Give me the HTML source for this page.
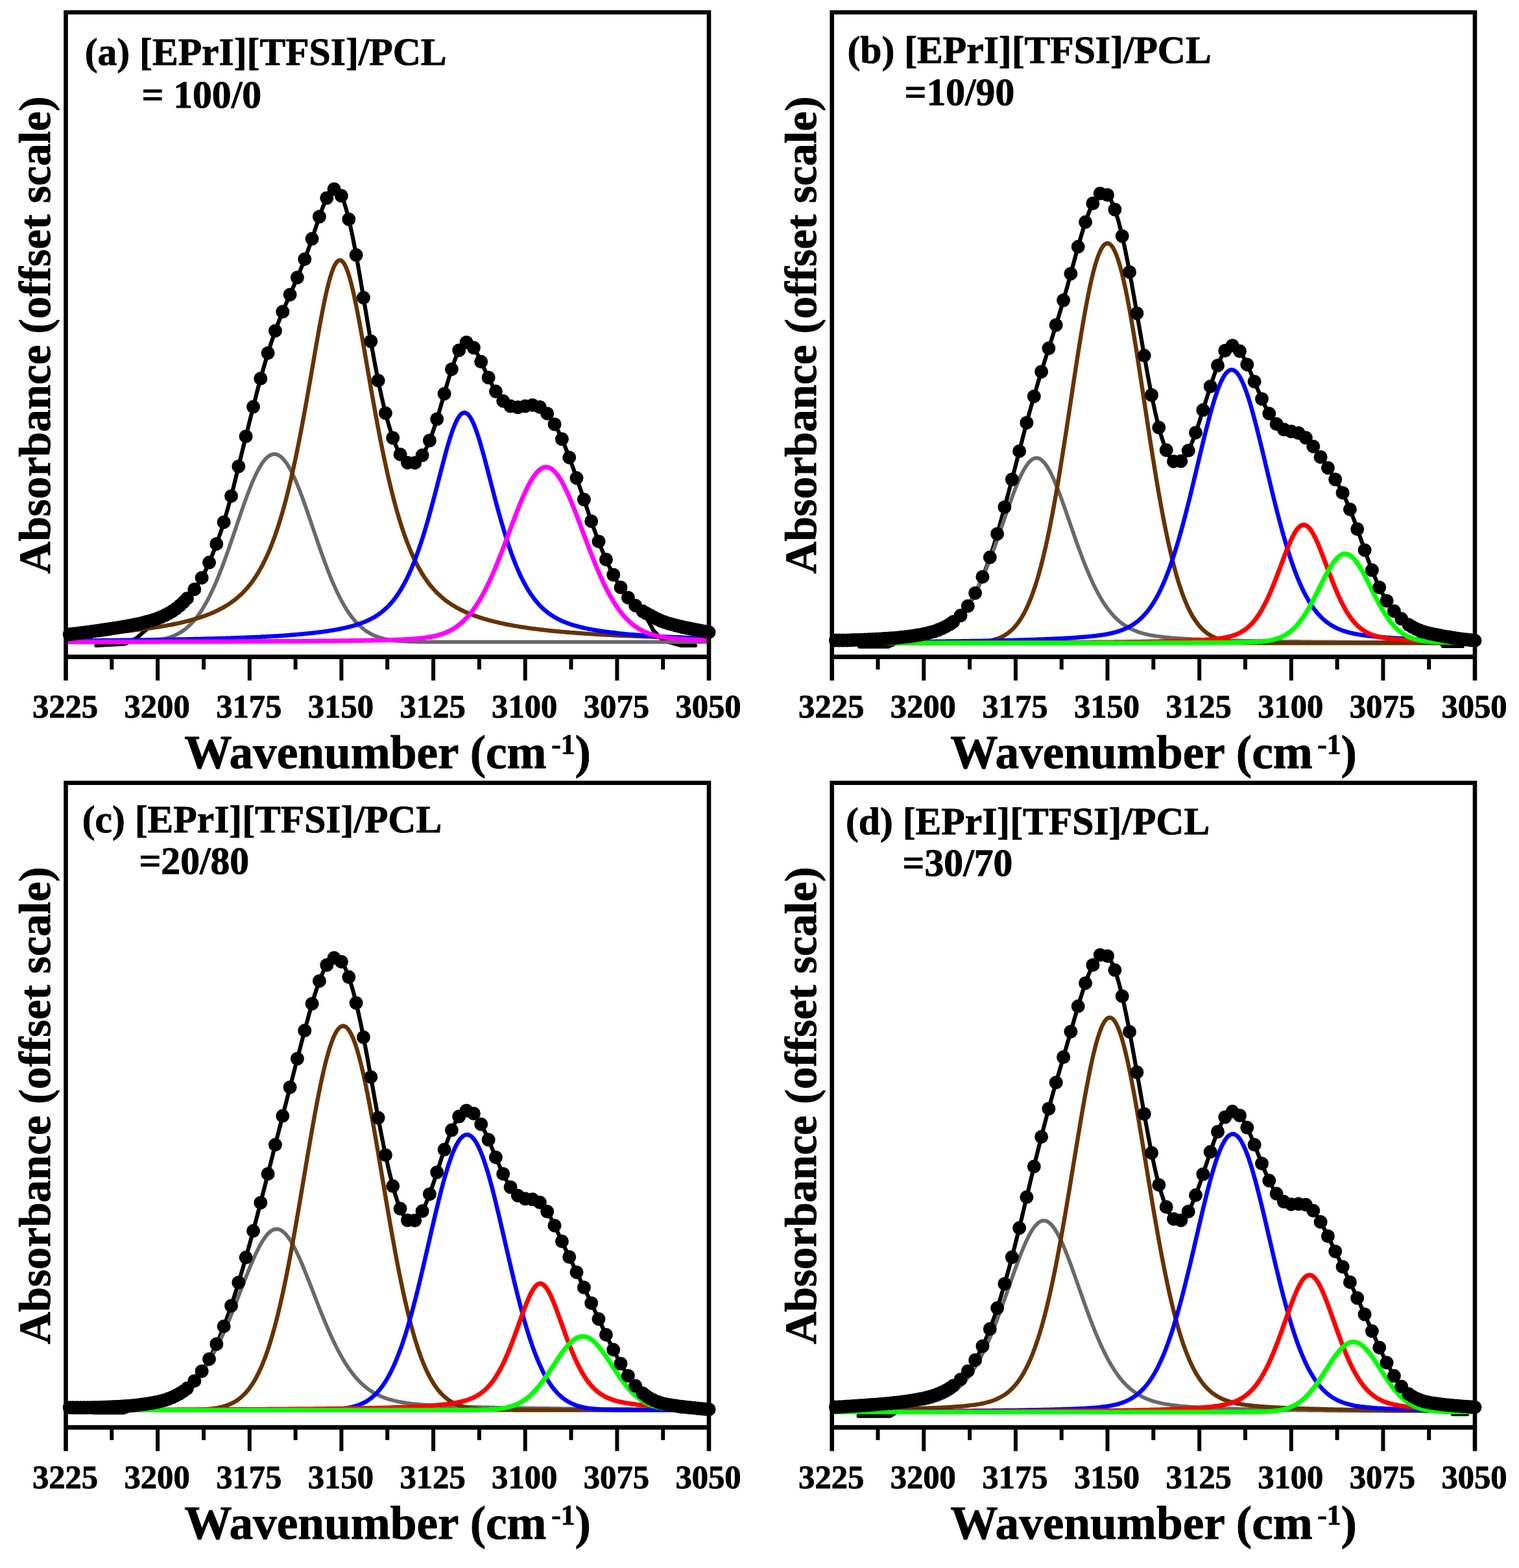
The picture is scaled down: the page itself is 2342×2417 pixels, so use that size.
<!DOCTYPE html>
<html lang="en"><head><meta charset="utf-8"><title>FTIR curve fitting of [EPrI][TFSI]/PCL blends</title>
<style>
html,body{margin:0;padding:0;background:#fff}
body{width:2342px;height:2417px;overflow:hidden}
svg{display:block}
text{fill:#000;text-rendering:geometricPrecision}
</style></head><body>
<svg width="2342" height="2417" viewBox="0 0 2342 2417">
<rect width="2342" height="2417" fill="#fff"/>
<g id="panel-a">
<path d="M148.5 995.0 L192.7 992.5 L210.0 984.0 L227.5 969.0 L268.0 940.6 L270.0 939.2 L272.0 937.7 L274.0 936.1 L276.0 934.5 L278.0 932.8 L280.0 931.0 L282.0 929.1 L284.0 927.1 L286.0 925.0 L288.0 922.9 L290.0 920.7 L292.0 918.4 L294.0 916.0 L296.0 913.5 L298.0 910.9 L300.0 908.1 L302.0 905.3 L304.0 902.3 L306.0 899.3 L308.0 896.1 L310.0 892.7 L312.0 889.0 L314.0 885.2 L316.0 881.2 L318.0 877.0 L320.0 872.7 L322.0 868.2 L324.0 863.5 L326.0 858.7 L328.0 853.7 L330.0 848.6 L332.0 843.3 L334.0 837.8 L336.0 832.3 L338.0 826.7 L340.0 820.9 L342.0 814.9 L344.0 808.6 L346.0 802.0 L348.0 795.2 L350.0 788.2 L352.0 781.1 L354.0 773.8 L356.0 766.4 L358.0 758.8 L360.0 750.9 L362.0 742.7 L364.0 734.5 L366.0 726.3 L368.0 718.1 L370.0 709.9 L372.0 701.8 L374.0 693.6 L376.0 685.4 L378.0 677.3 L380.0 669.1 L382.0 661.0 L384.0 652.9 L386.0 644.9 L388.0 636.9 L390.0 628.9 L392.0 621.0 L394.0 613.1 L396.0 605.3 L398.0 597.6 L400.0 590.1 L402.0 582.7 L404.0 575.4 L406.0 568.3 L408.0 561.3 L410.0 554.5 L412.0 547.8 L414.0 541.3 L416.0 535.0 L418.0 528.8 L420.0 522.8 L422.0 516.9 L424.0 511.2 L426.0 505.7 L428.0 500.3 L430.0 495.1 L432.0 490.0 L434.0 485.0 L436.0 480.1 L438.0 475.3 L440.0 470.6 L442.0 465.9 L444.0 461.3 L446.0 456.7 L448.0 452.1 L450.0 447.5 L452.0 442.9 L454.0 438.3 L456.0 433.6 L458.0 428.8 L460.0 424.0 L462.0 419.2 L464.0 414.2 L466.0 409.2 L468.0 404.1 L470.0 398.8 L472.0 393.5 L474.0 388.1 L476.0 382.7 L478.0 377.1 L480.0 371.3 L482.0 365.4 L484.0 359.4 L486.0 353.3 L488.0 347.2 L490.0 341.2 L492.0 335.3 L494.0 329.6 L496.0 324.0 L498.0 318.7 L500.0 313.6 L502.0 309.0 L504.0 304.7 L506.0 300.9 L508.0 297.7 L510.0 295.0 L512.0 293.0 L514.0 291.8 L516.0 291.2 L518.0 291.5 L520.0 292.6 L522.0 294.6 L524.0 297.3 L526.0 300.9 L528.0 305.3 L530.0 310.6 L532.0 316.6 L534.0 323.4 L536.0 330.8 L538.0 338.9 L540.0 347.6 L542.0 356.8 L544.0 366.4 L546.0 376.6 L548.0 387.1 L550.0 398.1 L552.0 409.3 L554.0 420.8 L556.0 432.4 L558.0 444.3 L560.0 456.2 L562.0 468.3 L564.0 480.3 L566.0 492.3 L568.0 504.2 L570.0 515.9 L572.0 527.4 L574.0 538.7 L576.0 549.8 L578.0 560.6 L580.0 571.1 L582.0 581.3 L584.0 591.2 L586.0 600.7 L588.0 609.9 L590.0 618.7 L592.0 627.1 L594.0 635.2 L596.0 642.9 L598.0 650.2 L600.0 657.2 L602.0 663.7 L604.0 669.9 L606.0 675.7 L608.0 681.0 L610.0 686.0 L612.0 690.6 L614.0 694.8 L616.0 698.6 L618.0 701.9 L620.0 704.9 L622.0 707.5 L624.0 709.7 L626.0 711.5 L628.0 712.9 L630.0 714.0 L632.0 714.6 L634.0 714.8 L636.0 714.7 L638.0 714.2 L640.0 713.3 L642.0 712.0 L644.0 710.4 L646.0 708.4 L648.0 706.1 L650.0 703.4 L652.0 700.3 L654.0 696.9 L656.0 693.2 L658.0 689.1 L660.0 684.7 L662.0 680.0 L664.0 674.9 L666.0 669.5 L668.0 663.7 L670.0 657.7 L672.0 651.5 L674.0 645.1 L676.0 638.5 L678.0 631.7 L680.0 624.7 L682.0 617.7 L684.0 610.6 L686.0 603.6 L688.0 596.7 L690.0 589.9 L692.0 583.2 L694.0 576.7 L696.0 570.4 L698.0 564.3 L700.0 558.5 L702.0 553.0 L704.0 548.0 L706.0 543.4 L708.0 539.4 L710.0 535.9 L712.0 532.9 L714.0 530.5 L716.0 528.8 L718.0 527.9 L720.0 527.7 L722.0 528.2 L724.0 529.2 L726.0 530.8 L728.0 532.9 L730.0 535.4 L732.0 538.4 L734.0 541.8 L736.0 545.6 L738.0 549.7 L740.0 553.8 L742.0 558.1 L744.0 562.4 L746.0 566.8 L748.0 571.2 L750.0 575.5 L752.0 579.8 L754.0 584.0 L756.0 588.0 L758.0 591.9 L760.0 595.7 L762.0 599.2 L764.0 602.6 L766.0 605.8 L768.0 608.8 L770.0 611.6 L772.0 614.1 L774.0 616.4 L776.0 618.5 L778.0 620.4 L780.0 622.0 L782.0 623.4 L784.0 624.6 L786.0 625.6 L788.0 626.4 L790.0 627.0 L792.0 627.4 L794.0 627.7 L796.0 627.9 L798.0 627.8 L800.0 627.7 L802.0 627.5 L804.0 627.1 L806.0 626.8 L808.0 626.4 L810.0 625.9 L812.0 625.5 L814.0 625.2 L816.0 624.8 L818.0 624.6 L820.0 624.4 L822.0 624.4 L824.0 624.5 L826.0 624.9 L828.0 625.6 L830.0 626.4 L832.0 627.3 L834.0 628.5 L836.0 629.9 L838.0 631.6 L840.0 633.4 L842.0 635.5 L844.0 637.7 L846.0 640.2 L848.0 642.9 L850.0 645.8 L852.0 648.9 L854.0 652.1 L856.0 655.6 L858.0 659.2 L860.0 663.1 L862.0 667.2 L864.0 671.5 L866.0 676.0 L868.0 680.6 L870.0 685.4 L872.0 690.4 L874.0 695.5 L876.0 700.7 L878.0 706.0 L880.0 711.5 L882.0 716.9 L884.0 722.5 L886.0 728.1 L888.0 733.8 L890.0 739.6 L892.0 745.4 L894.0 751.3 L896.0 757.1 L898.0 763.0 L900.0 768.9 L902.0 774.9 L904.0 780.8 L906.0 786.8 L908.0 792.7 L910.0 798.5 L912.0 804.3 L914.0 810.0 L916.0 815.7 L918.0 821.2 L920.0 826.7 L922.0 832.0 L924.0 837.3 L926.0 842.4 L928.0 847.4 L930.0 852.2 L932.0 857.0 L934.0 861.6 L936.0 866.1 L938.0 870.5 L940.0 874.7 L942.0 878.8 L944.0 882.8 L946.0 886.6 L948.0 890.3 L950.0 893.9 L952.0 897.3 L954.0 900.7 L956.0 903.9 L958.0 906.9 L960.0 909.9 L962.0 912.8 L964.0 915.6 L966.0 918.2 L968.0 920.7 L970.0 923.2 L972.0 925.5 L974.0 927.7 L976.0 929.8 L978.0 931.8 L980.0 933.7 L982.0 935.5 L984.0 937.2 L986.0 938.7 L988.0 940.2 L990.0 941.6 L992.0 942.9 L1007.5 972.0 L1022.0 987.0 L1050.0 995.0 L1072.0 995.0" fill="none" stroke="#000" stroke-width="6.2" stroke-linejoin="round" stroke-linecap="round"/>
<path d="M101.5 989.7 L104.0 989.7 L106.5 989.7 L109.0 989.7 L111.5 989.7 L114.0 989.7 L116.5 989.7 L119.0 989.7 L121.5 989.7 L124.0 989.7 L126.5 989.7 L129.0 989.7 L131.5 989.7 L134.0 989.7 L136.5 989.7 L139.0 989.7 L141.5 989.7 L144.0 989.7 L146.5 989.7 L149.0 989.7 L151.5 989.7 L154.0 989.7 L156.5 989.7 L159.0 989.7 L161.5 989.7 L164.0 989.7 L166.5 989.7 L169.0 989.7 L171.5 989.7 L174.0 989.7 L176.5 989.6 L179.0 989.6 L181.5 989.6 L184.0 989.6 L186.5 989.6 L189.0 989.6 L191.5 989.6 L194.0 989.5 L196.5 989.5 L199.0 989.5 L201.5 989.4 L204.0 989.4 L206.5 989.3 L209.0 989.3 L211.5 989.2 L214.0 989.1 L216.5 989.0 L219.0 988.9 L221.5 988.8 L224.0 988.6 L226.5 988.5 L229.0 988.3 L231.5 988.1 L234.0 987.8 L236.5 987.6 L239.0 987.3 L241.5 987.0 L244.0 986.6 L246.5 986.2 L249.0 985.7 L251.5 985.2 L254.0 984.6 L256.5 984.0 L259.0 983.2 L261.5 982.5 L264.0 981.6 L266.5 980.6 L269.0 979.6 L271.5 978.4 L274.0 977.2 L276.5 975.8 L279.0 974.3 L281.5 972.6 L284.0 970.9 L286.5 968.9 L289.0 966.9 L291.5 964.6 L294.0 962.2 L296.5 959.6 L299.0 956.8 L301.5 953.8 L304.0 950.6 L306.5 947.2 L309.0 943.6 L311.5 939.8 L314.0 935.7 L316.5 931.5 L319.0 927.0 L321.5 922.2 L324.0 917.3 L326.5 912.1 L329.0 906.7 L331.5 901.1 L334.0 895.2 L336.5 889.2 L339.0 882.9 L341.5 876.5 L344.0 869.9 L346.5 863.1 L349.0 856.2 L351.5 849.1 L354.0 842.0 L356.5 834.7 L359.0 827.4 L361.5 820.0 L364.0 812.7 L366.5 805.3 L369.0 797.9 L371.5 790.6 L374.0 783.4 L376.5 776.3 L379.0 769.4 L381.5 762.6 L384.0 756.1 L386.5 749.8 L389.0 743.7 L391.5 737.9 L394.0 732.5 L396.5 727.4 L399.0 722.7 L401.5 718.3 L404.0 714.4 L406.5 710.9 L409.0 707.9 L411.5 705.4 L414.0 703.3 L416.5 701.7 L419.0 700.7 L421.5 700.1 L424.0 700.0 L426.5 700.5 L429.0 701.5 L431.5 702.9 L434.0 704.9 L436.5 707.4 L439.0 710.3 L441.5 713.7 L444.0 717.5 L446.5 721.8 L449.0 726.4 L451.5 731.4 L454.0 736.8 L456.5 742.5 L459.0 748.5 L461.5 754.8 L464.0 761.3 L466.5 768.0 L469.0 774.9 L471.5 782.0 L474.0 789.2 L476.5 796.5 L479.0 803.8 L481.5 811.2 L484.0 818.6 L486.5 825.9 L489.0 833.3 L491.5 840.5 L494.0 847.7 L496.5 854.8 L499.0 861.7 L501.5 868.5 L504.0 875.2 L506.5 881.7 L509.0 887.9 L511.5 894.0 L514.0 899.9 L516.5 905.6 L519.0 911.0 L521.5 916.3 L524.0 921.3 L526.5 926.0 L529.0 930.6 L531.5 934.9 L534.0 939.0 L536.5 942.9 L539.0 946.5 L541.5 950.0 L544.0 953.2 L546.5 956.2 L549.0 959.0 L551.5 961.7 L554.0 964.1 L556.5 966.4 L559.0 968.5 L561.5 970.5 L564.0 972.3 L566.5 974.0 L569.0 975.5 L571.5 976.9 L574.0 978.2 L576.5 979.4 L579.0 980.4 L581.5 981.4 L584.0 982.3 L586.5 983.1 L589.0 983.8 L591.5 984.5 L594.0 985.1 L596.5 985.6 L599.0 986.1 L601.5 986.5 L604.0 986.9 L606.5 987.2 L609.0 987.5 L611.5 987.8 L614.0 988.0 L616.5 988.2 L619.0 988.4 L621.5 988.6 L624.0 988.7 L626.5 988.9 L629.0 989.0 L631.5 989.1 L634.0 989.2 L636.5 989.2 L639.0 989.3 L641.5 989.4 L644.0 989.4 L646.5 989.5 L649.0 989.5 L651.5 989.5 L654.0 989.5 L656.5 989.6 L659.0 989.6 L661.5 989.6 L664.0 989.6 L666.5 989.6 L669.0 989.6 L671.5 989.7 L674.0 989.7 L676.5 989.7 L679.0 989.7 L681.5 989.7 L684.0 989.7 L686.5 989.7 L689.0 989.7 L691.5 989.7 L694.0 989.7 L696.5 989.7 L699.0 989.7 L701.5 989.7 L704.0 989.7 L706.5 989.7 L709.0 989.7 L711.5 989.7 L714.0 989.7 L716.5 989.7 L719.0 989.7 L721.5 989.7 L724.0 989.7 L726.5 989.7 L729.0 989.7 L731.5 989.7 L734.0 989.7 L736.5 989.7 L739.0 989.7 L741.5 989.7 L744.0 989.7 L746.5 989.7 L749.0 989.7 L751.5 989.7 L754.0 989.7 L756.5 989.7 L759.0 989.7 L761.5 989.7 L764.0 989.7 L766.5 989.7 L769.0 989.7 L771.5 989.7 L774.0 989.7 L776.5 989.7 L779.0 989.7 L781.5 989.7 L784.0 989.7 L786.5 989.7 L789.0 989.7 L791.5 989.7 L794.0 989.7 L796.5 989.7 L799.0 989.7 L801.5 989.7 L804.0 989.7 L806.5 989.7 L809.0 989.7 L811.5 989.7 L814.0 989.7 L816.5 989.7 L819.0 989.7 L821.5 989.7 L824.0 989.7 L826.5 989.7 L829.0 989.7 L831.5 989.7 L834.0 989.7 L836.5 989.7 L839.0 989.7 L841.5 989.7 L844.0 989.7 L846.5 989.7 L849.0 989.7 L851.5 989.7 L854.0 989.7 L856.5 989.7 L859.0 989.7 L861.5 989.7 L864.0 989.7 L866.5 989.7 L869.0 989.7 L871.5 989.7 L874.0 989.7 L876.5 989.7 L879.0 989.7 L881.5 989.7 L884.0 989.7 L886.5 989.7 L889.0 989.7 L891.5 989.7 L894.0 989.7 L896.5 989.7 L899.0 989.7 L901.5 989.7 L904.0 989.7 L906.5 989.7 L909.0 989.7 L911.5 989.7 L914.0 989.7 L916.5 989.7 L919.0 989.7 L921.5 989.7 L924.0 989.7 L926.5 989.7 L929.0 989.7 L931.5 989.7 L934.0 989.7 L936.5 989.7 L939.0 989.7 L941.5 989.7 L944.0 989.7 L946.5 989.7 L949.0 989.7 L951.5 989.7 L954.0 989.7 L956.5 989.7 L959.0 989.7 L961.5 989.7 L964.0 989.7 L966.5 989.7 L969.0 989.7 L971.5 989.7 L974.0 989.7 L976.5 989.7 L979.0 989.7 L981.5 989.7 L984.0 989.7 L986.5 989.7 L989.0 989.7 L991.5 989.7 L994.0 989.7 L996.5 989.7 L999.0 989.7 L1001.5 989.7 L1004.0 989.7 L1006.5 989.7 L1009.0 989.7 L1011.5 989.7 L1014.0 989.7 L1016.5 989.7 L1019.0 989.7 L1021.5 989.7 L1024.0 989.7 L1026.5 989.7 L1029.0 989.7 L1031.5 989.7 L1034.0 989.7 L1036.5 989.7 L1039.0 989.7 L1041.5 989.7 L1044.0 989.7 L1046.5 989.7 L1049.0 989.7 L1051.5 989.7 L1054.0 989.7 L1056.5 989.7 L1059.0 989.7 L1061.5 989.7 L1064.0 989.7 L1066.5 989.7 L1069.0 989.7 L1071.5 989.7 L1074.0 989.7 L1076.5 989.7 L1079.0 989.7 L1081.5 989.7 L1084.0 989.7 L1086.5 989.7 L1089.0 989.7 L1091.5 989.7" fill="none" stroke="#696969" stroke-width="5.8" stroke-linejoin="round"/>
<path d="M101.5 979.2 L104.0 979.1 L106.5 978.9 L109.0 978.8 L111.5 978.7 L114.0 978.5 L116.5 978.4 L119.0 978.3 L121.5 978.1 L124.0 978.0 L126.5 977.9 L129.0 977.7 L131.5 977.6 L134.0 977.4 L136.5 977.3 L139.0 977.1 L141.5 976.9 L144.0 976.8 L146.5 976.6 L149.0 976.4 L151.5 976.3 L154.0 976.1 L156.5 975.9 L159.0 975.7 L161.5 975.5 L164.0 975.3 L166.5 975.1 L169.0 974.9 L171.5 974.7 L174.0 974.5 L176.5 974.3 L179.0 974.1 L181.5 973.9 L184.0 973.7 L186.5 973.4 L189.0 973.2 L191.5 973.0 L194.0 972.7 L196.5 972.5 L199.0 972.2 L201.5 972.0 L204.0 971.7 L206.5 971.4 L209.0 971.1 L211.5 970.8 L214.0 970.6 L216.5 970.3 L219.0 969.9 L221.5 969.6 L224.0 969.3 L226.5 969.0 L229.0 968.7 L231.5 968.3 L234.0 968.0 L236.5 967.6 L239.0 967.2 L241.5 966.8 L244.0 966.5 L246.5 966.1 L249.0 965.7 L251.5 965.2 L254.0 964.8 L256.5 964.4 L259.0 963.9 L261.5 963.4 L264.0 963.0 L266.5 962.5 L269.0 962.0 L271.5 961.5 L274.0 960.9 L276.5 960.4 L279.0 959.8 L281.5 959.2 L284.0 958.6 L286.5 958.0 L289.0 957.4 L291.5 956.7 L294.0 956.1 L296.5 955.4 L299.0 954.7 L301.5 953.9 L304.0 953.2 L306.5 952.4 L309.0 951.6 L311.5 950.7 L314.0 949.9 L316.5 949.0 L319.0 948.0 L321.5 947.1 L324.0 946.1 L326.5 945.0 L329.0 944.0 L331.5 942.9 L334.0 941.7 L336.5 940.5 L339.0 939.2 L341.5 937.9 L344.0 936.5 L346.5 935.1 L349.0 933.6 L351.5 932.0 L354.0 930.4 L356.5 928.7 L359.0 926.9 L361.5 925.0 L364.0 923.0 L366.5 920.9 L369.0 918.7 L371.5 916.4 L374.0 914.0 L376.5 911.4 L379.0 908.7 L381.5 905.9 L384.0 902.9 L386.5 899.8 L389.0 896.4 L391.5 892.9 L394.0 889.2 L396.5 885.3 L399.0 881.2 L401.5 876.9 L404.0 872.3 L406.5 867.4 L409.0 862.4 L411.5 857.0 L414.0 851.4 L416.5 845.4 L419.0 839.2 L421.5 832.6 L424.0 825.8 L426.5 818.5 L429.0 811.0 L431.5 803.0 L434.0 794.7 L436.5 786.1 L439.0 777.0 L441.5 767.6 L444.0 757.7 L446.5 747.5 L449.0 736.9 L451.5 725.8 L454.0 714.4 L456.5 702.6 L459.0 690.4 L461.5 677.9 L464.0 665.0 L466.5 651.7 L469.0 638.2 L471.5 624.4 L474.0 610.3 L476.5 596.1 L479.0 581.7 L481.5 567.2 L484.0 552.7 L486.5 538.3 L489.0 524.0 L491.5 509.9 L494.0 496.2 L496.5 483.0 L499.0 470.3 L501.5 458.4 L504.0 447.2 L506.5 437.0 L509.0 427.9 L511.5 419.9 L514.0 413.2 L516.5 407.9 L519.0 404.1 L521.5 401.8 L524.0 401.0 L526.5 401.8 L529.0 404.1 L531.5 407.9 L534.0 413.2 L536.5 419.9 L539.0 427.9 L541.5 437.0 L544.0 447.2 L546.5 458.4 L549.0 470.3 L551.5 483.0 L554.0 496.2 L556.5 509.9 L559.0 524.0 L561.5 538.3 L564.0 552.7 L566.5 567.2 L569.0 581.7 L571.5 596.1 L574.0 610.3 L576.5 624.4 L579.0 638.2 L581.5 651.7 L584.0 665.0 L586.5 677.9 L589.0 690.4 L591.5 702.6 L594.0 714.4 L596.5 725.8 L599.0 736.9 L601.5 747.5 L604.0 757.7 L606.5 767.6 L609.0 777.0 L611.5 786.1 L614.0 794.7 L616.5 803.0 L619.0 811.0 L621.5 818.5 L624.0 825.8 L626.5 832.6 L629.0 839.2 L631.5 845.4 L634.0 851.4 L636.5 857.0 L639.0 862.4 L641.5 867.4 L644.0 872.3 L646.5 876.9 L649.0 881.2 L651.5 885.3 L654.0 889.2 L656.5 892.9 L659.0 896.4 L661.5 899.8 L664.0 902.9 L666.5 905.9 L669.0 908.7 L671.5 911.4 L674.0 914.0 L676.5 916.4 L679.0 918.7 L681.5 920.9 L684.0 923.0 L686.5 925.0 L689.0 926.9 L691.5 928.7 L694.0 930.4 L696.5 932.0 L699.0 933.6 L701.5 935.1 L704.0 936.5 L706.5 937.9 L709.0 939.2 L711.5 940.5 L714.0 941.7 L716.5 942.9 L719.0 944.0 L721.5 945.0 L724.0 946.1 L726.5 947.1 L729.0 948.0 L731.5 949.0 L734.0 949.9 L736.5 950.7 L739.0 951.6 L741.5 952.4 L744.0 953.2 L746.5 953.9 L749.0 954.7 L751.5 955.4 L754.0 956.1 L756.5 956.7 L759.0 957.4 L761.5 958.0 L764.0 958.6 L766.5 959.2 L769.0 959.8 L771.5 960.4 L774.0 960.9 L776.5 961.5 L779.0 962.0 L781.5 962.5 L784.0 963.0 L786.5 963.4 L789.0 963.9 L791.5 964.4 L794.0 964.8 L796.5 965.2 L799.0 965.7 L801.5 966.1 L804.0 966.5 L806.5 966.8 L809.0 967.2 L811.5 967.6 L814.0 968.0 L816.5 968.3 L819.0 968.7 L821.5 969.0 L824.0 969.3 L826.5 969.6 L829.0 969.9 L831.5 970.3 L834.0 970.6 L836.5 970.8 L839.0 971.1 L841.5 971.4 L844.0 971.7 L846.5 972.0 L849.0 972.2 L851.5 972.5 L854.0 972.7 L856.5 973.0 L859.0 973.2 L861.5 973.4 L864.0 973.7 L866.5 973.9 L869.0 974.1 L871.5 974.3 L874.0 974.5 L876.5 974.7 L879.0 974.9 L881.5 975.1 L884.0 975.3 L886.5 975.5 L889.0 975.7 L891.5 975.9 L894.0 976.1 L896.5 976.3 L899.0 976.4 L901.5 976.6 L904.0 976.8 L906.5 976.9 L909.0 977.1 L911.5 977.3 L914.0 977.4 L916.5 977.6 L919.0 977.7 L921.5 977.9 L924.0 978.0 L926.5 978.1 L929.0 978.3 L931.5 978.4 L934.0 978.5 L936.5 978.7 L939.0 978.8 L941.5 978.9 L944.0 979.1 L946.5 979.2 L949.0 979.3 L951.5 979.4 L954.0 979.5 L956.5 979.7 L959.0 979.8 L961.5 979.9 L964.0 980.0 L966.5 980.1 L969.0 980.2 L971.5 980.3 L974.0 980.4 L976.5 980.5 L979.0 980.6 L981.5 980.7 L984.0 980.8 L986.5 980.9 L989.0 981.0 L991.5 981.1 L994.0 981.2 L996.5 981.3 L999.0 981.3 L1001.5 981.4 L1004.0 981.5 L1006.5 981.6 L1009.0 981.7 L1011.5 981.8 L1014.0 981.8 L1016.5 981.9 L1019.0 982.0 L1021.5 982.1 L1024.0 982.1 L1026.5 982.2 L1029.0 982.3 L1031.5 982.4 L1034.0 982.4 L1036.5 982.5 L1039.0 982.6 L1041.5 982.6 L1044.0 982.7 L1046.5 982.8 L1049.0 982.8 L1051.5 982.9 L1054.0 983.0 L1056.5 983.0 L1059.0 983.1 L1061.5 983.1 L1064.0 983.2 L1066.5 983.3 L1069.0 983.3 L1071.5 983.4 L1074.0 983.4 L1076.5 983.5 L1079.0 983.5 L1081.5 983.6 L1084.0 983.7 L1086.5 983.7 L1089.0 983.8 L1091.5 983.8" fill="none" stroke="#663300" stroke-width="6.4" stroke-linejoin="round"/>
<path d="M101.5 987.6 L104.0 987.5 L106.5 987.5 L109.0 987.5 L111.5 987.5 L114.0 987.5 L116.5 987.5 L119.0 987.4 L121.5 987.4 L124.0 987.4 L126.5 987.4 L129.0 987.4 L131.5 987.3 L134.0 987.3 L136.5 987.3 L139.0 987.3 L141.5 987.3 L144.0 987.2 L146.5 987.2 L149.0 987.2 L151.5 987.2 L154.0 987.2 L156.5 987.1 L159.0 987.1 L161.5 987.1 L164.0 987.1 L166.5 987.0 L169.0 987.0 L171.5 987.0 L174.0 987.0 L176.5 986.9 L179.0 986.9 L181.5 986.9 L184.0 986.9 L186.5 986.8 L189.0 986.8 L191.5 986.8 L194.0 986.8 L196.5 986.7 L199.0 986.7 L201.5 986.7 L204.0 986.6 L206.5 986.6 L209.0 986.6 L211.5 986.5 L214.0 986.5 L216.5 986.5 L219.0 986.5 L221.5 986.4 L224.0 986.4 L226.5 986.4 L229.0 986.3 L231.5 986.3 L234.0 986.2 L236.5 986.2 L239.0 986.2 L241.5 986.1 L244.0 986.1 L246.5 986.1 L249.0 986.0 L251.5 986.0 L254.0 985.9 L256.5 985.9 L259.0 985.9 L261.5 985.8 L264.0 985.8 L266.5 985.7 L269.0 985.7 L271.5 985.7 L274.0 985.6 L276.5 985.6 L279.0 985.5 L281.5 985.5 L284.0 985.4 L286.5 985.4 L289.0 985.3 L291.5 985.3 L294.0 985.2 L296.5 985.2 L299.0 985.1 L301.5 985.1 L304.0 985.0 L306.5 984.9 L309.0 984.9 L311.5 984.8 L314.0 984.8 L316.5 984.7 L319.0 984.6 L321.5 984.6 L324.0 984.5 L326.5 984.5 L329.0 984.4 L331.5 984.3 L334.0 984.3 L336.5 984.2 L339.0 984.1 L341.5 984.0 L344.0 984.0 L346.5 983.9 L349.0 983.8 L351.5 983.7 L354.0 983.7 L356.5 983.6 L359.0 983.5 L361.5 983.4 L364.0 983.3 L366.5 983.2 L369.0 983.1 L371.5 983.0 L374.0 982.9 L376.5 982.8 L379.0 982.7 L381.5 982.6 L384.0 982.5 L386.5 982.4 L389.0 982.3 L391.5 982.2 L394.0 982.1 L396.5 982.0 L399.0 981.9 L401.5 981.8 L404.0 981.6 L406.5 981.5 L409.0 981.4 L411.5 981.2 L414.0 981.1 L416.5 981.0 L419.0 980.8 L421.5 980.7 L424.0 980.5 L426.5 980.4 L429.0 980.2 L431.5 980.1 L434.0 979.9 L436.5 979.7 L439.0 979.6 L441.5 979.4 L444.0 979.2 L446.5 979.0 L449.0 978.8 L451.5 978.6 L454.0 978.4 L456.5 978.2 L459.0 978.0 L461.5 977.8 L464.0 977.6 L466.5 977.3 L469.0 977.1 L471.5 976.8 L474.0 976.6 L476.5 976.3 L479.0 976.1 L481.5 975.8 L484.0 975.5 L486.5 975.2 L489.0 974.9 L491.5 974.6 L494.0 974.3 L496.5 974.0 L499.0 973.6 L501.5 973.3 L504.0 972.9 L506.5 972.5 L509.0 972.1 L511.5 971.7 L514.0 971.3 L516.5 970.9 L519.0 970.4 L521.5 970.0 L524.0 969.5 L526.5 969.0 L529.0 968.4 L531.5 967.9 L534.0 967.3 L536.5 966.7 L539.0 966.1 L541.5 965.4 L544.0 964.8 L546.5 964.0 L549.0 963.3 L551.5 962.5 L554.0 961.6 L556.5 960.8 L559.0 959.8 L561.5 958.9 L564.0 957.8 L566.5 956.7 L569.0 955.5 L571.5 954.3 L574.0 953.0 L576.5 951.6 L579.0 950.1 L581.5 948.5 L584.0 946.8 L586.5 945.0 L589.0 943.1 L591.5 941.0 L594.0 938.8 L596.5 936.5 L599.0 934.0 L601.5 931.3 L604.0 928.5 L606.5 925.5 L609.0 922.2 L611.5 918.8 L614.0 915.2 L616.5 911.3 L619.0 907.2 L621.5 902.9 L624.0 898.3 L626.5 893.4 L629.0 888.3 L631.5 882.9 L634.0 877.2 L636.5 871.2 L639.0 865.0 L641.5 858.4 L644.0 851.5 L646.5 844.4 L649.0 836.9 L651.5 829.2 L654.0 821.2 L656.5 812.9 L659.0 804.3 L661.5 795.5 L664.0 786.4 L666.5 777.2 L669.0 767.8 L671.5 758.3 L674.0 748.6 L676.5 738.9 L679.0 729.2 L681.5 719.6 L684.0 710.1 L686.5 700.8 L689.0 691.7 L691.5 683.1 L694.0 674.8 L696.5 667.2 L699.0 660.2 L701.5 653.9 L704.0 648.4 L706.5 643.9 L709.0 640.3 L711.5 637.8 L714.0 636.4 L716.5 636.0 L719.0 636.8 L721.5 638.7 L724.0 641.6 L726.5 645.6 L729.0 650.5 L731.5 656.3 L734.0 662.9 L736.5 670.2 L739.0 678.1 L741.5 686.5 L744.0 695.3 L746.5 704.5 L749.0 713.9 L751.5 723.4 L754.0 733.1 L756.5 742.8 L759.0 752.5 L761.5 762.1 L764.0 771.6 L766.5 780.9 L769.0 790.1 L771.5 799.0 L774.0 807.7 L776.5 816.2 L779.0 824.4 L781.5 832.3 L784.0 839.9 L786.5 847.3 L789.0 854.3 L791.5 861.1 L794.0 867.5 L796.5 873.7 L799.0 879.5 L801.5 885.1 L804.0 890.4 L806.5 895.4 L809.0 900.2 L811.5 904.7 L814.0 908.9 L816.5 912.9 L819.0 916.7 L821.5 920.2 L824.0 923.6 L826.5 926.7 L829.0 929.6 L831.5 932.4 L834.0 935.0 L836.5 937.4 L839.0 939.7 L841.5 941.8 L844.0 943.8 L846.5 945.7 L849.0 947.5 L851.5 949.1 L854.0 950.7 L856.5 952.1 L859.0 953.5 L861.5 954.8 L864.0 956.0 L866.5 957.2 L869.0 958.2 L871.5 959.3 L874.0 960.2 L876.5 961.1 L879.0 962.0 L881.5 962.8 L884.0 963.6 L886.5 964.3 L889.0 965.0 L891.5 965.7 L894.0 966.3 L896.5 967.0 L899.0 967.5 L901.5 968.1 L904.0 968.6 L906.5 969.2 L909.0 969.7 L911.5 970.1 L914.0 970.6 L916.5 971.0 L919.0 971.5 L921.5 971.9 L924.0 972.3 L926.5 972.7 L929.0 973.0 L931.5 973.4 L934.0 973.7 L936.5 974.1 L939.0 974.4 L941.5 974.7 L944.0 975.0 L946.5 975.3 L949.0 975.6 L951.5 975.9 L954.0 976.2 L956.5 976.4 L959.0 976.7 L961.5 976.9 L964.0 977.2 L966.5 977.4 L969.0 977.7 L971.5 977.9 L974.0 978.1 L976.5 978.3 L979.0 978.5 L981.5 978.7 L984.0 978.9 L986.5 979.1 L989.0 979.3 L991.5 979.5 L994.0 979.6 L996.5 979.8 L999.0 980.0 L1001.5 980.1 L1004.0 980.3 L1006.5 980.4 L1009.0 980.6 L1011.5 980.7 L1014.0 980.9 L1016.5 981.0 L1019.0 981.2 L1021.5 981.3 L1024.0 981.4 L1026.5 981.6 L1029.0 981.7 L1031.5 981.8 L1034.0 981.9 L1036.5 982.0 L1039.0 982.2 L1041.5 982.3 L1044.0 982.4 L1046.5 982.5 L1049.0 982.6 L1051.5 982.7 L1054.0 982.8 L1056.5 982.9 L1059.0 983.0 L1061.5 983.1 L1064.0 983.2 L1066.5 983.3 L1069.0 983.3 L1071.5 983.4 L1074.0 983.5 L1076.5 983.6 L1079.0 983.7 L1081.5 983.8 L1084.0 983.8 L1086.5 983.9 L1089.0 984.0 L1091.5 984.1" fill="none" stroke="#0000ff" stroke-width="6.5" stroke-linejoin="round"/>
<path d="M101.5 989.3 L104.0 989.3 L106.5 989.3 L109.0 989.3 L111.5 989.3 L114.0 989.3 L116.5 989.3 L119.0 989.3 L121.5 989.3 L124.0 989.3 L126.5 989.3 L129.0 989.3 L131.5 989.3 L134.0 989.3 L136.5 989.3 L139.0 989.3 L141.5 989.3 L144.0 989.3 L146.5 989.3 L149.0 989.3 L151.5 989.3 L154.0 989.3 L156.5 989.3 L159.0 989.3 L161.5 989.3 L164.0 989.3 L166.5 989.3 L169.0 989.3 L171.5 989.3 L174.0 989.3 L176.5 989.3 L179.0 989.3 L181.5 989.3 L184.0 989.2 L186.5 989.2 L189.0 989.2 L191.5 989.2 L194.0 989.2 L196.5 989.2 L199.0 989.2 L201.5 989.2 L204.0 989.2 L206.5 989.2 L209.0 989.2 L211.5 989.2 L214.0 989.2 L216.5 989.2 L219.0 989.2 L221.5 989.2 L224.0 989.2 L226.5 989.2 L229.0 989.2 L231.5 989.2 L234.0 989.2 L236.5 989.2 L239.0 989.2 L241.5 989.2 L244.0 989.2 L246.5 989.1 L249.0 989.1 L251.5 989.1 L254.0 989.1 L256.5 989.1 L259.0 989.1 L261.5 989.1 L264.0 989.1 L266.5 989.1 L269.0 989.1 L271.5 989.1 L274.0 989.1 L276.5 989.1 L279.0 989.1 L281.5 989.1 L284.0 989.1 L286.5 989.1 L289.0 989.1 L291.5 989.1 L294.0 989.1 L296.5 989.0 L299.0 989.0 L301.5 989.0 L304.0 989.0 L306.5 989.0 L309.0 989.0 L311.5 989.0 L314.0 989.0 L316.5 989.0 L319.0 989.0 L321.5 989.0 L324.0 989.0 L326.5 989.0 L329.0 989.0 L331.5 989.0 L334.0 988.9 L336.5 988.9 L339.0 988.9 L341.5 988.9 L344.0 988.9 L346.5 988.9 L349.0 988.9 L351.5 988.9 L354.0 988.9 L356.5 988.9 L359.0 988.9 L361.5 988.9 L364.0 988.9 L366.5 988.8 L369.0 988.8 L371.5 988.8 L374.0 988.8 L376.5 988.8 L379.0 988.8 L381.5 988.8 L384.0 988.8 L386.5 988.8 L389.0 988.8 L391.5 988.7 L394.0 988.7 L396.5 988.7 L399.0 988.7 L401.5 988.7 L404.0 988.7 L406.5 988.7 L409.0 988.7 L411.5 988.7 L414.0 988.6 L416.5 988.6 L419.0 988.6 L421.5 988.6 L424.0 988.6 L426.5 988.6 L429.0 988.6 L431.5 988.6 L434.0 988.5 L436.5 988.5 L439.0 988.5 L441.5 988.5 L444.0 988.5 L446.5 988.5 L449.0 988.5 L451.5 988.4 L454.0 988.4 L456.5 988.4 L459.0 988.4 L461.5 988.4 L464.0 988.4 L466.5 988.3 L469.0 988.3 L471.5 988.3 L474.0 988.3 L476.5 988.3 L479.0 988.2 L481.5 988.2 L484.0 988.2 L486.5 988.2 L489.0 988.2 L491.5 988.1 L494.0 988.1 L496.5 988.1 L499.0 988.1 L501.5 988.1 L504.0 988.0 L506.5 988.0 L509.0 988.0 L511.5 988.0 L514.0 987.9 L516.5 987.9 L519.0 987.9 L521.5 987.9 L524.0 987.8 L526.5 987.8 L529.0 987.8 L531.5 987.7 L534.0 987.7 L536.5 987.7 L539.0 987.6 L541.5 987.6 L544.0 987.6 L546.5 987.5 L549.0 987.5 L551.5 987.5 L554.0 987.4 L556.5 987.4 L559.0 987.4 L561.5 987.3 L564.0 987.3 L566.5 987.2 L569.0 987.2 L571.5 987.2 L574.0 987.1 L576.5 987.1 L579.0 987.0 L581.5 987.0 L584.0 986.9 L586.5 986.9 L589.0 986.8 L591.5 986.7 L594.0 986.7 L596.5 986.6 L599.0 986.5 L601.5 986.5 L604.0 986.4 L606.5 986.3 L609.0 986.2 L611.5 986.2 L614.0 986.1 L616.5 986.0 L619.0 985.9 L621.5 985.8 L624.0 985.6 L626.5 985.5 L629.0 985.4 L631.5 985.2 L634.0 985.1 L636.5 984.9 L639.0 984.7 L641.5 984.5 L644.0 984.3 L646.5 984.1 L649.0 983.8 L651.5 983.5 L654.0 983.2 L656.5 982.9 L659.0 982.5 L661.5 982.1 L664.0 981.7 L666.5 981.2 L669.0 980.7 L671.5 980.1 L674.0 979.5 L676.5 978.8 L679.0 978.1 L681.5 977.2 L684.0 976.4 L686.5 975.4 L689.0 974.3 L691.5 973.2 L694.0 972.0 L696.5 970.6 L699.0 969.2 L701.5 967.6 L704.0 965.9 L706.5 964.1 L709.0 962.1 L711.5 960.1 L714.0 957.8 L716.5 955.4 L719.0 952.8 L721.5 950.1 L724.0 947.2 L726.5 944.1 L729.0 940.8 L731.5 937.4 L734.0 933.7 L736.5 929.9 L739.0 925.8 L741.5 921.6 L744.0 917.1 L746.5 912.5 L749.0 907.6 L751.5 902.6 L754.0 897.4 L756.5 892.0 L759.0 886.4 L761.5 880.6 L764.0 874.7 L766.5 868.6 L769.0 862.4 L771.5 856.1 L774.0 849.7 L776.5 843.2 L779.0 836.6 L781.5 829.9 L784.0 823.3 L786.5 816.6 L789.0 809.9 L791.5 803.3 L794.0 796.7 L796.5 790.2 L799.0 783.8 L801.5 777.6 L804.0 771.6 L806.5 765.7 L809.0 760.1 L811.5 754.7 L814.0 749.6 L816.5 744.9 L819.0 740.5 L821.5 736.4 L824.0 732.8 L826.5 729.6 L829.0 726.8 L831.5 724.4 L834.0 722.6 L836.5 721.2 L839.0 720.4 L841.5 720.0 L844.0 720.2 L846.5 720.8 L849.0 722.0 L851.5 723.6 L854.0 725.8 L856.5 728.4 L859.0 731.4 L861.5 734.9 L864.0 738.8 L866.5 743.1 L869.0 747.7 L871.5 752.7 L874.0 757.9 L876.5 763.4 L879.0 769.2 L881.5 775.2 L884.0 781.3 L886.5 787.7 L889.0 794.1 L891.5 800.6 L894.0 807.3 L896.5 813.9 L899.0 820.6 L901.5 827.3 L904.0 833.9 L906.5 840.6 L909.0 847.1 L911.5 853.6 L914.0 859.9 L916.5 866.2 L919.0 872.3 L921.5 878.3 L924.0 884.1 L926.5 889.7 L929.0 895.2 L931.5 900.5 L934.0 905.6 L936.5 910.6 L939.0 915.3 L941.5 919.8 L944.0 924.1 L946.5 928.3 L949.0 932.2 L951.5 935.9 L954.0 939.5 L956.5 942.8 L959.0 946.0 L961.5 949.0 L964.0 951.8 L966.5 954.4 L969.0 956.9 L971.5 959.2 L974.0 961.3 L976.5 963.3 L979.0 965.2 L981.5 966.9 L984.0 968.6 L986.5 970.1 L989.0 971.4 L991.5 972.7 L994.0 973.9 L996.5 975.0 L999.0 976.0 L1001.5 976.9 L1004.0 977.7 L1006.5 978.5 L1009.0 979.2 L1011.5 979.9 L1014.0 980.5 L1016.5 981.0 L1019.0 981.5 L1021.5 982.0 L1024.0 982.4 L1026.5 982.8 L1029.0 983.1 L1031.5 983.4 L1034.0 983.7 L1036.5 984.0 L1039.0 984.2 L1041.5 984.4 L1044.0 984.6 L1046.5 984.8 L1049.0 985.0 L1051.5 985.2 L1054.0 985.3 L1056.5 985.5 L1059.0 985.6 L1061.5 985.7 L1064.0 985.8 L1066.5 985.9 L1069.0 986.0 L1071.5 986.1 L1074.0 986.2 L1076.5 986.3 L1079.0 986.4 L1081.5 986.4 L1084.0 986.5 L1086.5 986.6 L1089.0 986.7 L1091.5 986.7" fill="none" stroke="#ff00ff" stroke-width="7.0" stroke-linejoin="round"/>
<g fill="#000"><circle cx="1093.0" cy="974.6" r="10.5"/><circle cx="1087.3" cy="973.5" r="10.5"/><circle cx="1081.7" cy="972.4" r="10.5"/><circle cx="1076.0" cy="971.3" r="10.5"/><circle cx="1070.3" cy="970.2" r="10.5"/><circle cx="1064.7" cy="969.1" r="10.5"/><circle cx="1059.0" cy="968.0" r="10.5"/><circle cx="1053.3" cy="966.8" r="10.5"/><circle cx="1047.7" cy="965.5" r="10.5"/><circle cx="1042.0" cy="964.1" r="10.5"/><circle cx="1036.3" cy="962.6" r="10.5"/><circle cx="1030.7" cy="960.9" r="10.5"/><circle cx="1025.0" cy="959.1" r="10.5"/><circle cx="1019.3" cy="957.0" r="10.5"/><circle cx="1013.7" cy="954.6" r="10.5"/><circle cx="1008.0" cy="951.7" r="10.5"/><circle cx="1002.3" cy="948.5" r="10.5"/><circle cx="996.7" cy="945.6" r="10.5"/><circle cx="991.0" cy="942.3" r="10.5"/><circle cx="979.7" cy="933.4" r="10.5"/><circle cx="968.4" cy="921.2" r="10.5"/><circle cx="957.0" cy="905.4" r="10.5"/><circle cx="945.7" cy="886.0" r="10.5"/><circle cx="934.4" cy="862.4" r="10.5"/><circle cx="923.0" cy="834.7" r="10.5"/><circle cx="911.7" cy="803.4" r="10.5"/><circle cx="900.4" cy="770.0" r="10.5"/><circle cx="889.0" cy="736.8" r="10.5"/><circle cx="877.7" cy="705.2" r="10.5"/><circle cx="866.4" cy="676.8" r="10.5"/><circle cx="855.0" cy="653.9" r="10.5"/><circle cx="843.7" cy="637.4" r="10.5"/><circle cx="832.4" cy="627.5" r="10.5"/><circle cx="821.0" cy="624.4" r="10.5"/><circle cx="809.7" cy="626.0" r="10.5"/><circle cx="798.4" cy="627.8" r="10.5"/><circle cx="787.1" cy="626.0" r="10.5"/><circle cx="775.7" cy="618.2" r="10.5"/><circle cx="764.4" cy="603.3" r="10.5"/><circle cx="753.1" cy="582.0" r="10.5"/><circle cx="741.7" cy="557.5" r="10.5"/><circle cx="730.4" cy="536.0" r="10.5"/><circle cx="719.1" cy="527.7" r="10.5"/><circle cx="707.7" cy="539.9" r="10.5"/><circle cx="696.4" cy="569.2" r="10.5"/><circle cx="685.1" cy="606.9" r="10.5"/><circle cx="673.7" cy="646.0" r="10.5"/><circle cx="662.4" cy="679.0" r="10.5"/><circle cx="651.1" cy="701.8" r="10.5"/><circle cx="639.7" cy="713.4" r="10.5"/><circle cx="628.4" cy="713.2" r="10.5"/><circle cx="617.1" cy="700.4" r="10.5"/><circle cx="605.7" cy="675.0" r="10.5"/><circle cx="594.4" cy="636.8" r="10.5"/><circle cx="583.1" cy="586.7" r="10.5"/><circle cx="571.8" cy="526.0" r="10.5"/><circle cx="560.4" cy="458.8" r="10.5"/><circle cx="549.1" cy="393.1" r="10.5"/><circle cx="537.8" cy="337.9" r="10.5"/><circle cx="526.4" cy="301.8" r="10.5"/><circle cx="515.1" cy="291.4" r="10.5"/><circle cx="503.8" cy="305.2" r="10.5"/><circle cx="492.4" cy="334.0" r="10.5"/><circle cx="481.1" cy="368.1" r="10.5"/><circle cx="469.8" cy="399.4" r="10.5"/><circle cx="458.4" cy="427.8" r="10.5"/><circle cx="447.1" cy="454.2" r="10.5"/><circle cx="435.8" cy="480.6" r="10.5"/><circle cx="424.4" cy="509.9" r="10.5"/><circle cx="413.1" cy="544.2" r="10.5"/><circle cx="401.8" cy="583.5" r="10.5"/><circle cx="390.5" cy="627.1" r="10.5"/><circle cx="379.1" cy="672.7" r="10.5"/><circle cx="367.8" cy="718.9" r="10.5"/><circle cx="356.5" cy="764.7" r="10.5"/><circle cx="345.1" cy="804.9" r="10.5"/><circle cx="333.8" cy="838.4" r="10.5"/><circle cx="322.5" cy="867.1" r="10.5"/><circle cx="311.1" cy="890.7" r="10.5"/><circle cx="299.8" cy="908.4" r="10.5"/><circle cx="288.5" cy="922.4" r="10.5"/><circle cx="282.8" cy="928.3" r="10.5"/><circle cx="277.1" cy="933.5" r="10.5"/><circle cx="271.5" cy="938.1" r="10.5"/><circle cx="265.8" cy="942.0" r="10.5"/><circle cx="260.1" cy="945.4" r="10.5"/><circle cx="254.5" cy="948.3" r="10.5"/><circle cx="248.8" cy="950.9" r="10.5"/><circle cx="243.1" cy="953.2" r="10.5"/><circle cx="237.5" cy="955.2" r="10.5"/><circle cx="231.8" cy="957.0" r="10.5"/><circle cx="226.1" cy="958.6" r="10.5"/><circle cx="220.5" cy="960.1" r="10.5"/><circle cx="214.8" cy="961.4" r="10.5"/><circle cx="209.1" cy="962.6" r="10.5"/><circle cx="203.5" cy="963.7" r="10.5"/><circle cx="197.8" cy="964.8" r="10.5"/><circle cx="192.2" cy="965.8" r="10.5"/><circle cx="186.5" cy="966.7" r="10.5"/><circle cx="180.8" cy="967.7" r="10.5"/><circle cx="175.2" cy="968.6" r="10.5"/><circle cx="169.5" cy="969.4" r="10.5"/><circle cx="163.8" cy="970.3" r="10.5"/><circle cx="158.2" cy="971.1" r="10.5"/><circle cx="152.5" cy="971.9" r="10.5"/><circle cx="146.8" cy="972.7" r="10.5"/><circle cx="141.2" cy="973.4" r="10.5"/><circle cx="135.5" cy="974.2" r="10.5"/><circle cx="129.8" cy="974.9" r="10.5"/><circle cx="124.2" cy="975.7" r="10.5"/><circle cx="118.5" cy="976.4" r="10.5"/><circle cx="112.8" cy="977.1" r="10.5"/><circle cx="107.2" cy="977.8" r="10.5"/></g>
<path d="M101.5 1049.0 V19.0 H1093.0 V1049.0" fill="none" stroke="#000" stroke-width="6.6" stroke-linejoin="miter" stroke-linecap="butt"/>
<path d="M101.5 1012.5 H1093.0" fill="none" stroke="#000" stroke-width="7.0"/>
<path d="M172.3 1012.5 V1032.0 M243.1 1012.5 V1049.0 M314.0 1012.5 V1032.0 M384.8 1012.5 V1049.0 M455.6 1012.5 V1032.0 M526.4 1012.5 V1049.0 M597.2 1012.5 V1032.0 M668.1 1012.5 V1049.0 M738.9 1012.5 V1032.0 M809.7 1012.5 V1049.0 M880.5 1012.5 V1032.0 M951.4 1012.5 V1049.0 M1022.2 1012.5 V1032.0" fill="none" stroke="#000" stroke-width="6.0" stroke-linecap="butt"/>
<text x="100.5" y="1105.8" text-anchor="middle" style="font-family:'Liberation Serif',serif;font-weight:bold;font-size:50.6px;stroke:#000;stroke-width:0.90px;stroke-linejoin:round">3225</text>
<text x="242.1" y="1105.8" text-anchor="middle" style="font-family:'Liberation Serif',serif;font-weight:bold;font-size:50.6px;stroke:#000;stroke-width:0.90px;stroke-linejoin:round">3200</text>
<text x="383.8" y="1105.8" text-anchor="middle" style="font-family:'Liberation Serif',serif;font-weight:bold;font-size:50.6px;stroke:#000;stroke-width:0.90px;stroke-linejoin:round">3175</text>
<text x="525.4" y="1105.8" text-anchor="middle" style="font-family:'Liberation Serif',serif;font-weight:bold;font-size:50.6px;stroke:#000;stroke-width:0.90px;stroke-linejoin:round">3150</text>
<text x="667.1" y="1105.8" text-anchor="middle" style="font-family:'Liberation Serif',serif;font-weight:bold;font-size:50.6px;stroke:#000;stroke-width:0.90px;stroke-linejoin:round">3125</text>
<text x="808.7" y="1105.8" text-anchor="middle" style="font-family:'Liberation Serif',serif;font-weight:bold;font-size:50.6px;stroke:#000;stroke-width:0.90px;stroke-linejoin:round">3100</text>
<text x="950.4" y="1105.8" text-anchor="middle" style="font-family:'Liberation Serif',serif;font-weight:bold;font-size:50.6px;stroke:#000;stroke-width:0.90px;stroke-linejoin:round">3075</text>
<text x="1092.0" y="1105.8" text-anchor="middle" style="font-family:'Liberation Serif',serif;font-weight:bold;font-size:50.6px;stroke:#000;stroke-width:0.90px;stroke-linejoin:round">3050</text>
<text x="597.5" y="1184.3" text-anchor="middle" style="font-family:'Liberation Serif',serif;font-weight:bold;font-size:73.3px;stroke:#000;stroke-width:0.90px;stroke-linejoin:round">Wavenumber (cm<tspan dx="7.5" dy="-22.0" style="font-size:43.5px">-1</tspan><tspan dy="22.0" dx="0.0">)</tspan></text>
<text transform="translate(76.7 516.5) rotate(-90)" text-anchor="middle" style="font-family:'Liberation Serif',serif;font-weight:bold;font-size:69.0px;stroke:#000;stroke-width:0.90px;stroke-linejoin:round">Absorbance (offset scale)</text>
<text x="130.7" y="99.8" style="font-family:'Liberation Serif',serif;font-weight:bold;font-size:59.6px;stroke:#000;stroke-width:0.90px;stroke-linejoin:round">(a) [EPrI][TFSI]/PCL</text>
<text x="218.4" y="165.9" style="font-family:'Liberation Serif',serif;font-weight:bold;font-size:59.6px;stroke:#000;stroke-width:0.90px;stroke-linejoin:round">= 100/0</text>
</g>
<g id="panel-b">
<path d="M1325.3 996.7 L1369.5 996.7 L1385.0 990.0 L1400.0 981.2 L1402.0 980.9 L1404.0 980.6 L1406.0 980.4 L1408.0 980.1 L1410.0 979.8 L1412.0 979.5 L1414.0 979.2 L1416.0 978.8 L1418.0 978.5 L1420.0 978.1 L1422.0 977.8 L1424.0 977.4 L1426.0 977.0 L1428.0 976.5 L1430.0 976.1 L1432.0 975.6 L1434.0 975.1 L1436.0 974.5 L1438.0 973.9 L1440.0 973.3 L1442.0 972.6 L1444.0 971.9 L1446.0 971.2 L1448.0 970.4 L1450.0 969.6 L1452.0 968.7 L1454.0 967.8 L1456.0 966.9 L1458.0 965.9 L1460.0 964.8 L1462.0 963.7 L1464.0 962.4 L1466.0 961.1 L1468.0 959.8 L1470.0 958.3 L1472.0 956.9 L1474.0 955.3 L1476.0 953.6 L1478.0 951.8 L1480.0 949.8 L1482.0 947.7 L1484.0 945.4 L1486.0 942.9 L1488.0 940.3 L1490.0 937.6 L1492.0 934.7 L1494.0 931.5 L1496.0 928.2 L1498.0 924.8 L1500.0 921.2 L1502.0 917.4 L1504.0 913.5 L1506.0 909.4 L1508.0 905.2 L1510.0 900.8 L1512.0 896.2 L1514.0 891.5 L1516.0 886.6 L1518.0 881.6 L1520.0 876.5 L1522.0 871.1 L1524.0 865.6 L1526.0 859.9 L1528.0 854.0 L1530.0 847.9 L1532.0 841.6 L1534.0 835.0 L1536.0 828.3 L1538.0 821.5 L1540.0 814.5 L1542.0 807.3 L1544.0 800.0 L1546.0 792.6 L1548.0 785.2 L1550.0 777.8 L1552.0 770.3 L1554.0 762.8 L1556.0 755.3 L1558.0 747.7 L1560.0 740.0 L1562.0 732.3 L1564.0 724.7 L1566.0 717.0 L1568.0 709.3 L1570.0 701.5 L1572.0 693.8 L1574.0 686.0 L1576.0 678.3 L1578.0 670.5 L1580.0 662.8 L1582.0 655.2 L1584.0 647.7 L1586.0 640.3 L1588.0 633.0 L1590.0 625.8 L1592.0 618.7 L1594.0 611.7 L1596.0 604.8 L1598.0 598.0 L1600.0 591.2 L1602.0 584.6 L1604.0 578.0 L1606.0 571.5 L1608.0 565.1 L1610.0 558.7 L1612.0 552.3 L1614.0 545.9 L1616.0 539.6 L1618.0 533.4 L1620.0 527.1 L1622.0 520.9 L1624.0 514.6 L1626.0 508.2 L1628.0 501.8 L1630.0 495.2 L1632.0 488.6 L1634.0 482.0 L1636.0 475.2 L1638.0 468.3 L1640.0 461.3 L1642.0 454.2 L1644.0 447.1 L1646.0 439.9 L1648.0 432.6 L1650.0 425.2 L1652.0 417.8 L1654.0 410.4 L1656.0 403.0 L1658.0 395.6 L1660.0 388.3 L1662.0 381.1 L1664.0 373.9 L1666.0 366.9 L1668.0 360.1 L1670.0 353.5 L1672.0 347.1 L1674.0 340.9 L1676.0 335.1 L1678.0 329.6 L1680.0 324.5 L1682.0 319.7 L1684.0 315.3 L1686.0 311.3 L1688.0 307.7 L1690.0 304.6 L1692.0 302.0 L1694.0 299.9 L1696.0 298.3 L1698.0 297.4 L1700.0 296.9 L1702.0 297.0 L1704.0 297.7 L1706.0 299.0 L1708.0 301.0 L1710.0 303.7 L1712.0 307.0 L1714.0 310.9 L1716.0 315.4 L1718.0 320.6 L1720.0 326.3 L1722.0 332.6 L1724.0 339.4 L1726.0 346.8 L1728.0 354.7 L1730.0 363.1 L1732.0 371.9 L1734.0 381.2 L1736.0 390.9 L1738.0 400.9 L1740.0 411.2 L1742.0 421.9 L1744.0 432.8 L1746.0 443.8 L1748.0 455.1 L1750.0 466.5 L1752.0 478.0 L1754.0 489.5 L1756.0 501.1 L1758.0 512.6 L1760.0 524.1 L1762.0 535.6 L1764.0 547.0 L1766.0 558.3 L1768.0 569.4 L1770.0 580.3 L1772.0 591.0 L1774.0 601.4 L1776.0 611.4 L1778.0 621.1 L1780.0 630.4 L1782.0 639.4 L1784.0 647.8 L1786.0 655.9 L1788.0 663.4 L1790.0 670.4 L1792.0 677.0 L1794.0 683.0 L1796.0 688.4 L1798.0 693.4 L1800.0 697.8 L1802.0 701.6 L1804.0 704.9 L1806.0 707.7 L1808.0 709.9 L1810.0 711.5 L1812.0 712.6 L1814.0 713.1 L1816.0 713.1 L1818.0 712.5 L1820.0 711.4 L1822.0 709.8 L1824.0 707.7 L1826.0 705.2 L1828.0 702.2 L1830.0 698.7 L1832.0 695.0 L1834.0 690.8 L1836.0 686.3 L1838.0 681.5 L1840.0 676.4 L1842.0 671.0 L1844.0 665.4 L1846.0 659.6 L1848.0 653.6 L1850.0 647.4 L1852.0 641.1 L1854.0 634.7 L1856.0 628.3 L1858.0 621.8 L1860.0 615.3 L1862.0 608.9 L1864.0 602.5 L1866.0 596.2 L1868.0 590.0 L1870.0 584.0 L1872.0 578.2 L1874.0 572.5 L1876.0 567.2 L1878.0 562.1 L1880.0 557.2 L1882.0 552.7 L1884.0 548.5 L1886.0 544.8 L1888.0 541.7 L1890.0 539.0 L1892.0 536.7 L1894.0 535.0 L1896.0 533.7 L1898.0 533.0 L1900.0 532.7 L1902.0 533.0 L1904.0 533.8 L1906.0 535.3 L1908.0 537.1 L1910.0 539.4 L1912.0 542.1 L1914.0 545.1 L1916.0 548.4 L1918.0 552.1 L1920.0 556.1 L1922.0 560.2 L1924.0 564.5 L1926.0 569.0 L1928.0 573.6 L1930.0 578.2 L1932.0 583.0 L1934.0 587.9 L1936.0 592.7 L1938.0 597.5 L1940.0 602.3 L1942.0 607.0 L1944.0 611.6 L1946.0 616.1 L1948.0 620.5 L1950.0 624.7 L1952.0 628.7 L1954.0 632.5 L1956.0 636.2 L1958.0 639.7 L1960.0 642.9 L1962.0 645.9 L1964.0 648.7 L1966.0 651.1 L1968.0 653.4 L1970.0 655.4 L1972.0 657.2 L1974.0 658.8 L1976.0 660.1 L1978.0 661.3 L1980.0 662.2 L1982.0 663.0 L1984.0 663.7 L1986.0 664.2 L1988.0 664.6 L1990.0 665.0 L1992.0 665.3 L1994.0 665.6 L1996.0 665.9 L1998.0 666.3 L2000.0 666.8 L2002.0 667.4 L2004.0 668.2 L2006.0 669.3 L2008.0 670.5 L2010.0 671.9 L2012.0 673.6 L2014.0 675.4 L2016.0 677.4 L2018.0 679.7 L2020.0 682.1 L2022.0 684.7 L2024.0 687.2 L2026.0 689.8 L2028.0 692.6 L2030.0 695.4 L2032.0 698.3 L2034.0 701.4 L2036.0 704.4 L2038.0 707.4 L2040.0 710.3 L2042.0 713.2 L2044.0 716.2 L2046.0 719.1 L2048.0 722.1 L2050.0 725.1 L2052.0 728.2 L2054.0 731.3 L2056.0 734.4 L2058.0 737.7 L2060.0 741.2 L2062.0 744.7 L2064.0 748.2 L2066.0 751.9 L2068.0 755.7 L2070.0 759.6 L2072.0 763.6 L2074.0 767.9 L2076.0 772.4 L2078.0 777.0 L2080.0 781.8 L2082.0 786.7 L2084.0 791.8 L2086.0 797.0 L2088.0 802.4 L2090.0 807.8 L2092.0 813.4 L2094.0 819.0 L2096.0 824.7 L2098.0 830.5 L2100.0 836.2 L2102.0 842.0 L2104.0 847.7 L2106.0 853.3 L2108.0 859.0 L2110.0 864.5 L2112.0 869.9 L2114.0 875.2 L2116.0 880.3 L2118.0 885.3 L2120.0 890.1 L2122.0 894.9 L2124.0 899.4 L2126.0 903.9 L2128.0 908.1 L2130.0 912.1 L2132.0 915.9 L2134.0 919.4 L2136.0 922.9 L2138.0 926.2 L2140.0 929.3 L2142.0 932.2 L2144.0 935.0 L2146.0 937.6 L2148.0 940.2 L2150.0 942.7 L2152.0 945.1 L2154.0 947.3 L2156.0 949.4 L2158.0 951.4 L2160.0 953.2 L2162.0 954.9 L2164.0 956.7 L2166.0 958.4 L2168.0 960.1 L2170.0 961.7 L2172.0 963.1 L2174.0 964.4 L2176.0 965.6 L2178.0 966.8 L2180.0 967.8 L2182.0 968.8 L2184.0 969.7 L2186.0 970.6 L2188.0 971.4 L2190.0 972.2 L2192.0 972.9 L2194.0 973.5 L2196.0 974.2 L2198.0 974.7 L2200.0 975.3 L2202.0 975.8 L2204.0 976.3 L2206.0 976.8 L2208.0 977.2 L2210.0 977.7 L2212.0 978.1 L2214.0 978.5 L2225.0 996.0 L2255.0 996.0" fill="none" stroke="#000" stroke-width="6.2" stroke-linejoin="round" stroke-linecap="round"/>
<path d="M1282.7 987.7 L1285.2 987.6 L1287.7 987.5 L1290.2 987.5 L1292.7 987.4 L1295.2 987.4 L1297.7 987.3 L1300.2 987.2 L1302.7 987.2 L1305.2 987.1 L1307.7 987.0 L1310.2 987.0 L1312.7 986.9 L1315.2 986.8 L1317.7 986.7 L1320.2 986.7 L1322.7 986.6 L1325.2 986.5 L1327.7 986.4 L1330.2 986.3 L1332.7 986.2 L1335.2 986.1 L1337.7 986.1 L1340.2 986.0 L1342.7 985.9 L1345.2 985.8 L1347.7 985.6 L1350.2 985.5 L1352.7 985.4 L1355.2 985.3 L1357.7 985.2 L1360.2 985.1 L1362.7 984.9 L1365.2 984.8 L1367.7 984.7 L1370.2 984.5 L1372.7 984.4 L1375.2 984.2 L1377.7 984.1 L1380.2 983.9 L1382.7 983.7 L1385.2 983.5 L1387.7 983.3 L1390.2 983.1 L1392.7 982.9 L1395.2 982.7 L1397.7 982.4 L1400.2 982.2 L1402.7 981.9 L1405.2 981.6 L1407.7 981.3 L1410.2 981.0 L1412.7 980.6 L1415.2 980.2 L1417.7 979.8 L1420.2 979.4 L1422.7 978.9 L1425.2 978.4 L1427.7 977.9 L1430.2 977.3 L1432.7 976.6 L1435.2 975.9 L1437.7 975.2 L1440.2 974.4 L1442.7 973.5 L1445.2 972.5 L1447.7 971.5 L1450.2 970.4 L1452.7 969.2 L1455.2 967.9 L1457.7 966.5 L1460.2 965.0 L1462.7 963.3 L1465.2 961.6 L1467.7 959.7 L1470.2 957.6 L1472.7 955.4 L1475.2 953.1 L1477.7 950.6 L1480.2 947.9 L1482.7 945.1 L1485.2 942.0 L1487.7 938.8 L1490.2 935.4 L1492.7 931.8 L1495.2 927.9 L1497.7 923.9 L1500.2 919.6 L1502.7 915.2 L1505.2 910.5 L1507.7 905.6 L1510.2 900.4 L1512.7 895.1 L1515.2 889.6 L1517.7 883.8 L1520.2 877.8 L1522.7 871.7 L1525.2 865.3 L1527.7 858.8 L1530.2 852.2 L1532.7 845.4 L1535.2 838.4 L1537.7 831.4 L1540.2 824.2 L1542.7 817.0 L1545.2 809.8 L1547.7 802.5 L1550.2 795.3 L1552.7 788.1 L1555.2 780.9 L1557.7 773.9 L1560.2 767.0 L1562.7 760.2 L1565.2 753.7 L1567.7 747.5 L1570.2 741.5 L1572.7 735.9 L1575.2 730.6 L1577.7 725.8 L1580.2 721.4 L1582.7 717.5 L1585.2 714.1 L1587.7 711.3 L1590.2 709.1 L1592.7 707.4 L1595.2 706.4 L1597.7 706.0 L1600.2 706.2 L1602.7 707.1 L1605.2 708.6 L1607.7 710.7 L1610.2 713.4 L1612.7 716.6 L1615.2 720.4 L1617.7 724.7 L1620.2 729.4 L1622.7 734.6 L1625.2 740.1 L1627.7 746.0 L1630.2 752.2 L1632.7 758.7 L1635.2 765.3 L1637.7 772.2 L1640.2 779.2 L1642.7 786.3 L1645.2 793.5 L1647.7 800.8 L1650.2 808.1 L1652.7 815.3 L1655.2 822.5 L1657.7 829.7 L1660.2 836.7 L1662.7 843.7 L1665.2 850.6 L1667.7 857.3 L1670.2 863.8 L1672.7 870.2 L1675.2 876.4 L1677.7 882.4 L1680.2 888.2 L1682.7 893.8 L1685.2 899.2 L1687.7 904.4 L1690.2 909.3 L1692.7 914.1 L1695.2 918.6 L1697.7 922.9 L1700.2 927.0 L1702.7 930.9 L1705.2 934.5 L1707.7 938.0 L1710.2 941.3 L1712.7 944.4 L1715.2 947.3 L1717.7 950.0 L1720.2 952.5 L1722.7 954.9 L1725.2 957.1 L1727.7 959.2 L1730.2 961.1 L1732.7 962.9 L1735.2 964.6 L1737.7 966.1 L1740.2 967.5 L1742.7 968.9 L1745.2 970.1 L1747.7 971.2 L1750.2 972.3 L1752.7 973.3 L1755.2 974.2 L1757.7 975.0 L1760.2 975.8 L1762.7 976.5 L1765.2 977.1 L1767.7 977.7 L1770.2 978.3 L1772.7 978.8 L1775.2 979.3 L1777.7 979.7 L1780.2 980.1 L1782.7 980.5 L1785.2 980.9 L1787.7 981.2 L1790.2 981.5 L1792.7 981.8 L1795.2 982.1 L1797.7 982.4 L1800.2 982.6 L1802.7 982.8 L1805.2 983.1 L1807.7 983.3 L1810.2 983.5 L1812.7 983.7 L1815.2 983.8 L1817.7 984.0 L1820.2 984.2 L1822.7 984.3 L1825.2 984.5 L1827.7 984.6 L1830.2 984.8 L1832.7 984.9 L1835.2 985.0 L1837.7 985.2 L1840.2 985.3 L1842.7 985.4 L1845.2 985.5 L1847.7 985.6 L1850.2 985.7 L1852.7 985.8 L1855.2 985.9 L1857.7 986.0 L1860.2 986.1 L1862.7 986.2 L1865.2 986.3 L1867.7 986.4 L1870.2 986.5 L1872.7 986.6 L1875.2 986.6 L1877.7 986.7 L1880.2 986.8 L1882.7 986.9 L1885.2 986.9 L1887.7 987.0 L1890.2 987.1 L1892.7 987.2 L1895.2 987.2 L1897.7 987.3 L1900.2 987.3 L1902.7 987.4 L1905.2 987.5 L1907.7 987.5 L1910.2 987.6 L1912.7 987.6 L1915.2 987.7 L1917.7 987.8 L1920.2 987.8 L1922.7 987.9 L1925.2 987.9 L1927.7 988.0 L1930.2 988.0 L1932.7 988.0 L1935.2 988.1 L1937.7 988.1 L1940.2 988.2 L1942.7 988.2 L1945.2 988.3 L1947.7 988.3 L1950.2 988.4 L1952.7 988.4 L1955.2 988.4 L1957.7 988.5 L1960.2 988.5 L1962.7 988.5 L1965.2 988.6 L1967.7 988.6 L1970.2 988.7 L1972.7 988.7 L1975.2 988.7 L1977.7 988.8 L1980.2 988.8 L1982.7 988.8 L1985.2 988.8 L1987.7 988.9 L1990.2 988.9 L1992.7 988.9 L1995.2 989.0 L1997.7 989.0 L2000.2 989.0 L2002.7 989.0 L2005.2 989.1 L2007.7 989.1 L2010.2 989.1 L2012.7 989.2 L2015.2 989.2 L2017.7 989.2 L2020.2 989.2 L2022.7 989.3 L2025.2 989.3 L2027.7 989.3 L2030.2 989.3 L2032.7 989.3 L2035.2 989.4 L2037.7 989.4 L2040.2 989.4 L2042.7 989.4 L2045.2 989.4 L2047.7 989.5 L2050.2 989.5 L2052.7 989.5 L2055.2 989.5 L2057.7 989.5 L2060.2 989.6 L2062.7 989.6 L2065.2 989.6 L2067.7 989.6 L2070.2 989.6 L2072.7 989.7 L2075.2 989.7 L2077.7 989.7 L2080.2 989.7 L2082.7 989.7 L2085.2 989.7 L2087.7 989.8 L2090.2 989.8 L2092.7 989.8 L2095.2 989.8 L2097.7 989.8 L2100.2 989.8 L2102.7 989.8 L2105.2 989.9 L2107.7 989.9 L2110.2 989.9 L2112.7 989.9 L2115.2 989.9 L2117.7 989.9 L2120.2 989.9 L2122.7 989.9 L2125.2 990.0 L2127.7 990.0 L2130.2 990.0 L2132.7 990.0 L2135.2 990.0 L2137.7 990.0 L2140.2 990.0 L2142.7 990.0 L2145.2 990.1 L2147.7 990.1 L2150.2 990.1 L2152.7 990.1 L2155.2 990.1 L2157.7 990.1 L2160.2 990.1 L2162.7 990.1 L2165.2 990.1 L2167.7 990.1 L2170.2 990.2 L2172.7 990.2 L2175.2 990.2 L2177.7 990.2 L2180.2 990.2 L2182.7 990.2 L2185.2 990.2 L2187.7 990.2 L2190.2 990.2 L2192.7 990.2 L2195.2 990.3 L2197.7 990.3 L2200.2 990.3 L2202.7 990.3 L2205.2 990.3 L2207.7 990.3 L2210.2 990.3 L2212.7 990.3 L2215.2 990.3 L2217.7 990.3 L2220.2 990.3 L2222.7 990.3 L2225.2 990.3 L2227.7 990.4 L2230.2 990.4 L2232.7 990.4 L2235.2 990.4 L2237.7 990.4 L2240.2 990.4 L2242.7 990.4 L2245.2 990.4 L2247.7 990.4 L2250.2 990.4 L2252.7 990.4 L2255.2 990.4 L2257.7 990.4 L2260.2 990.4 L2262.7 990.5 L2265.2 990.5 L2267.7 990.5 L2270.2 990.5 L2272.7 990.5" fill="none" stroke="#696969" stroke-width="5.8" stroke-linejoin="round"/>
<path d="M1282.7 991.3 L1285.2 991.3 L1287.7 991.3 L1290.2 991.3 L1292.7 991.3 L1295.2 991.3 L1297.7 991.3 L1300.2 991.3 L1302.7 991.3 L1305.2 991.3 L1307.7 991.3 L1310.2 991.3 L1312.7 991.3 L1315.2 991.3 L1317.7 991.3 L1320.2 991.3 L1322.7 991.3 L1325.2 991.3 L1327.7 991.3 L1330.2 991.3 L1332.7 991.3 L1335.2 991.3 L1337.7 991.3 L1340.2 991.3 L1342.7 991.3 L1345.2 991.3 L1347.7 991.3 L1350.2 991.3 L1352.7 991.3 L1355.2 991.3 L1357.7 991.3 L1360.2 991.3 L1362.7 991.3 L1365.2 991.3 L1367.7 991.3 L1370.2 991.3 L1372.7 991.3 L1375.2 991.3 L1377.7 991.3 L1380.2 991.3 L1382.7 991.3 L1385.2 991.3 L1387.7 991.3 L1390.2 991.3 L1392.7 991.3 L1395.2 991.3 L1397.7 991.3 L1400.2 991.3 L1402.7 991.3 L1405.2 991.3 L1407.7 991.3 L1410.2 991.3 L1412.7 991.3 L1415.2 991.3 L1417.7 991.3 L1420.2 991.3 L1422.7 991.3 L1425.2 991.3 L1427.7 991.3 L1430.2 991.3 L1432.7 991.3 L1435.2 991.3 L1437.7 991.3 L1440.2 991.3 L1442.7 991.3 L1445.2 991.3 L1447.7 991.3 L1450.2 991.3 L1452.7 991.3 L1455.2 991.3 L1457.7 991.3 L1460.2 991.3 L1462.7 991.2 L1465.2 991.2 L1467.7 991.2 L1470.2 991.2 L1472.7 991.2 L1475.2 991.2 L1477.7 991.1 L1480.2 991.1 L1482.7 991.1 L1485.2 991.0 L1487.7 991.0 L1490.2 990.9 L1492.7 990.9 L1495.2 990.8 L1497.7 990.7 L1500.2 990.6 L1502.7 990.4 L1505.2 990.3 L1507.7 990.1 L1510.2 989.9 L1512.7 989.7 L1515.2 989.4 L1517.7 989.1 L1520.2 988.8 L1522.7 988.4 L1525.2 987.9 L1527.7 987.4 L1530.2 986.8 L1532.7 986.2 L1535.2 985.4 L1537.7 984.6 L1540.2 983.6 L1542.7 982.6 L1545.2 981.4 L1547.7 980.0 L1550.2 978.6 L1552.7 976.9 L1555.2 975.1 L1557.7 973.0 L1560.2 970.7 L1562.7 968.3 L1565.2 965.5 L1567.7 962.5 L1570.2 959.2 L1572.7 955.6 L1575.2 951.6 L1577.7 947.4 L1580.2 942.7 L1582.7 937.6 L1585.2 932.2 L1587.7 926.3 L1590.2 920.0 L1592.7 913.2 L1595.2 905.9 L1597.7 898.2 L1600.2 889.9 L1602.7 881.1 L1605.2 871.8 L1607.7 861.9 L1610.2 851.6 L1612.7 840.6 L1615.2 829.2 L1617.7 817.2 L1620.2 804.7 L1622.7 791.6 L1625.2 778.1 L1627.7 764.2 L1630.2 749.7 L1632.7 734.9 L1635.2 719.7 L1637.7 704.1 L1640.2 688.3 L1642.7 672.2 L1645.2 655.9 L1647.7 639.4 L1650.2 622.9 L1652.7 606.4 L1655.2 589.9 L1657.7 573.5 L1660.2 557.3 L1662.7 541.3 L1665.2 525.7 L1667.7 510.5 L1670.2 495.8 L1672.7 481.6 L1675.2 468.0 L1677.7 455.1 L1680.2 442.9 L1682.7 431.6 L1685.2 421.2 L1687.7 411.7 L1690.2 403.2 L1692.7 395.8 L1695.2 389.4 L1697.7 384.2 L1700.2 380.1 L1702.7 377.2 L1705.2 375.5 L1707.7 375.0 L1710.2 375.7 L1712.7 377.6 L1715.2 380.7 L1717.7 385.0 L1720.2 390.4 L1722.7 396.9 L1725.2 404.5 L1727.7 413.2 L1730.2 422.8 L1732.7 433.4 L1735.2 444.8 L1737.7 457.1 L1740.2 470.1 L1742.7 483.8 L1745.2 498.1 L1747.7 512.9 L1750.2 528.2 L1752.7 543.9 L1755.2 559.9 L1757.7 576.1 L1760.2 592.5 L1762.7 609.0 L1765.2 625.6 L1767.7 642.1 L1770.2 658.5 L1772.7 674.8 L1775.2 690.8 L1777.7 706.6 L1780.2 722.1 L1782.7 737.3 L1785.2 752.1 L1787.7 766.4 L1790.2 780.3 L1792.7 793.8 L1795.2 806.7 L1797.7 819.1 L1800.2 831.0 L1802.7 842.4 L1805.2 853.3 L1807.7 863.6 L1810.2 873.3 L1812.7 882.5 L1815.2 891.3 L1817.7 899.4 L1820.2 907.1 L1822.7 914.3 L1825.2 921.0 L1827.7 927.3 L1830.2 933.1 L1832.7 938.5 L1835.2 943.5 L1837.7 948.1 L1840.2 952.3 L1842.7 956.2 L1845.2 959.7 L1847.7 963.0 L1850.2 966.0 L1852.7 968.7 L1855.2 971.1 L1857.7 973.3 L1860.2 975.4 L1862.7 977.2 L1865.2 978.8 L1867.7 980.3 L1870.2 981.6 L1872.7 982.7 L1875.2 983.8 L1877.7 984.7 L1880.2 985.6 L1882.7 986.3 L1885.2 986.9 L1887.7 987.5 L1890.2 988.0 L1892.7 988.4 L1895.2 988.8 L1897.7 989.2 L1900.2 989.5 L1902.7 989.7 L1905.2 990.0 L1907.7 990.1 L1910.2 990.3 L1912.7 990.5 L1915.2 990.6 L1917.7 990.7 L1920.2 990.8 L1922.7 990.9 L1925.2 990.9 L1927.7 991.0 L1930.2 991.0 L1932.7 991.1 L1935.2 991.1 L1937.7 991.1 L1940.2 991.2 L1942.7 991.2 L1945.2 991.2 L1947.7 991.2 L1950.2 991.2 L1952.7 991.3 L1955.2 991.3 L1957.7 991.3 L1960.2 991.3 L1962.7 991.3 L1965.2 991.3 L1967.7 991.3 L1970.2 991.3 L1972.7 991.3 L1975.2 991.3 L1977.7 991.3 L1980.2 991.3 L1982.7 991.3 L1985.2 991.3 L1987.7 991.3 L1990.2 991.3 L1992.7 991.3 L1995.2 991.3 L1997.7 991.3 L2000.2 991.3 L2002.7 991.3 L2005.2 991.3 L2007.7 991.3 L2010.2 991.3 L2012.7 991.3 L2015.2 991.3 L2017.7 991.3 L2020.2 991.3 L2022.7 991.3 L2025.2 991.3 L2027.7 991.3 L2030.2 991.3 L2032.7 991.3 L2035.2 991.3 L2037.7 991.3 L2040.2 991.3 L2042.7 991.3 L2045.2 991.3 L2047.7 991.3 L2050.2 991.3 L2052.7 991.3 L2055.2 991.3 L2057.7 991.3 L2060.2 991.3 L2062.7 991.3 L2065.2 991.3 L2067.7 991.3 L2070.2 991.3 L2072.7 991.3 L2075.2 991.3 L2077.7 991.3 L2080.2 991.3 L2082.7 991.3 L2085.2 991.3 L2087.7 991.3 L2090.2 991.3 L2092.7 991.3 L2095.2 991.3 L2097.7 991.3 L2100.2 991.3 L2102.7 991.3 L2105.2 991.3 L2107.7 991.3 L2110.2 991.3 L2112.7 991.3 L2115.2 991.3 L2117.7 991.3 L2120.2 991.3 L2122.7 991.3 L2125.2 991.3 L2127.7 991.3 L2130.2 991.3 L2132.7 991.3 L2135.2 991.3 L2137.7 991.3 L2140.2 991.3 L2142.7 991.3 L2145.2 991.3 L2147.7 991.3 L2150.2 991.3 L2152.7 991.3 L2155.2 991.3 L2157.7 991.3 L2160.2 991.3 L2162.7 991.3 L2165.2 991.3 L2167.7 991.3 L2170.2 991.3 L2172.7 991.3 L2175.2 991.3 L2177.7 991.3 L2180.2 991.3 L2182.7 991.3 L2185.2 991.3 L2187.7 991.3 L2190.2 991.3 L2192.7 991.3 L2195.2 991.3 L2197.7 991.3 L2200.2 991.3 L2202.7 991.3 L2205.2 991.3 L2207.7 991.3 L2210.2 991.3 L2212.7 991.3 L2215.2 991.3 L2217.7 991.3 L2220.2 991.3 L2222.7 991.3 L2225.2 991.3 L2227.7 991.3 L2230.2 991.3 L2232.7 991.3 L2235.2 991.3 L2237.7 991.3 L2240.2 991.3 L2242.7 991.3 L2245.2 991.3 L2247.7 991.3 L2250.2 991.3 L2252.7 991.3 L2255.2 991.3 L2257.7 991.3 L2260.2 991.3 L2262.7 991.3 L2265.2 991.3 L2267.7 991.3 L2270.2 991.3 L2272.7 991.3" fill="none" stroke="#663300" stroke-width="6.4" stroke-linejoin="round"/>
<path d="M1282.7 989.9 L1285.2 989.9 L1287.7 989.9 L1290.2 989.9 L1292.7 989.9 L1295.2 989.9 L1297.7 989.9 L1300.2 989.9 L1302.7 989.8 L1305.2 989.8 L1307.7 989.8 L1310.2 989.8 L1312.7 989.8 L1315.2 989.8 L1317.7 989.8 L1320.2 989.8 L1322.7 989.7 L1325.2 989.7 L1327.7 989.7 L1330.2 989.7 L1332.7 989.7 L1335.2 989.7 L1337.7 989.7 L1340.2 989.6 L1342.7 989.6 L1345.2 989.6 L1347.7 989.6 L1350.2 989.6 L1352.7 989.6 L1355.2 989.5 L1357.7 989.5 L1360.2 989.5 L1362.7 989.5 L1365.2 989.5 L1367.7 989.5 L1370.2 989.4 L1372.7 989.4 L1375.2 989.4 L1377.7 989.4 L1380.2 989.4 L1382.7 989.4 L1385.2 989.3 L1387.7 989.3 L1390.2 989.3 L1392.7 989.3 L1395.2 989.3 L1397.7 989.2 L1400.2 989.2 L1402.7 989.2 L1405.2 989.2 L1407.7 989.2 L1410.2 989.1 L1412.7 989.1 L1415.2 989.1 L1417.7 989.1 L1420.2 989.1 L1422.7 989.0 L1425.2 989.0 L1427.7 989.0 L1430.2 989.0 L1432.7 988.9 L1435.2 988.9 L1437.7 988.9 L1440.2 988.9 L1442.7 988.8 L1445.2 988.8 L1447.7 988.8 L1450.2 988.7 L1452.7 988.7 L1455.2 988.7 L1457.7 988.7 L1460.2 988.6 L1462.7 988.6 L1465.2 988.6 L1467.7 988.5 L1470.2 988.5 L1472.7 988.5 L1475.2 988.4 L1477.7 988.4 L1480.2 988.4 L1482.7 988.3 L1485.2 988.3 L1487.7 988.3 L1490.2 988.2 L1492.7 988.2 L1495.2 988.2 L1497.7 988.1 L1500.2 988.1 L1502.7 988.0 L1505.2 988.0 L1507.7 988.0 L1510.2 987.9 L1512.7 987.9 L1515.2 987.8 L1517.7 987.8 L1520.2 987.7 L1522.7 987.7 L1525.2 987.7 L1527.7 987.6 L1530.2 987.6 L1532.7 987.5 L1535.2 987.5 L1537.7 987.4 L1540.2 987.4 L1542.7 987.3 L1545.2 987.2 L1547.7 987.2 L1550.2 987.1 L1552.7 987.1 L1555.2 987.0 L1557.7 987.0 L1560.2 986.9 L1562.7 986.8 L1565.2 986.8 L1567.7 986.7 L1570.2 986.6 L1572.7 986.6 L1575.2 986.5 L1577.7 986.4 L1580.2 986.3 L1582.7 986.3 L1585.2 986.2 L1587.7 986.1 L1590.2 986.0 L1592.7 986.0 L1595.2 985.9 L1597.7 985.8 L1600.2 985.7 L1602.7 985.6 L1605.2 985.5 L1607.7 985.4 L1610.2 985.3 L1612.7 985.2 L1615.2 985.1 L1617.7 985.0 L1620.2 984.9 L1622.7 984.8 L1625.2 984.7 L1627.7 984.6 L1630.2 984.5 L1632.7 984.3 L1635.2 984.2 L1637.7 984.1 L1640.2 983.9 L1642.7 983.8 L1645.2 983.7 L1647.7 983.5 L1650.2 983.4 L1652.7 983.2 L1655.2 983.0 L1657.7 982.9 L1660.2 982.7 L1662.7 982.5 L1665.2 982.3 L1667.7 982.1 L1670.2 981.9 L1672.7 981.7 L1675.2 981.5 L1677.7 981.3 L1680.2 981.0 L1682.7 980.8 L1685.2 980.5 L1687.7 980.2 L1690.2 979.9 L1692.7 979.6 L1695.2 979.3 L1697.7 978.9 L1700.2 978.6 L1702.7 978.2 L1705.2 977.7 L1707.7 977.3 L1710.2 976.8 L1712.7 976.2 L1715.2 975.7 L1717.7 975.0 L1720.2 974.4 L1722.7 973.7 L1725.2 972.9 L1727.7 972.0 L1730.2 971.1 L1732.7 970.1 L1735.2 969.1 L1737.7 967.9 L1740.2 966.7 L1742.7 965.3 L1745.2 963.8 L1747.7 962.2 L1750.2 960.5 L1752.7 958.7 L1755.2 956.7 L1757.7 954.5 L1760.2 952.2 L1762.7 949.6 L1765.2 946.9 L1767.7 944.0 L1770.2 940.9 L1772.7 937.6 L1775.2 934.0 L1777.7 930.2 L1780.2 926.2 L1782.7 921.8 L1785.2 917.2 L1787.7 912.4 L1790.2 907.2 L1792.7 901.7 L1795.2 896.0 L1797.7 889.9 L1800.2 883.5 L1802.7 876.9 L1805.2 869.9 L1807.7 862.6 L1810.2 854.9 L1812.7 847.0 L1815.2 838.8 L1817.7 830.3 L1820.2 821.5 L1822.7 812.4 L1825.2 803.1 L1827.7 793.6 L1830.2 783.8 L1832.7 773.9 L1835.2 763.7 L1837.7 753.4 L1840.2 743.1 L1842.7 732.6 L1845.2 722.1 L1847.7 711.5 L1850.2 701.0 L1852.7 690.6 L1855.2 680.2 L1857.7 670.0 L1860.2 660.1 L1862.7 650.4 L1865.2 640.9 L1867.7 631.9 L1870.2 623.3 L1872.7 615.1 L1875.2 607.4 L1877.7 600.4 L1880.2 593.9 L1882.7 588.2 L1885.2 583.2 L1887.7 578.9 L1890.2 575.4 L1892.7 572.8 L1895.2 571.0 L1897.7 570.1 L1900.2 570.1 L1902.7 571.0 L1905.2 572.7 L1907.7 575.3 L1910.2 578.7 L1912.7 583.0 L1915.2 588.0 L1917.7 593.7 L1920.2 600.1 L1922.7 607.2 L1925.2 614.8 L1927.7 622.9 L1930.2 631.5 L1932.7 640.6 L1935.2 650.0 L1937.7 659.7 L1940.2 669.6 L1942.7 679.8 L1945.2 690.1 L1947.7 700.6 L1950.2 711.1 L1952.7 721.6 L1955.2 732.2 L1957.7 742.6 L1960.2 753.0 L1962.7 763.3 L1965.2 773.5 L1967.7 783.4 L1970.2 793.2 L1972.7 802.8 L1975.2 812.1 L1977.7 821.1 L1980.2 829.9 L1982.7 838.5 L1985.2 846.7 L1987.7 854.6 L1990.2 862.3 L1992.7 869.6 L1995.2 876.6 L1997.7 883.3 L2000.2 889.7 L2002.7 895.7 L2005.2 901.5 L2007.7 907.0 L2010.2 912.2 L2012.7 917.0 L2015.2 921.6 L2017.7 926.0 L2020.2 930.1 L2022.7 933.9 L2025.2 937.5 L2027.7 940.8 L2030.2 943.9 L2032.7 946.8 L2035.2 949.5 L2037.7 952.1 L2040.2 954.4 L2042.7 956.6 L2045.2 958.6 L2047.7 960.4 L2050.2 962.2 L2052.7 963.8 L2055.2 965.2 L2057.7 966.6 L2060.2 967.9 L2062.7 969.0 L2065.2 970.1 L2067.7 971.1 L2070.2 972.0 L2072.7 972.8 L2075.2 973.6 L2077.7 974.3 L2080.2 975.0 L2082.7 975.6 L2085.2 976.2 L2087.7 976.7 L2090.2 977.2 L2092.7 977.7 L2095.2 978.1 L2097.7 978.5 L2100.2 978.9 L2102.7 979.3 L2105.2 979.6 L2107.7 979.9 L2110.2 980.2 L2112.7 980.5 L2115.2 980.8 L2117.7 981.0 L2120.2 981.3 L2122.7 981.5 L2125.2 981.7 L2127.7 981.9 L2130.2 982.1 L2132.7 982.3 L2135.2 982.5 L2137.7 982.7 L2140.2 982.9 L2142.7 983.0 L2145.2 983.2 L2147.7 983.4 L2150.2 983.5 L2152.7 983.7 L2155.2 983.8 L2157.7 983.9 L2160.2 984.1 L2162.7 984.2 L2165.2 984.3 L2167.7 984.4 L2170.2 984.6 L2172.7 984.7 L2175.2 984.8 L2177.7 984.9 L2180.2 985.0 L2182.7 985.1 L2185.2 985.2 L2187.7 985.3 L2190.2 985.4 L2192.7 985.5 L2195.2 985.6 L2197.7 985.7 L2200.2 985.8 L2202.7 985.9 L2205.2 986.0 L2207.7 986.0 L2210.2 986.1 L2212.7 986.2 L2215.2 986.3 L2217.7 986.3 L2220.2 986.4 L2222.7 986.5 L2225.2 986.6 L2227.7 986.6 L2230.2 986.7 L2232.7 986.8 L2235.2 986.8 L2237.7 986.9 L2240.2 987.0 L2242.7 987.0 L2245.2 987.1 L2247.7 987.1 L2250.2 987.2 L2252.7 987.2 L2255.2 987.3 L2257.7 987.4 L2260.2 987.4 L2262.7 987.5 L2265.2 987.5 L2267.7 987.6 L2270.2 987.6 L2272.7 987.7" fill="none" stroke="#0000ff" stroke-width="6.5" stroke-linejoin="round"/>
<path d="M1282.7 991.1 L1285.2 991.1 L1287.7 991.1 L1290.2 991.1 L1292.7 991.1 L1295.2 991.1 L1297.7 991.1 L1300.2 991.0 L1302.7 991.0 L1305.2 991.0 L1307.7 991.0 L1310.2 991.0 L1312.7 991.0 L1315.2 991.0 L1317.7 991.0 L1320.2 991.0 L1322.7 991.0 L1325.2 991.0 L1327.7 991.0 L1330.2 991.0 L1332.7 991.0 L1335.2 991.0 L1337.7 991.0 L1340.2 991.0 L1342.7 991.0 L1345.2 991.0 L1347.7 991.0 L1350.2 991.0 L1352.7 991.0 L1355.2 991.0 L1357.7 991.0 L1360.2 991.0 L1362.7 991.0 L1365.2 991.0 L1367.7 991.0 L1370.2 991.0 L1372.7 991.0 L1375.2 991.0 L1377.7 991.0 L1380.2 991.0 L1382.7 991.0 L1385.2 991.0 L1387.7 991.0 L1390.2 991.0 L1392.7 991.0 L1395.2 991.0 L1397.7 991.0 L1400.2 991.0 L1402.7 991.0 L1405.2 991.0 L1407.7 991.0 L1410.2 990.9 L1412.7 990.9 L1415.2 990.9 L1417.7 990.9 L1420.2 990.9 L1422.7 990.9 L1425.2 990.9 L1427.7 990.9 L1430.2 990.9 L1432.7 990.9 L1435.2 990.9 L1437.7 990.9 L1440.2 990.9 L1442.7 990.9 L1445.2 990.9 L1447.7 990.9 L1450.2 990.9 L1452.7 990.9 L1455.2 990.9 L1457.7 990.9 L1460.2 990.9 L1462.7 990.9 L1465.2 990.9 L1467.7 990.9 L1470.2 990.9 L1472.7 990.9 L1475.2 990.9 L1477.7 990.9 L1480.2 990.8 L1482.7 990.8 L1485.2 990.8 L1487.7 990.8 L1490.2 990.8 L1492.7 990.8 L1495.2 990.8 L1497.7 990.8 L1500.2 990.8 L1502.7 990.8 L1505.2 990.8 L1507.7 990.8 L1510.2 990.8 L1512.7 990.8 L1515.2 990.8 L1517.7 990.8 L1520.2 990.8 L1522.7 990.8 L1525.2 990.8 L1527.7 990.8 L1530.2 990.8 L1532.7 990.7 L1535.2 990.7 L1537.7 990.7 L1540.2 990.7 L1542.7 990.7 L1545.2 990.7 L1547.7 990.7 L1550.2 990.7 L1552.7 990.7 L1555.2 990.7 L1557.7 990.7 L1560.2 990.7 L1562.7 990.7 L1565.2 990.7 L1567.7 990.7 L1570.2 990.6 L1572.7 990.6 L1575.2 990.6 L1577.7 990.6 L1580.2 990.6 L1582.7 990.6 L1585.2 990.6 L1587.7 990.6 L1590.2 990.6 L1592.7 990.6 L1595.2 990.6 L1597.7 990.6 L1600.2 990.6 L1602.7 990.5 L1605.2 990.5 L1607.7 990.5 L1610.2 990.5 L1612.7 990.5 L1615.2 990.5 L1617.7 990.5 L1620.2 990.5 L1622.7 990.5 L1625.2 990.5 L1627.7 990.4 L1630.2 990.4 L1632.7 990.4 L1635.2 990.4 L1637.7 990.4 L1640.2 990.4 L1642.7 990.4 L1645.2 990.4 L1647.7 990.3 L1650.2 990.3 L1652.7 990.3 L1655.2 990.3 L1657.7 990.3 L1660.2 990.3 L1662.7 990.3 L1665.2 990.2 L1667.7 990.2 L1670.2 990.2 L1672.7 990.2 L1675.2 990.2 L1677.7 990.2 L1680.2 990.2 L1682.7 990.1 L1685.2 990.1 L1687.7 990.1 L1690.2 990.1 L1692.7 990.1 L1695.2 990.0 L1697.7 990.0 L1700.2 990.0 L1702.7 990.0 L1705.2 990.0 L1707.7 989.9 L1710.2 989.9 L1712.7 989.9 L1715.2 989.9 L1717.7 989.8 L1720.2 989.8 L1722.7 989.8 L1725.2 989.8 L1727.7 989.7 L1730.2 989.7 L1732.7 989.7 L1735.2 989.7 L1737.7 989.6 L1740.2 989.6 L1742.7 989.6 L1745.2 989.5 L1747.7 989.5 L1750.2 989.5 L1752.7 989.4 L1755.2 989.4 L1757.7 989.4 L1760.2 989.3 L1762.7 989.3 L1765.2 989.2 L1767.7 989.2 L1770.2 989.2 L1772.7 989.1 L1775.2 989.1 L1777.7 989.0 L1780.2 989.0 L1782.7 988.9 L1785.2 988.9 L1787.7 988.8 L1790.2 988.8 L1792.7 988.7 L1795.2 988.7 L1797.7 988.6 L1800.2 988.5 L1802.7 988.5 L1805.2 988.4 L1807.7 988.3 L1810.2 988.3 L1812.7 988.2 L1815.2 988.1 L1817.7 988.0 L1820.2 988.0 L1822.7 987.9 L1825.2 987.8 L1827.7 987.7 L1830.2 987.6 L1832.7 987.5 L1835.2 987.4 L1837.7 987.3 L1840.2 987.2 L1842.7 987.1 L1845.2 986.9 L1847.7 986.8 L1850.2 986.7 L1852.7 986.5 L1855.2 986.4 L1857.7 986.2 L1860.2 986.0 L1862.7 985.9 L1865.2 985.7 L1867.7 985.4 L1870.2 985.2 L1872.7 985.0 L1875.2 984.7 L1877.7 984.4 L1880.2 984.1 L1882.7 983.7 L1885.2 983.4 L1887.7 982.9 L1890.2 982.5 L1892.7 981.9 L1895.2 981.3 L1897.7 980.7 L1900.2 980.0 L1902.7 979.1 L1905.2 978.2 L1907.7 977.2 L1910.2 976.1 L1912.7 974.8 L1915.2 973.4 L1917.7 971.8 L1920.2 970.1 L1922.7 968.2 L1925.2 966.0 L1927.7 963.7 L1930.2 961.1 L1932.7 958.3 L1935.2 955.3 L1937.7 951.9 L1940.2 948.3 L1942.7 944.4 L1945.2 940.3 L1947.7 935.8 L1950.2 931.1 L1952.7 926.1 L1955.2 920.8 L1957.7 915.2 L1960.2 909.4 L1962.7 903.4 L1965.2 897.1 L1967.7 890.7 L1970.2 884.2 L1972.7 877.6 L1975.2 870.9 L1977.7 864.2 L1980.2 857.6 L1982.7 851.1 L1985.2 844.8 L1987.7 838.8 L1990.2 833.1 L1992.7 827.9 L1995.2 823.1 L1997.7 818.9 L2000.2 815.4 L2002.7 812.6 L2005.2 810.6 L2007.7 809.4 L2010.2 809.0 L2012.7 809.5 L2015.2 810.8 L2017.7 813.0 L2020.2 815.9 L2022.7 819.5 L2025.2 823.8 L2027.7 828.7 L2030.2 834.0 L2032.7 839.8 L2035.2 845.8 L2037.7 852.2 L2040.2 858.7 L2042.7 865.3 L2045.2 872.0 L2047.7 878.6 L2050.2 885.3 L2052.7 891.8 L2055.2 898.1 L2057.7 904.3 L2060.2 910.3 L2062.7 916.1 L2065.2 921.6 L2067.7 926.9 L2070.2 931.9 L2072.7 936.6 L2075.2 941.0 L2077.7 945.1 L2080.2 948.9 L2082.7 952.5 L2085.2 955.8 L2087.7 958.8 L2090.2 961.6 L2092.7 964.1 L2095.2 966.4 L2097.7 968.5 L2100.2 970.4 L2102.7 972.1 L2105.2 973.6 L2107.7 975.0 L2110.2 976.3 L2112.7 977.4 L2115.2 978.4 L2117.7 979.3 L2120.2 980.1 L2122.7 980.8 L2125.2 981.4 L2127.7 982.0 L2130.2 982.5 L2132.7 983.0 L2135.2 983.4 L2137.7 983.8 L2140.2 984.2 L2142.7 984.5 L2145.2 984.8 L2147.7 985.0 L2150.2 985.3 L2152.7 985.5 L2155.2 985.7 L2157.7 985.9 L2160.2 986.1 L2162.7 986.2 L2165.2 986.4 L2167.7 986.5 L2170.2 986.7 L2172.7 986.8 L2175.2 987.0 L2177.7 987.1 L2180.2 987.2 L2182.7 987.3 L2185.2 987.4 L2187.7 987.5 L2190.2 987.6 L2192.7 987.7 L2195.2 987.8 L2197.7 987.9 L2200.2 988.0 L2202.7 988.1 L2205.2 988.1 L2207.7 988.2 L2210.2 988.3 L2212.7 988.4 L2215.2 988.4 L2217.7 988.5 L2220.2 988.6 L2222.7 988.6 L2225.2 988.7 L2227.7 988.7 L2230.2 988.8 L2232.7 988.8 L2235.2 988.9 L2237.7 988.9 L2240.2 989.0 L2242.7 989.0 L2245.2 989.1 L2247.7 989.1 L2250.2 989.2 L2252.7 989.2 L2255.2 989.3 L2257.7 989.3 L2260.2 989.3 L2262.7 989.4 L2265.2 989.4 L2267.7 989.4 L2270.2 989.5 L2272.7 989.5" fill="none" stroke="#ff0000" stroke-width="7.0" stroke-linejoin="round"/>
<path d="M1282.7 991.2 L1285.2 991.2 L1287.7 991.2 L1290.2 991.2 L1292.7 991.2 L1295.2 991.2 L1297.7 991.2 L1300.2 991.2 L1302.7 991.2 L1305.2 991.2 L1307.7 991.2 L1310.2 991.2 L1312.7 991.2 L1315.2 991.2 L1317.7 991.2 L1320.2 991.2 L1322.7 991.2 L1325.2 991.2 L1327.7 991.2 L1330.2 991.2 L1332.7 991.2 L1335.2 991.2 L1337.7 991.2 L1340.2 991.2 L1342.7 991.2 L1345.2 991.2 L1347.7 991.2 L1350.2 991.2 L1352.7 991.2 L1355.2 991.2 L1357.7 991.2 L1360.2 991.2 L1362.7 991.2 L1365.2 991.2 L1367.7 991.2 L1370.2 991.2 L1372.7 991.2 L1375.2 991.2 L1377.7 991.2 L1380.2 991.2 L1382.7 991.2 L1385.2 991.2 L1387.7 991.2 L1390.2 991.2 L1392.7 991.2 L1395.2 991.2 L1397.7 991.2 L1400.2 991.2 L1402.7 991.2 L1405.2 991.2 L1407.7 991.2 L1410.2 991.2 L1412.7 991.2 L1415.2 991.2 L1417.7 991.2 L1420.2 991.2 L1422.7 991.2 L1425.2 991.2 L1427.7 991.2 L1430.2 991.2 L1432.7 991.2 L1435.2 991.2 L1437.7 991.2 L1440.2 991.2 L1442.7 991.2 L1445.2 991.2 L1447.7 991.2 L1450.2 991.2 L1452.7 991.2 L1455.2 991.2 L1457.7 991.2 L1460.2 991.2 L1462.7 991.2 L1465.2 991.2 L1467.7 991.2 L1470.2 991.2 L1472.7 991.2 L1475.2 991.2 L1477.7 991.2 L1480.2 991.2 L1482.7 991.2 L1485.2 991.2 L1487.7 991.2 L1490.2 991.2 L1492.7 991.2 L1495.2 991.2 L1497.7 991.2 L1500.2 991.2 L1502.7 991.2 L1505.2 991.2 L1507.7 991.2 L1510.2 991.2 L1512.7 991.2 L1515.2 991.2 L1517.7 991.2 L1520.2 991.2 L1522.7 991.2 L1525.2 991.2 L1527.7 991.2 L1530.2 991.2 L1532.7 991.2 L1535.2 991.2 L1537.7 991.2 L1540.2 991.2 L1542.7 991.2 L1545.2 991.2 L1547.7 991.2 L1550.2 991.2 L1552.7 991.2 L1555.2 991.2 L1557.7 991.2 L1560.2 991.2 L1562.7 991.2 L1565.2 991.2 L1567.7 991.2 L1570.2 991.2 L1572.7 991.2 L1575.2 991.2 L1577.7 991.2 L1580.2 991.2 L1582.7 991.2 L1585.2 991.2 L1587.7 991.2 L1590.2 991.2 L1592.7 991.2 L1595.2 991.2 L1597.7 991.2 L1600.2 991.2 L1602.7 991.2 L1605.2 991.2 L1607.7 991.2 L1610.2 991.2 L1612.7 991.2 L1615.2 991.2 L1617.7 991.1 L1620.2 991.1 L1622.7 991.1 L1625.2 991.1 L1627.7 991.1 L1630.2 991.1 L1632.7 991.1 L1635.2 991.1 L1637.7 991.1 L1640.2 991.1 L1642.7 991.1 L1645.2 991.1 L1647.7 991.1 L1650.2 991.1 L1652.7 991.1 L1655.2 991.1 L1657.7 991.1 L1660.2 991.1 L1662.7 991.1 L1665.2 991.1 L1667.7 991.1 L1670.2 991.1 L1672.7 991.1 L1675.2 991.1 L1677.7 991.1 L1680.2 991.1 L1682.7 991.1 L1685.2 991.1 L1687.7 991.1 L1690.2 991.1 L1692.7 991.1 L1695.2 991.1 L1697.7 991.1 L1700.2 991.1 L1702.7 991.1 L1705.2 991.1 L1707.7 991.1 L1710.2 991.1 L1712.7 991.1 L1715.2 991.1 L1717.7 991.1 L1720.2 991.1 L1722.7 991.0 L1725.2 991.0 L1727.7 991.0 L1730.2 991.0 L1732.7 991.0 L1735.2 991.0 L1737.7 991.0 L1740.2 991.0 L1742.7 991.0 L1745.2 991.0 L1747.7 991.0 L1750.2 991.0 L1752.7 991.0 L1755.2 991.0 L1757.7 991.0 L1760.2 991.0 L1762.7 991.0 L1765.2 991.0 L1767.7 991.0 L1770.2 991.0 L1772.7 991.0 L1775.2 991.0 L1777.7 990.9 L1780.2 990.9 L1782.7 990.9 L1785.2 990.9 L1787.7 990.9 L1790.2 990.9 L1792.7 990.9 L1795.2 990.9 L1797.7 990.9 L1800.2 990.9 L1802.7 990.9 L1805.2 990.9 L1807.7 990.9 L1810.2 990.9 L1812.7 990.9 L1815.2 990.8 L1817.7 990.8 L1820.2 990.8 L1822.7 990.8 L1825.2 990.8 L1827.7 990.8 L1830.2 990.8 L1832.7 990.8 L1835.2 990.8 L1837.7 990.8 L1840.2 990.7 L1842.7 990.7 L1845.2 990.7 L1847.7 990.7 L1850.2 990.7 L1852.7 990.7 L1855.2 990.7 L1857.7 990.7 L1860.2 990.6 L1862.7 990.6 L1865.2 990.6 L1867.7 990.6 L1870.2 990.6 L1872.7 990.6 L1875.2 990.5 L1877.7 990.5 L1880.2 990.5 L1882.7 990.5 L1885.2 990.5 L1887.7 990.4 L1890.2 990.4 L1892.7 990.4 L1895.2 990.4 L1897.7 990.3 L1900.2 990.3 L1902.7 990.3 L1905.2 990.2 L1907.7 990.2 L1910.2 990.2 L1912.7 990.1 L1915.2 990.1 L1917.7 990.0 L1920.2 990.0 L1922.7 989.9 L1925.2 989.8 L1927.7 989.8 L1930.2 989.7 L1932.7 989.6 L1935.2 989.5 L1937.7 989.3 L1940.2 989.2 L1942.7 989.0 L1945.2 988.8 L1947.7 988.5 L1950.2 988.3 L1952.7 988.0 L1955.2 987.6 L1957.7 987.2 L1960.2 986.7 L1962.7 986.2 L1965.2 985.5 L1967.7 984.8 L1970.2 984.0 L1972.7 983.1 L1975.2 982.1 L1977.7 981.0 L1980.2 979.7 L1982.7 978.2 L1985.2 976.6 L1987.7 974.9 L1990.2 972.9 L1992.7 970.8 L1995.2 968.5 L1997.7 965.9 L2000.2 963.2 L2002.7 960.2 L2005.2 957.0 L2007.7 953.6 L2010.2 949.9 L2012.7 946.1 L2015.2 942.0 L2017.7 937.8 L2020.2 933.4 L2022.7 928.8 L2025.2 924.0 L2027.7 919.2 L2030.2 914.3 L2032.7 909.3 L2035.2 904.2 L2037.7 899.2 L2040.2 894.3 L2042.7 889.4 L2045.2 884.7 L2047.7 880.1 L2050.2 875.8 L2052.7 871.8 L2055.2 868.0 L2057.7 864.6 L2060.2 861.6 L2062.7 859.1 L2065.2 857.0 L2067.7 855.4 L2070.2 854.3 L2072.7 853.8 L2075.2 853.8 L2077.7 854.3 L2080.2 855.3 L2082.7 856.9 L2085.2 859.0 L2087.7 861.5 L2090.2 864.5 L2092.7 867.9 L2095.2 871.6 L2097.7 875.7 L2100.2 880.0 L2102.7 884.5 L2105.2 889.2 L2107.7 894.1 L2110.2 899.0 L2112.7 904.0 L2115.2 909.1 L2117.7 914.1 L2120.2 919.0 L2122.7 923.8 L2125.2 928.6 L2127.7 933.2 L2130.2 937.6 L2132.7 941.9 L2135.2 945.9 L2137.7 949.8 L2140.2 953.4 L2142.7 956.8 L2145.2 960.1 L2147.7 963.0 L2150.2 965.8 L2152.7 968.4 L2155.2 970.7 L2157.7 972.8 L2160.2 974.8 L2162.7 976.6 L2165.2 978.2 L2167.7 979.6 L2170.2 980.9 L2172.7 982.1 L2175.2 983.1 L2177.7 984.0 L2180.2 984.8 L2182.7 985.5 L2185.2 986.1 L2187.7 986.7 L2190.2 987.2 L2192.7 987.6 L2195.2 987.9 L2197.7 988.3 L2200.2 988.5 L2202.7 988.8 L2205.2 989.0 L2207.7 989.2 L2210.2 989.3 L2212.7 989.4 L2215.2 989.6 L2217.7 989.7 L2220.2 989.8 L2222.7 989.8 L2225.2 989.9 L2227.7 990.0 L2230.2 990.0 L2232.7 990.1 L2235.2 990.1 L2237.7 990.2 L2240.2 990.2 L2242.7 990.2 L2245.2 990.3 L2247.7 990.3 L2250.2 990.3 L2252.7 990.4 L2255.2 990.4 L2257.7 990.4 L2260.2 990.4 L2262.7 990.5 L2265.2 990.5 L2267.7 990.5 L2270.2 990.5 L2272.7 990.5" fill="none" stroke="#00ff00" stroke-width="7.2" stroke-linejoin="round"/>
<g fill="#000"><circle cx="2274.0" cy="987.4" r="10.5"/><circle cx="2268.3" cy="986.8" r="10.5"/><circle cx="2262.7" cy="986.1" r="10.5"/><circle cx="2257.0" cy="985.4" r="10.5"/><circle cx="2251.3" cy="984.7" r="10.5"/><circle cx="2245.7" cy="983.9" r="10.5"/><circle cx="2240.0" cy="983.0" r="10.5"/><circle cx="2234.3" cy="982.1" r="10.5"/><circle cx="2228.7" cy="981.2" r="10.5"/><circle cx="2223.0" cy="980.2" r="10.5"/><circle cx="2217.4" cy="979.1" r="10.5"/><circle cx="2211.7" cy="978.0" r="10.5"/><circle cx="2206.0" cy="976.8" r="10.5"/><circle cx="2200.4" cy="975.4" r="10.5"/><circle cx="2194.7" cy="973.8" r="10.5"/><circle cx="2189.0" cy="971.8" r="10.5"/><circle cx="2183.4" cy="969.5" r="10.5"/><circle cx="2177.7" cy="966.6" r="10.5"/><circle cx="2172.0" cy="963.1" r="10.5"/><circle cx="2160.7" cy="953.8" r="10.5"/><circle cx="2149.4" cy="941.9" r="10.5"/><circle cx="2138.1" cy="926.2" r="10.5"/><circle cx="2126.7" cy="905.4" r="10.5"/><circle cx="2115.4" cy="878.8" r="10.5"/><circle cx="2104.1" cy="847.9" r="10.5"/><circle cx="2092.7" cy="815.5" r="10.5"/><circle cx="2081.4" cy="785.2" r="10.5"/><circle cx="2070.1" cy="759.7" r="10.5"/><circle cx="2058.7" cy="739.0" r="10.5"/><circle cx="2047.4" cy="721.2" r="10.5"/><circle cx="2036.1" cy="704.5" r="10.5"/><circle cx="2024.8" cy="688.2" r="10.5"/><circle cx="2013.4" cy="674.8" r="10.5"/><circle cx="2002.1" cy="667.5" r="10.5"/><circle cx="1990.8" cy="665.1" r="10.5"/><circle cx="1979.4" cy="662.0" r="10.5"/><circle cx="1968.1" cy="653.5" r="10.5"/><circle cx="1956.8" cy="637.6" r="10.5"/><circle cx="1945.5" cy="614.9" r="10.5"/><circle cx="1934.1" cy="588.2" r="10.5"/><circle cx="1922.8" cy="561.9" r="10.5"/><circle cx="1911.5" cy="541.3" r="10.5"/><circle cx="1900.1" cy="532.7" r="10.5"/><circle cx="1888.8" cy="540.5" r="10.5"/><circle cx="1877.5" cy="563.4" r="10.5"/><circle cx="1866.2" cy="595.7" r="10.5"/><circle cx="1854.8" cy="632.1" r="10.5"/><circle cx="1843.5" cy="666.9" r="10.5"/><circle cx="1832.2" cy="694.6" r="10.5"/><circle cx="1820.8" cy="710.8" r="10.5"/><circle cx="1809.5" cy="711.2" r="10.5"/><circle cx="1798.2" cy="693.8" r="10.5"/><circle cx="1786.8" cy="659.1" r="10.5"/><circle cx="1775.5" cy="609.0" r="10.5"/><circle cx="1764.2" cy="548.1" r="10.5"/><circle cx="1752.9" cy="482.9" r="10.5"/><circle cx="1741.5" cy="419.4" r="10.5"/><circle cx="1730.2" cy="363.9" r="10.5"/><circle cx="1718.9" cy="323.0" r="10.5"/><circle cx="1707.5" cy="300.5" r="10.5"/><circle cx="1696.2" cy="298.2" r="10.5"/><circle cx="1684.9" cy="313.5" r="10.5"/><circle cx="1673.6" cy="342.3" r="10.5"/><circle cx="1662.2" cy="380.3" r="10.5"/><circle cx="1650.9" cy="421.9" r="10.5"/><circle cx="1639.6" cy="462.8" r="10.5"/><circle cx="1628.2" cy="501.0" r="10.5"/><circle cx="1616.9" cy="536.8" r="10.5"/><circle cx="1605.6" cy="572.9" r="10.5"/><circle cx="1594.3" cy="610.9" r="10.5"/><circle cx="1582.9" cy="651.7" r="10.5"/><circle cx="1571.6" cy="695.4" r="10.5"/><circle cx="1560.3" cy="739.0" r="10.5"/><circle cx="1548.9" cy="781.7" r="10.5"/><circle cx="1537.6" cy="822.9" r="10.5"/><circle cx="1526.3" cy="859.1" r="10.5"/><circle cx="1514.9" cy="889.2" r="10.5"/><circle cx="1503.6" cy="914.2" r="10.5"/><circle cx="1492.3" cy="934.2" r="10.5"/><circle cx="1481.0" cy="948.8" r="10.5"/><circle cx="1469.6" cy="958.6" r="10.5"/><circle cx="1464.0" cy="962.5" r="10.5"/><circle cx="1458.3" cy="965.7" r="10.5"/><circle cx="1452.6" cy="968.5" r="10.5"/><circle cx="1447.0" cy="970.8" r="10.5"/><circle cx="1441.3" cy="972.9" r="10.5"/><circle cx="1435.6" cy="974.6" r="10.5"/><circle cx="1430.0" cy="976.1" r="10.5"/><circle cx="1424.3" cy="977.3" r="10.5"/><circle cx="1418.6" cy="978.4" r="10.5"/><circle cx="1413.0" cy="979.3" r="10.5"/><circle cx="1407.3" cy="980.2" r="10.5"/><circle cx="1401.7" cy="981.0" r="10.5"/><circle cx="1396.0" cy="981.7" r="10.5"/><circle cx="1390.3" cy="982.3" r="10.5"/><circle cx="1384.7" cy="982.9" r="10.5"/><circle cx="1379.0" cy="983.4" r="10.5"/><circle cx="1373.3" cy="983.8" r="10.5"/><circle cx="1367.7" cy="984.2" r="10.5"/><circle cx="1362.0" cy="984.6" r="10.5"/><circle cx="1356.3" cy="984.9" r="10.5"/><circle cx="1350.7" cy="985.2" r="10.5"/><circle cx="1345.0" cy="985.5" r="10.5"/><circle cx="1339.3" cy="985.8" r="10.5"/><circle cx="1333.7" cy="986.0" r="10.5"/><circle cx="1328.0" cy="986.3" r="10.5"/><circle cx="1322.4" cy="986.5" r="10.5"/><circle cx="1316.7" cy="986.6" r="10.5"/><circle cx="1311.0" cy="986.8" r="10.5"/><circle cx="1305.4" cy="986.9" r="10.5"/><circle cx="1299.7" cy="987.0" r="10.5"/><circle cx="1294.0" cy="987.1" r="10.5"/><circle cx="1288.4" cy="987.1" r="10.5"/></g>
<path d="M1282.7 1049.0 V19.0 H2274.0 V1049.0" fill="none" stroke="#000" stroke-width="6.6" stroke-linejoin="miter" stroke-linecap="butt"/>
<path d="M1282.7 1012.5 H2274.0" fill="none" stroke="#000" stroke-width="7.0"/>
<path d="M1353.5 1012.5 V1032.0 M1424.3 1012.5 V1049.0 M1495.1 1012.5 V1032.0 M1565.9 1012.5 V1049.0 M1636.7 1012.5 V1032.0 M1707.5 1012.5 V1049.0 M1778.3 1012.5 V1032.0 M1849.2 1012.5 V1049.0 M1920.0 1012.5 V1032.0 M1990.8 1012.5 V1049.0 M2061.6 1012.5 V1032.0 M2132.4 1012.5 V1049.0 M2203.2 1012.5 V1032.0" fill="none" stroke="#000" stroke-width="6.0" stroke-linecap="butt"/>
<text x="1281.7" y="1105.8" text-anchor="middle" style="font-family:'Liberation Serif',serif;font-weight:bold;font-size:50.6px;stroke:#000;stroke-width:0.90px;stroke-linejoin:round">3225</text>
<text x="1423.3" y="1105.8" text-anchor="middle" style="font-family:'Liberation Serif',serif;font-weight:bold;font-size:50.6px;stroke:#000;stroke-width:0.90px;stroke-linejoin:round">3200</text>
<text x="1564.9" y="1105.8" text-anchor="middle" style="font-family:'Liberation Serif',serif;font-weight:bold;font-size:50.6px;stroke:#000;stroke-width:0.90px;stroke-linejoin:round">3175</text>
<text x="1706.5" y="1105.8" text-anchor="middle" style="font-family:'Liberation Serif',serif;font-weight:bold;font-size:50.6px;stroke:#000;stroke-width:0.90px;stroke-linejoin:round">3150</text>
<text x="1848.2" y="1105.8" text-anchor="middle" style="font-family:'Liberation Serif',serif;font-weight:bold;font-size:50.6px;stroke:#000;stroke-width:0.90px;stroke-linejoin:round">3125</text>
<text x="1989.8" y="1105.8" text-anchor="middle" style="font-family:'Liberation Serif',serif;font-weight:bold;font-size:50.6px;stroke:#000;stroke-width:0.90px;stroke-linejoin:round">3100</text>
<text x="2131.4" y="1105.8" text-anchor="middle" style="font-family:'Liberation Serif',serif;font-weight:bold;font-size:50.6px;stroke:#000;stroke-width:0.90px;stroke-linejoin:round">3075</text>
<text x="2273.0" y="1105.8" text-anchor="middle" style="font-family:'Liberation Serif',serif;font-weight:bold;font-size:50.6px;stroke:#000;stroke-width:0.90px;stroke-linejoin:round">3050</text>
<text x="1778.6" y="1184.3" text-anchor="middle" style="font-family:'Liberation Serif',serif;font-weight:bold;font-size:73.3px;stroke:#000;stroke-width:0.90px;stroke-linejoin:round">Wavenumber (cm<tspan dx="7.5" dy="-22.0" style="font-size:43.5px">-1</tspan><tspan dy="22.0" dx="0.0">)</tspan></text>
<text transform="translate(1257.9 516.5) rotate(-90)" text-anchor="middle" style="font-family:'Liberation Serif',serif;font-weight:bold;font-size:69.0px;stroke:#000;stroke-width:0.90px;stroke-linejoin:round">Absorbance (offset scale)</text>
<text x="1306.5" y="97.3" style="font-family:'Liberation Serif',serif;font-weight:bold;font-size:59.6px;stroke:#000;stroke-width:0.90px;stroke-linejoin:round">(b) [EPrI][TFSI]/PCL</text>
<text x="1394.5" y="162.1" style="font-family:'Liberation Serif',serif;font-weight:bold;font-size:59.6px;stroke:#000;stroke-width:0.90px;stroke-linejoin:round">=10/90</text>
</g>
<g id="panel-c">
<path d="M145.0 2177.5 L190.0 2177.5 L205.0 2172.0 L220.0 2164.9 L222.0 2164.6 L224.0 2164.3 L226.0 2164.0 L228.0 2163.7 L230.0 2163.4 L232.0 2163.1 L234.0 2162.7 L236.0 2162.4 L238.0 2162.0 L240.0 2161.6 L242.0 2161.2 L244.0 2160.7 L246.0 2160.3 L248.0 2159.8 L250.0 2159.2 L252.0 2158.7 L254.0 2158.1 L256.0 2157.5 L258.0 2156.8 L260.0 2156.1 L262.0 2155.4 L264.0 2154.6 L266.0 2153.7 L268.0 2152.8 L270.0 2151.9 L272.0 2150.9 L274.0 2149.8 L276.0 2148.7 L278.0 2147.5 L280.0 2146.2 L282.0 2144.9 L284.0 2143.5 L286.0 2142.0 L288.0 2140.5 L290.0 2138.8 L292.0 2136.9 L294.0 2135.0 L296.0 2132.9 L298.0 2130.7 L300.0 2128.4 L302.0 2126.1 L304.0 2123.6 L306.0 2121.0 L308.0 2118.2 L310.0 2115.4 L312.0 2112.5 L314.0 2109.4 L316.0 2106.2 L318.0 2102.8 L320.0 2099.4 L322.0 2095.8 L324.0 2092.0 L326.0 2088.2 L328.0 2084.1 L330.0 2080.0 L332.0 2075.7 L334.0 2071.3 L336.0 2066.8 L338.0 2062.1 L340.0 2057.3 L342.0 2052.4 L344.0 2047.3 L346.0 2042.1 L348.0 2036.8 L350.0 2031.3 L352.0 2025.7 L354.0 2020.0 L356.0 2014.1 L358.0 2008.1 L360.0 2002.0 L362.0 1995.7 L364.0 1989.3 L366.0 1982.8 L368.0 1976.2 L370.0 1969.6 L372.0 1962.9 L374.0 1956.1 L376.0 1949.2 L378.0 1942.3 L380.0 1935.2 L382.0 1928.1 L384.0 1920.9 L386.0 1913.7 L388.0 1906.4 L390.0 1899.0 L392.0 1891.5 L394.0 1883.9 L396.0 1876.2 L398.0 1868.5 L400.0 1860.8 L402.0 1853.0 L404.0 1845.2 L406.0 1837.4 L408.0 1829.5 L410.0 1821.7 L412.0 1813.8 L414.0 1805.9 L416.0 1798.0 L418.0 1790.1 L420.0 1782.2 L422.0 1774.3 L424.0 1766.4 L426.0 1758.5 L428.0 1750.6 L430.0 1742.7 L432.0 1734.9 L434.0 1727.1 L436.0 1719.3 L438.0 1711.5 L440.0 1703.7 L442.0 1695.9 L444.0 1688.1 L446.0 1680.3 L448.0 1672.6 L450.0 1664.8 L452.0 1657.0 L454.0 1649.2 L456.0 1641.4 L458.0 1633.6 L460.0 1625.9 L462.0 1618.2 L464.0 1610.5 L466.0 1602.9 L468.0 1595.3 L470.0 1587.8 L472.0 1580.2 L474.0 1572.7 L476.0 1565.4 L478.0 1558.1 L480.0 1551.0 L482.0 1544.2 L484.0 1537.5 L486.0 1531.0 L488.0 1524.8 L490.0 1518.9 L492.0 1513.4 L494.0 1508.1 L496.0 1503.2 L498.0 1498.6 L500.0 1494.4 L502.0 1490.6 L504.0 1487.2 L506.0 1484.2 L508.0 1481.6 L510.0 1479.5 L512.0 1477.9 L514.0 1476.9 L516.0 1476.4 L518.0 1476.5 L520.0 1477.1 L522.0 1478.2 L524.0 1479.8 L526.0 1481.9 L528.0 1484.6 L530.0 1487.9 L532.0 1491.8 L534.0 1496.3 L536.0 1501.3 L538.0 1506.8 L540.0 1512.8 L542.0 1519.3 L544.0 1526.2 L546.0 1533.7 L548.0 1541.5 L550.0 1549.8 L552.0 1558.5 L554.0 1567.5 L556.0 1576.9 L558.0 1586.6 L560.0 1596.7 L562.0 1607.0 L564.0 1617.6 L566.0 1628.4 L568.0 1639.4 L570.0 1650.5 L572.0 1661.6 L574.0 1672.8 L576.0 1684.0 L578.0 1695.2 L580.0 1706.3 L582.0 1717.2 L584.0 1727.9 L586.0 1738.4 L588.0 1748.8 L590.0 1758.9 L592.0 1768.8 L594.0 1778.4 L596.0 1787.7 L598.0 1796.8 L600.0 1805.4 L602.0 1813.7 L604.0 1821.7 L606.0 1829.2 L608.0 1836.4 L610.0 1843.1 L612.0 1849.4 L614.0 1855.2 L616.0 1860.5 L618.0 1865.2 L620.0 1869.3 L622.0 1872.9 L624.0 1876.0 L626.0 1878.6 L628.0 1880.6 L630.0 1882.1 L632.0 1883.0 L634.0 1883.3 L636.0 1883.0 L638.0 1882.3 L640.0 1881.1 L642.0 1879.5 L644.0 1877.4 L646.0 1874.9 L648.0 1872.0 L650.0 1868.7 L652.0 1865.0 L654.0 1861.0 L656.0 1856.6 L658.0 1851.9 L660.0 1847.0 L662.0 1841.7 L664.0 1836.3 L666.0 1830.5 L668.0 1824.6 L670.0 1818.5 L672.0 1812.4 L674.0 1806.2 L676.0 1799.9 L678.0 1793.7 L680.0 1787.5 L682.0 1781.3 L684.0 1775.3 L686.0 1769.4 L688.0 1763.7 L690.0 1758.2 L692.0 1752.9 L694.0 1747.8 L696.0 1743.0 L698.0 1738.5 L700.0 1734.2 L702.0 1730.3 L704.0 1726.8 L706.0 1723.5 L708.0 1720.7 L710.0 1718.2 L712.0 1716.0 L714.0 1714.3 L716.0 1713.0 L718.0 1712.1 L720.0 1711.8 L722.0 1711.8 L724.0 1712.3 L726.0 1713.2 L728.0 1714.5 L730.0 1716.2 L732.0 1718.2 L734.0 1720.6 L736.0 1723.4 L738.0 1726.5 L740.0 1729.8 L742.0 1733.4 L744.0 1737.2 L746.0 1741.2 L748.0 1745.4 L750.0 1749.8 L752.0 1754.4 L754.0 1759.1 L756.0 1763.8 L758.0 1768.6 L760.0 1773.4 L762.0 1778.2 L764.0 1783.0 L766.0 1787.7 L768.0 1792.4 L770.0 1796.9 L772.0 1801.4 L774.0 1805.7 L776.0 1810.0 L778.0 1814.1 L780.0 1818.0 L782.0 1821.6 L784.0 1825.1 L786.0 1828.3 L788.0 1831.3 L790.0 1834.0 L792.0 1836.6 L794.0 1838.8 L796.0 1840.8 L798.0 1842.6 L800.0 1844.0 L802.0 1845.2 L804.0 1846.2 L806.0 1846.9 L808.0 1847.5 L810.0 1847.9 L812.0 1848.1 L814.0 1848.2 L816.0 1848.3 L818.0 1848.4 L820.0 1848.6 L822.0 1848.9 L824.0 1849.4 L826.0 1850.0 L828.0 1850.8 L830.0 1851.9 L832.0 1853.3 L834.0 1855.0 L836.0 1857.0 L838.0 1859.3 L840.0 1862.0 L842.0 1864.9 L844.0 1868.1 L846.0 1871.5 L848.0 1875.1 L850.0 1878.9 L852.0 1882.9 L854.0 1887.0 L856.0 1891.2 L858.0 1895.4 L860.0 1899.7 L862.0 1904.0 L864.0 1908.3 L866.0 1912.6 L868.0 1917.0 L870.0 1921.3 L872.0 1925.6 L874.0 1929.8 L876.0 1934.0 L878.0 1938.2 L880.0 1942.3 L882.0 1946.5 L884.0 1950.7 L886.0 1954.9 L888.0 1959.0 L890.0 1963.1 L892.0 1967.3 L894.0 1971.4 L896.0 1975.6 L898.0 1979.7 L900.0 1983.9 L902.0 1988.1 L904.0 1992.3 L906.0 1996.5 L908.0 2000.8 L910.0 2005.1 L912.0 2009.4 L914.0 2013.7 L916.0 2018.0 L918.0 2022.3 L920.0 2026.7 L922.0 2031.0 L924.0 2035.3 L926.0 2039.6 L928.0 2043.9 L930.0 2048.1 L932.0 2052.4 L934.0 2056.6 L936.0 2060.8 L938.0 2065.0 L940.0 2069.1 L942.0 2073.2 L944.0 2077.2 L946.0 2081.2 L948.0 2085.1 L950.0 2089.0 L952.0 2092.8 L954.0 2096.5 L956.0 2100.2 L958.0 2103.7 L960.0 2107.2 L962.0 2110.6 L964.0 2113.9 L966.0 2117.1 L968.0 2120.2 L970.0 2123.2 L972.0 2126.1 L974.0 2128.9 L976.0 2131.6 L978.0 2134.1 L980.0 2136.6 L982.0 2138.9 L984.0 2141.1 L986.0 2143.2 L988.0 2145.1 L990.0 2146.9 L992.0 2148.6 L994.0 2150.2 L996.0 2151.6 L998.0 2153.0 L1000.0 2154.3 L1002.0 2155.5 L1004.0 2156.6 L1006.0 2157.7 L1008.0 2158.6 L1010.0 2159.5 L1012.0 2160.3 L1014.0 2161.1 L1016.0 2161.7 L1018.0 2162.4 L1020.0 2162.9 L1022.0 2163.4 L1024.0 2163.9 L1026.0 2164.4 L1028.0 2164.8 L1030.0 2165.2 L1032.0 2165.5 L1034.0 2165.9 L1036.0 2166.2 L1038.0 2166.5 L1040.0 2166.8 L1050.0 2176.0 L1070.0 2176.0" fill="none" stroke="#000" stroke-width="6.2" stroke-linejoin="round" stroke-linecap="round"/>
<path d="M101.5 2169.5 L104.0 2169.4 L106.5 2169.4 L109.0 2169.3 L111.5 2169.2 L114.0 2169.2 L116.5 2169.1 L119.0 2169.0 L121.5 2169.0 L124.0 2168.9 L126.5 2168.8 L129.0 2168.7 L131.5 2168.7 L134.0 2168.6 L136.5 2168.5 L139.0 2168.4 L141.5 2168.3 L144.0 2168.3 L146.5 2168.2 L149.0 2168.1 L151.5 2168.0 L154.0 2167.9 L156.5 2167.8 L159.0 2167.7 L161.5 2167.6 L164.0 2167.5 L166.5 2167.4 L169.0 2167.2 L171.5 2167.1 L174.0 2167.0 L176.5 2166.9 L179.0 2166.7 L181.5 2166.6 L184.0 2166.5 L186.5 2166.3 L189.0 2166.1 L191.5 2166.0 L194.0 2165.8 L196.5 2165.6 L199.0 2165.5 L201.5 2165.3 L204.0 2165.1 L206.5 2164.8 L209.0 2164.6 L211.5 2164.4 L214.0 2164.1 L216.5 2163.8 L219.0 2163.6 L221.5 2163.3 L224.0 2162.9 L226.5 2162.6 L229.0 2162.2 L231.5 2161.8 L234.0 2161.4 L236.5 2160.9 L239.0 2160.5 L241.5 2159.9 L244.0 2159.4 L246.5 2158.8 L249.0 2158.1 L251.5 2157.5 L254.0 2156.7 L256.5 2155.9 L259.0 2155.1 L261.5 2154.1 L264.0 2153.1 L266.5 2152.1 L269.0 2150.9 L271.5 2149.7 L274.0 2148.4 L276.5 2147.0 L279.0 2145.5 L281.5 2143.9 L284.0 2142.2 L286.5 2140.3 L289.0 2138.4 L291.5 2136.3 L294.0 2134.1 L296.5 2131.8 L299.0 2129.3 L301.5 2126.6 L304.0 2123.8 L306.5 2120.9 L309.0 2117.8 L311.5 2114.5 L314.0 2111.0 L316.5 2107.4 L319.0 2103.6 L321.5 2099.7 L324.0 2095.5 L326.5 2091.2 L329.0 2086.7 L331.5 2082.0 L334.0 2077.2 L336.5 2072.2 L339.0 2067.0 L341.5 2061.7 L344.0 2056.2 L346.5 2050.5 L349.0 2044.7 L351.5 2038.8 L354.0 2032.8 L356.5 2026.6 L359.0 2020.4 L361.5 2014.1 L364.0 2007.7 L366.5 2001.3 L369.0 1994.8 L371.5 1988.3 L374.0 1981.9 L376.5 1975.4 L379.0 1969.1 L381.5 1962.8 L384.0 1956.6 L386.5 1950.5 L389.0 1944.6 L391.5 1938.9 L394.0 1933.4 L396.5 1928.2 L399.0 1923.2 L401.5 1918.5 L404.0 1914.2 L406.5 1910.2 L409.0 1906.7 L411.5 1903.5 L414.0 1900.8 L416.5 1898.6 L419.0 1896.8 L421.5 1895.5 L424.0 1894.8 L426.5 1894.5 L429.0 1894.8 L431.5 1895.5 L434.0 1896.8 L436.5 1898.6 L439.0 1900.8 L441.5 1903.5 L444.0 1906.7 L446.5 1910.2 L449.0 1914.2 L451.5 1918.5 L454.0 1923.2 L456.5 1928.2 L459.0 1933.4 L461.5 1938.9 L464.0 1944.6 L466.5 1950.5 L469.0 1956.6 L471.5 1962.8 L474.0 1969.1 L476.5 1975.4 L479.0 1981.9 L481.5 1988.3 L484.0 1994.8 L486.5 2001.3 L489.0 2007.7 L491.5 2014.1 L494.0 2020.4 L496.5 2026.6 L499.0 2032.8 L501.5 2038.8 L504.0 2044.7 L506.5 2050.5 L509.0 2056.2 L511.5 2061.7 L514.0 2067.0 L516.5 2072.2 L519.0 2077.2 L521.5 2082.0 L524.0 2086.7 L526.5 2091.2 L529.0 2095.5 L531.5 2099.7 L534.0 2103.6 L536.5 2107.4 L539.0 2111.0 L541.5 2114.5 L544.0 2117.8 L546.5 2120.9 L549.0 2123.8 L551.5 2126.6 L554.0 2129.3 L556.5 2131.8 L559.0 2134.1 L561.5 2136.3 L564.0 2138.4 L566.5 2140.3 L569.0 2142.2 L571.5 2143.9 L574.0 2145.5 L576.5 2147.0 L579.0 2148.4 L581.5 2149.7 L584.0 2150.9 L586.5 2152.1 L589.0 2153.1 L591.5 2154.1 L594.0 2155.1 L596.5 2155.9 L599.0 2156.7 L601.5 2157.5 L604.0 2158.1 L606.5 2158.8 L609.0 2159.4 L611.5 2159.9 L614.0 2160.5 L616.5 2160.9 L619.0 2161.4 L621.5 2161.8 L624.0 2162.2 L626.5 2162.6 L629.0 2162.9 L631.5 2163.3 L634.0 2163.6 L636.5 2163.8 L639.0 2164.1 L641.5 2164.4 L644.0 2164.6 L646.5 2164.8 L649.0 2165.1 L651.5 2165.3 L654.0 2165.5 L656.5 2165.6 L659.0 2165.8 L661.5 2166.0 L664.0 2166.1 L666.5 2166.3 L669.0 2166.5 L671.5 2166.6 L674.0 2166.7 L676.5 2166.9 L679.0 2167.0 L681.5 2167.1 L684.0 2167.2 L686.5 2167.4 L689.0 2167.5 L691.5 2167.6 L694.0 2167.7 L696.5 2167.8 L699.0 2167.9 L701.5 2168.0 L704.0 2168.1 L706.5 2168.2 L709.0 2168.3 L711.5 2168.3 L714.0 2168.4 L716.5 2168.5 L719.0 2168.6 L721.5 2168.7 L724.0 2168.7 L726.5 2168.8 L729.0 2168.9 L731.5 2169.0 L734.0 2169.0 L736.5 2169.1 L739.0 2169.2 L741.5 2169.2 L744.0 2169.3 L746.5 2169.4 L749.0 2169.4 L751.5 2169.5 L754.0 2169.5 L756.5 2169.6 L759.0 2169.7 L761.5 2169.7 L764.0 2169.8 L766.5 2169.8 L769.0 2169.9 L771.5 2169.9 L774.0 2170.0 L776.5 2170.0 L779.0 2170.1 L781.5 2170.1 L784.0 2170.1 L786.5 2170.2 L789.0 2170.2 L791.5 2170.3 L794.0 2170.3 L796.5 2170.4 L799.0 2170.4 L801.5 2170.4 L804.0 2170.5 L806.5 2170.5 L809.0 2170.6 L811.5 2170.6 L814.0 2170.6 L816.5 2170.7 L819.0 2170.7 L821.5 2170.7 L824.0 2170.8 L826.5 2170.8 L829.0 2170.8 L831.5 2170.9 L834.0 2170.9 L836.5 2170.9 L839.0 2171.0 L841.5 2171.0 L844.0 2171.0 L846.5 2171.0 L849.0 2171.1 L851.5 2171.1 L854.0 2171.1 L856.5 2171.2 L859.0 2171.2 L861.5 2171.2 L864.0 2171.2 L866.5 2171.3 L869.0 2171.3 L871.5 2171.3 L874.0 2171.3 L876.5 2171.4 L879.0 2171.4 L881.5 2171.4 L884.0 2171.4 L886.5 2171.4 L889.0 2171.5 L891.5 2171.5 L894.0 2171.5 L896.5 2171.5 L899.0 2171.5 L901.5 2171.6 L904.0 2171.6 L906.5 2171.6 L909.0 2171.6 L911.5 2171.6 L914.0 2171.7 L916.5 2171.7 L919.0 2171.7 L921.5 2171.7 L924.0 2171.7 L926.5 2171.8 L929.0 2171.8 L931.5 2171.8 L934.0 2171.8 L936.5 2171.8 L939.0 2171.8 L941.5 2171.9 L944.0 2171.9 L946.5 2171.9 L949.0 2171.9 L951.5 2171.9 L954.0 2171.9 L956.5 2171.9 L959.0 2172.0 L961.5 2172.0 L964.0 2172.0 L966.5 2172.0 L969.0 2172.0 L971.5 2172.0 L974.0 2172.0 L976.5 2172.1 L979.0 2172.1 L981.5 2172.1 L984.0 2172.1 L986.5 2172.1 L989.0 2172.1 L991.5 2172.1 L994.0 2172.1 L996.5 2172.1 L999.0 2172.2 L1001.5 2172.2 L1004.0 2172.2 L1006.5 2172.2 L1009.0 2172.2 L1011.5 2172.2 L1014.0 2172.2 L1016.5 2172.2 L1019.0 2172.2 L1021.5 2172.3 L1024.0 2172.3 L1026.5 2172.3 L1029.0 2172.3 L1031.5 2172.3 L1034.0 2172.3 L1036.5 2172.3 L1039.0 2172.3 L1041.5 2172.3 L1044.0 2172.3 L1046.5 2172.4 L1049.0 2172.4 L1051.5 2172.4 L1054.0 2172.4 L1056.5 2172.4 L1059.0 2172.4 L1061.5 2172.4 L1064.0 2172.4 L1066.5 2172.4 L1069.0 2172.4 L1071.5 2172.4 L1074.0 2172.4 L1076.5 2172.5 L1079.0 2172.5 L1081.5 2172.5 L1084.0 2172.5 L1086.5 2172.5 L1089.0 2172.5 L1091.5 2172.5" fill="none" stroke="#696969" stroke-width="5.8" stroke-linejoin="round"/>
<path d="M101.5 2173.5 L104.0 2173.5 L106.5 2173.5 L109.0 2173.5 L111.5 2173.5 L114.0 2173.5 L116.5 2173.5 L119.0 2173.5 L121.5 2173.5 L124.0 2173.5 L126.5 2173.5 L129.0 2173.5 L131.5 2173.5 L134.0 2173.5 L136.5 2173.5 L139.0 2173.5 L141.5 2173.5 L144.0 2173.5 L146.5 2173.5 L149.0 2173.5 L151.5 2173.5 L154.0 2173.5 L156.5 2173.5 L159.0 2173.5 L161.5 2173.5 L164.0 2173.5 L166.5 2173.5 L169.0 2173.5 L171.5 2173.5 L174.0 2173.5 L176.5 2173.5 L179.0 2173.5 L181.5 2173.5 L184.0 2173.5 L186.5 2173.5 L189.0 2173.5 L191.5 2173.5 L194.0 2173.5 L196.5 2173.5 L199.0 2173.5 L201.5 2173.5 L204.0 2173.5 L206.5 2173.5 L209.0 2173.5 L211.5 2173.5 L214.0 2173.5 L216.5 2173.5 L219.0 2173.5 L221.5 2173.5 L224.0 2173.5 L226.5 2173.5 L229.0 2173.5 L231.5 2173.5 L234.0 2173.5 L236.5 2173.5 L239.0 2173.5 L241.5 2173.5 L244.0 2173.5 L246.5 2173.5 L249.0 2173.5 L251.5 2173.5 L254.0 2173.5 L256.5 2173.5 L259.0 2173.5 L261.5 2173.5 L264.0 2173.5 L266.5 2173.5 L269.0 2173.4 L271.5 2173.4 L274.0 2173.4 L276.5 2173.4 L279.0 2173.4 L281.5 2173.4 L284.0 2173.3 L286.5 2173.3 L289.0 2173.3 L291.5 2173.2 L294.0 2173.2 L296.5 2173.1 L299.0 2173.1 L301.5 2173.0 L304.0 2172.9 L306.5 2172.8 L309.0 2172.7 L311.5 2172.6 L314.0 2172.5 L316.5 2172.3 L319.0 2172.1 L321.5 2171.9 L324.0 2171.7 L326.5 2171.4 L329.0 2171.1 L331.5 2170.7 L334.0 2170.3 L336.5 2169.9 L339.0 2169.4 L341.5 2168.8 L344.0 2168.1 L346.5 2167.4 L349.0 2166.6 L351.5 2165.7 L354.0 2164.7 L356.5 2163.6 L359.0 2162.4 L361.5 2161.0 L364.0 2159.5 L366.5 2157.8 L369.0 2156.0 L371.5 2154.0 L374.0 2151.7 L376.5 2149.3 L379.0 2146.7 L381.5 2143.8 L384.0 2140.6 L386.5 2137.2 L389.0 2133.5 L391.5 2129.5 L394.0 2125.2 L396.5 2120.5 L399.0 2115.5 L401.5 2110.2 L404.0 2104.4 L406.5 2098.3 L409.0 2091.8 L411.5 2084.8 L414.0 2077.4 L416.5 2069.6 L419.0 2061.4 L421.5 2052.7 L424.0 2043.5 L426.5 2033.9 L429.0 2023.8 L431.5 2013.3 L434.0 2002.3 L436.5 1991.0 L439.0 1979.1 L441.5 1966.9 L444.0 1954.3 L446.5 1941.3 L449.0 1928.0 L451.5 1914.3 L454.0 1900.3 L456.5 1886.1 L459.0 1871.7 L461.5 1857.1 L464.0 1842.4 L466.5 1827.5 L469.0 1812.6 L471.5 1797.8 L474.0 1782.9 L476.5 1768.2 L479.0 1753.7 L481.5 1739.4 L484.0 1725.4 L486.5 1711.7 L489.0 1698.4 L491.5 1685.6 L494.0 1673.3 L496.5 1661.5 L499.0 1650.4 L501.5 1640.0 L504.0 1630.3 L506.5 1621.3 L509.0 1613.2 L511.5 1605.9 L514.0 1599.5 L516.5 1594.1 L519.0 1589.6 L521.5 1586.1 L524.0 1583.5 L526.5 1582.0 L529.0 1581.5 L531.5 1582.0 L534.0 1583.5 L536.5 1586.1 L539.0 1589.6 L541.5 1594.1 L544.0 1599.5 L546.5 1605.9 L549.0 1613.2 L551.5 1621.3 L554.0 1630.3 L556.5 1640.0 L559.0 1650.4 L561.5 1661.5 L564.0 1673.3 L566.5 1685.6 L569.0 1698.4 L571.5 1711.7 L574.0 1725.4 L576.5 1739.4 L579.0 1753.7 L581.5 1768.2 L584.0 1782.9 L586.5 1797.8 L589.0 1812.6 L591.5 1827.5 L594.0 1842.4 L596.5 1857.1 L599.0 1871.7 L601.5 1886.1 L604.0 1900.3 L606.5 1914.3 L609.0 1928.0 L611.5 1941.3 L614.0 1954.3 L616.5 1966.9 L619.0 1979.1 L621.5 1991.0 L624.0 2002.3 L626.5 2013.3 L629.0 2023.8 L631.5 2033.9 L634.0 2043.5 L636.5 2052.7 L639.0 2061.4 L641.5 2069.6 L644.0 2077.4 L646.5 2084.8 L649.0 2091.8 L651.5 2098.3 L654.0 2104.4 L656.5 2110.2 L659.0 2115.5 L661.5 2120.5 L664.0 2125.2 L666.5 2129.5 L669.0 2133.5 L671.5 2137.2 L674.0 2140.6 L676.5 2143.8 L679.0 2146.7 L681.5 2149.3 L684.0 2151.7 L686.5 2154.0 L689.0 2156.0 L691.5 2157.8 L694.0 2159.5 L696.5 2161.0 L699.0 2162.4 L701.5 2163.6 L704.0 2164.7 L706.5 2165.7 L709.0 2166.6 L711.5 2167.4 L714.0 2168.1 L716.5 2168.8 L719.0 2169.4 L721.5 2169.9 L724.0 2170.3 L726.5 2170.7 L729.0 2171.1 L731.5 2171.4 L734.0 2171.7 L736.5 2171.9 L739.0 2172.1 L741.5 2172.3 L744.0 2172.5 L746.5 2172.6 L749.0 2172.7 L751.5 2172.8 L754.0 2172.9 L756.5 2173.0 L759.0 2173.1 L761.5 2173.1 L764.0 2173.2 L766.5 2173.2 L769.0 2173.3 L771.5 2173.3 L774.0 2173.3 L776.5 2173.4 L779.0 2173.4 L781.5 2173.4 L784.0 2173.4 L786.5 2173.4 L789.0 2173.4 L791.5 2173.5 L794.0 2173.5 L796.5 2173.5 L799.0 2173.5 L801.5 2173.5 L804.0 2173.5 L806.5 2173.5 L809.0 2173.5 L811.5 2173.5 L814.0 2173.5 L816.5 2173.5 L819.0 2173.5 L821.5 2173.5 L824.0 2173.5 L826.5 2173.5 L829.0 2173.5 L831.5 2173.5 L834.0 2173.5 L836.5 2173.5 L839.0 2173.5 L841.5 2173.5 L844.0 2173.5 L846.5 2173.5 L849.0 2173.5 L851.5 2173.5 L854.0 2173.5 L856.5 2173.5 L859.0 2173.5 L861.5 2173.5 L864.0 2173.5 L866.5 2173.5 L869.0 2173.5 L871.5 2173.5 L874.0 2173.5 L876.5 2173.5 L879.0 2173.5 L881.5 2173.5 L884.0 2173.5 L886.5 2173.5 L889.0 2173.5 L891.5 2173.5 L894.0 2173.5 L896.5 2173.5 L899.0 2173.5 L901.5 2173.5 L904.0 2173.5 L906.5 2173.5 L909.0 2173.5 L911.5 2173.5 L914.0 2173.5 L916.5 2173.5 L919.0 2173.5 L921.5 2173.5 L924.0 2173.5 L926.5 2173.5 L929.0 2173.5 L931.5 2173.5 L934.0 2173.5 L936.5 2173.5 L939.0 2173.5 L941.5 2173.5 L944.0 2173.5 L946.5 2173.5 L949.0 2173.5 L951.5 2173.5 L954.0 2173.5 L956.5 2173.5 L959.0 2173.5 L961.5 2173.5 L964.0 2173.5 L966.5 2173.5 L969.0 2173.5 L971.5 2173.5 L974.0 2173.5 L976.5 2173.5 L979.0 2173.5 L981.5 2173.5 L984.0 2173.5 L986.5 2173.5 L989.0 2173.5 L991.5 2173.5 L994.0 2173.5 L996.5 2173.5 L999.0 2173.5 L1001.5 2173.5 L1004.0 2173.5 L1006.5 2173.5 L1009.0 2173.5 L1011.5 2173.5 L1014.0 2173.5 L1016.5 2173.5 L1019.0 2173.5 L1021.5 2173.5 L1024.0 2173.5 L1026.5 2173.5 L1029.0 2173.5 L1031.5 2173.5 L1034.0 2173.5 L1036.5 2173.5 L1039.0 2173.5 L1041.5 2173.5 L1044.0 2173.5 L1046.5 2173.5 L1049.0 2173.5 L1051.5 2173.5 L1054.0 2173.5 L1056.5 2173.5 L1059.0 2173.5 L1061.5 2173.5 L1064.0 2173.5 L1066.5 2173.5 L1069.0 2173.5 L1071.5 2173.5 L1074.0 2173.5 L1076.5 2173.5 L1079.0 2173.5 L1081.5 2173.5 L1084.0 2173.5 L1086.5 2173.5 L1089.0 2173.5 L1091.5 2173.5" fill="none" stroke="#663300" stroke-width="6.4" stroke-linejoin="round"/>
<path d="M101.5 2173.5 L104.0 2173.5 L106.5 2173.5 L109.0 2173.5 L111.5 2173.5 L114.0 2173.5 L116.5 2173.5 L119.0 2173.5 L121.5 2173.5 L124.0 2173.5 L126.5 2173.5 L129.0 2173.5 L131.5 2173.5 L134.0 2173.5 L136.5 2173.5 L139.0 2173.5 L141.5 2173.5 L144.0 2173.5 L146.5 2173.5 L149.0 2173.5 L151.5 2173.5 L154.0 2173.5 L156.5 2173.5 L159.0 2173.5 L161.5 2173.5 L164.0 2173.5 L166.5 2173.5 L169.0 2173.5 L171.5 2173.5 L174.0 2173.5 L176.5 2173.5 L179.0 2173.5 L181.5 2173.5 L184.0 2173.5 L186.5 2173.5 L189.0 2173.5 L191.5 2173.5 L194.0 2173.5 L196.5 2173.5 L199.0 2173.5 L201.5 2173.5 L204.0 2173.5 L206.5 2173.5 L209.0 2173.5 L211.5 2173.5 L214.0 2173.5 L216.5 2173.5 L219.0 2173.5 L221.5 2173.5 L224.0 2173.5 L226.5 2173.5 L229.0 2173.5 L231.5 2173.5 L234.0 2173.5 L236.5 2173.5 L239.0 2173.5 L241.5 2173.5 L244.0 2173.5 L246.5 2173.5 L249.0 2173.5 L251.5 2173.5 L254.0 2173.5 L256.5 2173.5 L259.0 2173.5 L261.5 2173.5 L264.0 2173.5 L266.5 2173.5 L269.0 2173.5 L271.5 2173.5 L274.0 2173.5 L276.5 2173.5 L279.0 2173.5 L281.5 2173.5 L284.0 2173.5 L286.5 2173.5 L289.0 2173.5 L291.5 2173.5 L294.0 2173.5 L296.5 2173.5 L299.0 2173.5 L301.5 2173.5 L304.0 2173.5 L306.5 2173.5 L309.0 2173.5 L311.5 2173.5 L314.0 2173.5 L316.5 2173.5 L319.0 2173.5 L321.5 2173.5 L324.0 2173.5 L326.5 2173.5 L329.0 2173.5 L331.5 2173.5 L334.0 2173.5 L336.5 2173.5 L339.0 2173.5 L341.5 2173.5 L344.0 2173.5 L346.5 2173.5 L349.0 2173.5 L351.5 2173.5 L354.0 2173.5 L356.5 2173.5 L359.0 2173.5 L361.5 2173.5 L364.0 2173.5 L366.5 2173.5 L369.0 2173.5 L371.5 2173.5 L374.0 2173.5 L376.5 2173.5 L379.0 2173.5 L381.5 2173.5 L384.0 2173.5 L386.5 2173.5 L389.0 2173.5 L391.5 2173.5 L394.0 2173.5 L396.5 2173.5 L399.0 2173.5 L401.5 2173.5 L404.0 2173.5 L406.5 2173.5 L409.0 2173.5 L411.5 2173.5 L414.0 2173.5 L416.5 2173.5 L419.0 2173.5 L421.5 2173.5 L424.0 2173.5 L426.5 2173.5 L429.0 2173.5 L431.5 2173.5 L434.0 2173.5 L436.5 2173.5 L439.0 2173.5 L441.5 2173.5 L444.0 2173.5 L446.5 2173.5 L449.0 2173.5 L451.5 2173.5 L454.0 2173.5 L456.5 2173.5 L459.0 2173.5 L461.5 2173.5 L464.0 2173.5 L466.5 2173.5 L469.0 2173.4 L471.5 2173.4 L474.0 2173.4 L476.5 2173.4 L479.0 2173.4 L481.5 2173.4 L484.0 2173.4 L486.5 2173.3 L489.0 2173.3 L491.5 2173.3 L494.0 2173.2 L496.5 2173.2 L499.0 2173.1 L501.5 2173.1 L504.0 2173.0 L506.5 2172.9 L509.0 2172.8 L511.5 2172.7 L514.0 2172.5 L516.5 2172.4 L519.0 2172.2 L521.5 2172.0 L524.0 2171.8 L526.5 2171.5 L529.0 2171.2 L531.5 2170.9 L534.0 2170.5 L536.5 2170.1 L539.0 2169.6 L541.5 2169.1 L544.0 2168.5 L546.5 2167.9 L549.0 2167.1 L551.5 2166.3 L554.0 2165.4 L556.5 2164.3 L559.0 2163.2 L561.5 2162.0 L564.0 2160.6 L566.5 2159.1 L569.0 2157.4 L571.5 2155.6 L574.0 2153.6 L576.5 2151.4 L579.0 2149.0 L581.5 2146.4 L584.0 2143.6 L586.5 2140.6 L589.0 2137.3 L591.5 2133.8 L594.0 2130.0 L596.5 2125.9 L599.0 2121.6 L601.5 2116.9 L604.0 2111.9 L606.5 2106.7 L609.0 2101.1 L611.5 2095.1 L614.0 2088.8 L616.5 2082.2 L619.0 2075.3 L621.5 2068.0 L624.0 2060.4 L626.5 2052.4 L629.0 2044.1 L631.5 2035.5 L634.0 2026.6 L636.5 2017.4 L639.0 2007.9 L641.5 1998.2 L644.0 1988.2 L646.5 1978.0 L649.0 1967.6 L651.5 1957.0 L654.0 1946.3 L656.5 1935.5 L659.0 1924.6 L661.5 1913.7 L664.0 1902.8 L666.5 1892.0 L669.0 1881.2 L671.5 1870.6 L674.0 1860.2 L676.5 1849.9 L679.0 1840.0 L681.5 1830.3 L684.0 1821.0 L686.5 1812.1 L689.0 1803.7 L691.5 1795.7 L694.0 1788.2 L696.5 1781.3 L699.0 1775.0 L701.5 1769.3 L704.0 1764.3 L706.5 1760.0 L709.0 1756.3 L711.5 1753.4 L714.0 1751.2 L716.5 1749.7 L719.0 1749.1 L721.5 1749.1 L724.0 1750.0 L726.5 1751.6 L729.0 1753.9 L731.5 1757.0 L734.0 1760.8 L736.5 1765.3 L739.0 1770.4 L741.5 1776.2 L744.0 1782.7 L746.5 1789.7 L749.0 1797.3 L751.5 1805.3 L754.0 1813.9 L756.5 1822.9 L759.0 1832.2 L761.5 1842.0 L764.0 1852.0 L766.5 1862.2 L769.0 1872.7 L771.5 1883.4 L774.0 1894.2 L776.5 1905.0 L779.0 1915.9 L781.5 1926.8 L784.0 1937.7 L786.5 1948.5 L789.0 1959.1 L791.5 1969.7 L794.0 1980.0 L796.5 1990.2 L799.0 2000.1 L801.5 2009.8 L804.0 2019.3 L806.5 2028.4 L809.0 2037.3 L811.5 2045.8 L814.0 2054.0 L816.5 2061.9 L819.0 2069.5 L821.5 2076.7 L824.0 2083.6 L826.5 2090.1 L829.0 2096.3 L831.5 2102.2 L834.0 2107.7 L836.5 2113.0 L839.0 2117.9 L841.5 2122.5 L844.0 2126.8 L846.5 2130.8 L849.0 2134.5 L851.5 2138.0 L854.0 2141.2 L856.5 2144.2 L859.0 2147.0 L861.5 2149.5 L864.0 2151.8 L866.5 2154.0 L869.0 2156.0 L871.5 2157.7 L874.0 2159.4 L876.5 2160.9 L879.0 2162.2 L881.5 2163.4 L884.0 2164.6 L886.5 2165.6 L889.0 2166.5 L891.5 2167.3 L894.0 2168.0 L896.5 2168.6 L899.0 2169.2 L901.5 2169.7 L904.0 2170.2 L906.5 2170.6 L909.0 2171.0 L911.5 2171.3 L914.0 2171.6 L916.5 2171.8 L919.0 2172.1 L921.5 2172.2 L924.0 2172.4 L926.5 2172.6 L929.0 2172.7 L931.5 2172.8 L934.0 2172.9 L936.5 2173.0 L939.0 2173.1 L941.5 2173.1 L944.0 2173.2 L946.5 2173.2 L949.0 2173.3 L951.5 2173.3 L954.0 2173.3 L956.5 2173.4 L959.0 2173.4 L961.5 2173.4 L964.0 2173.4 L966.5 2173.4 L969.0 2173.4 L971.5 2173.5 L974.0 2173.5 L976.5 2173.5 L979.0 2173.5 L981.5 2173.5 L984.0 2173.5 L986.5 2173.5 L989.0 2173.5 L991.5 2173.5 L994.0 2173.5 L996.5 2173.5 L999.0 2173.5 L1001.5 2173.5 L1004.0 2173.5 L1006.5 2173.5 L1009.0 2173.5 L1011.5 2173.5 L1014.0 2173.5 L1016.5 2173.5 L1019.0 2173.5 L1021.5 2173.5 L1024.0 2173.5 L1026.5 2173.5 L1029.0 2173.5 L1031.5 2173.5 L1034.0 2173.5 L1036.5 2173.5 L1039.0 2173.5 L1041.5 2173.5 L1044.0 2173.5 L1046.5 2173.5 L1049.0 2173.5 L1051.5 2173.5 L1054.0 2173.5 L1056.5 2173.5 L1059.0 2173.5 L1061.5 2173.5 L1064.0 2173.5 L1066.5 2173.5 L1069.0 2173.5 L1071.5 2173.5 L1074.0 2173.5 L1076.5 2173.5 L1079.0 2173.5 L1081.5 2173.5 L1084.0 2173.5 L1086.5 2173.5 L1089.0 2173.5 L1091.5 2173.5" fill="none" stroke="#0000ff" stroke-width="6.5" stroke-linejoin="round"/>
<path d="M101.5 2173.1 L104.0 2173.1 L106.5 2173.1 L109.0 2173.1 L111.5 2173.1 L114.0 2173.1 L116.5 2173.1 L119.0 2173.1 L121.5 2173.1 L124.0 2173.1 L126.5 2173.1 L129.0 2173.1 L131.5 2173.1 L134.0 2173.1 L136.5 2173.1 L139.0 2173.1 L141.5 2173.1 L144.0 2173.1 L146.5 2173.1 L149.0 2173.1 L151.5 2173.1 L154.0 2173.1 L156.5 2173.1 L159.0 2173.0 L161.5 2173.0 L164.0 2173.0 L166.5 2173.0 L169.0 2173.0 L171.5 2173.0 L174.0 2173.0 L176.5 2173.0 L179.0 2173.0 L181.5 2173.0 L184.0 2173.0 L186.5 2173.0 L189.0 2173.0 L191.5 2173.0 L194.0 2173.0 L196.5 2173.0 L199.0 2173.0 L201.5 2173.0 L204.0 2173.0 L206.5 2173.0 L209.0 2173.0 L211.5 2173.0 L214.0 2173.0 L216.5 2173.0 L219.0 2173.0 L221.5 2173.0 L224.0 2172.9 L226.5 2172.9 L229.0 2172.9 L231.5 2172.9 L234.0 2172.9 L236.5 2172.9 L239.0 2172.9 L241.5 2172.9 L244.0 2172.9 L246.5 2172.9 L249.0 2172.9 L251.5 2172.9 L254.0 2172.9 L256.5 2172.9 L259.0 2172.9 L261.5 2172.9 L264.0 2172.9 L266.5 2172.9 L269.0 2172.9 L271.5 2172.8 L274.0 2172.8 L276.5 2172.8 L279.0 2172.8 L281.5 2172.8 L284.0 2172.8 L286.5 2172.8 L289.0 2172.8 L291.5 2172.8 L294.0 2172.8 L296.5 2172.8 L299.0 2172.8 L301.5 2172.8 L304.0 2172.8 L306.5 2172.8 L309.0 2172.8 L311.5 2172.7 L314.0 2172.7 L316.5 2172.7 L319.0 2172.7 L321.5 2172.7 L324.0 2172.7 L326.5 2172.7 L329.0 2172.7 L331.5 2172.7 L334.0 2172.7 L336.5 2172.7 L339.0 2172.7 L341.5 2172.7 L344.0 2172.6 L346.5 2172.6 L349.0 2172.6 L351.5 2172.6 L354.0 2172.6 L356.5 2172.6 L359.0 2172.6 L361.5 2172.6 L364.0 2172.6 L366.5 2172.6 L369.0 2172.6 L371.5 2172.5 L374.0 2172.5 L376.5 2172.5 L379.0 2172.5 L381.5 2172.5 L384.0 2172.5 L386.5 2172.5 L389.0 2172.5 L391.5 2172.5 L394.0 2172.4 L396.5 2172.4 L399.0 2172.4 L401.5 2172.4 L404.0 2172.4 L406.5 2172.4 L409.0 2172.4 L411.5 2172.4 L414.0 2172.3 L416.5 2172.3 L419.0 2172.3 L421.5 2172.3 L424.0 2172.3 L426.5 2172.3 L429.0 2172.3 L431.5 2172.2 L434.0 2172.2 L436.5 2172.2 L439.0 2172.2 L441.5 2172.2 L444.0 2172.2 L446.5 2172.1 L449.0 2172.1 L451.5 2172.1 L454.0 2172.1 L456.5 2172.1 L459.0 2172.0 L461.5 2172.0 L464.0 2172.0 L466.5 2172.0 L469.0 2172.0 L471.5 2171.9 L474.0 2171.9 L476.5 2171.9 L479.0 2171.9 L481.5 2171.9 L484.0 2171.8 L486.5 2171.8 L489.0 2171.8 L491.5 2171.8 L494.0 2171.7 L496.5 2171.7 L499.0 2171.7 L501.5 2171.7 L504.0 2171.6 L506.5 2171.6 L509.0 2171.6 L511.5 2171.5 L514.0 2171.5 L516.5 2171.5 L519.0 2171.5 L521.5 2171.4 L524.0 2171.4 L526.5 2171.4 L529.0 2171.3 L531.5 2171.3 L534.0 2171.2 L536.5 2171.2 L539.0 2171.2 L541.5 2171.1 L544.0 2171.1 L546.5 2171.0 L549.0 2171.0 L551.5 2171.0 L554.0 2170.9 L556.5 2170.9 L559.0 2170.8 L561.5 2170.8 L564.0 2170.7 L566.5 2170.7 L569.0 2170.6 L571.5 2170.6 L574.0 2170.5 L576.5 2170.5 L579.0 2170.4 L581.5 2170.3 L584.0 2170.3 L586.5 2170.2 L589.0 2170.2 L591.5 2170.1 L594.0 2170.0 L596.5 2169.9 L599.0 2169.9 L601.5 2169.8 L604.0 2169.7 L606.5 2169.6 L609.0 2169.6 L611.5 2169.5 L614.0 2169.4 L616.5 2169.3 L619.0 2169.2 L621.5 2169.1 L624.0 2169.0 L626.5 2168.9 L629.0 2168.8 L631.5 2168.7 L634.0 2168.6 L636.5 2168.4 L639.0 2168.3 L641.5 2168.2 L644.0 2168.0 L646.5 2167.9 L649.0 2167.8 L651.5 2167.6 L654.0 2167.5 L656.5 2167.3 L659.0 2167.1 L661.5 2166.9 L664.0 2166.8 L666.5 2166.6 L669.0 2166.4 L671.5 2166.2 L674.0 2165.9 L676.5 2165.7 L679.0 2165.5 L681.5 2165.2 L684.0 2164.9 L686.5 2164.7 L689.0 2164.4 L691.5 2164.0 L694.0 2163.7 L696.5 2163.3 L699.0 2162.9 L701.5 2162.5 L704.0 2162.1 L706.5 2161.6 L709.0 2161.1 L711.5 2160.5 L714.0 2159.9 L716.5 2159.2 L719.0 2158.5 L721.5 2157.7 L724.0 2156.8 L726.5 2155.8 L729.0 2154.7 L731.5 2153.5 L734.0 2152.3 L736.5 2150.8 L739.0 2149.3 L741.5 2147.5 L744.0 2145.7 L746.5 2143.6 L749.0 2141.3 L751.5 2138.9 L754.0 2136.2 L756.5 2133.3 L759.0 2130.1 L761.5 2126.7 L764.0 2123.0 L766.5 2119.0 L769.0 2114.8 L771.5 2110.3 L774.0 2105.5 L776.5 2100.4 L779.0 2095.0 L781.5 2089.3 L784.0 2083.4 L786.5 2077.3 L789.0 2070.9 L791.5 2064.3 L794.0 2057.5 L796.5 2050.7 L799.0 2043.7 L801.5 2036.7 L804.0 2029.7 L806.5 2022.8 L809.0 2016.1 L811.5 2009.7 L814.0 2003.6 L816.5 1997.9 L819.0 1992.8 L821.5 1988.4 L824.0 1984.6 L826.5 1981.7 L829.0 1979.7 L831.5 1978.7 L834.0 1978.6 L836.5 1979.5 L839.0 1981.3 L841.5 1984.0 L844.0 1987.6 L846.5 1991.9 L849.0 1996.9 L851.5 2002.4 L854.0 2008.4 L856.5 2014.8 L859.0 2021.5 L861.5 2028.3 L864.0 2035.3 L866.5 2042.3 L869.0 2049.3 L871.5 2056.2 L874.0 2062.9 L876.5 2069.6 L879.0 2076.0 L881.5 2082.2 L884.0 2088.2 L886.5 2093.9 L889.0 2099.3 L891.5 2104.5 L894.0 2109.3 L896.5 2113.9 L899.0 2118.2 L901.5 2122.2 L904.0 2126.0 L906.5 2129.4 L909.0 2132.7 L911.5 2135.6 L914.0 2138.4 L916.5 2140.9 L919.0 2143.2 L921.5 2145.3 L924.0 2147.2 L926.5 2148.9 L929.0 2150.5 L931.5 2152.0 L934.0 2153.3 L936.5 2154.5 L939.0 2155.6 L941.5 2156.6 L944.0 2157.5 L946.5 2158.3 L949.0 2159.1 L951.5 2159.8 L954.0 2160.4 L956.5 2161.0 L959.0 2161.5 L961.5 2162.0 L964.0 2162.4 L966.5 2162.9 L969.0 2163.3 L971.5 2163.6 L974.0 2164.0 L976.5 2164.3 L979.0 2164.6 L981.5 2164.9 L984.0 2165.2 L986.5 2165.4 L989.0 2165.7 L991.5 2165.9 L994.0 2166.1 L996.5 2166.3 L999.0 2166.5 L1001.5 2166.7 L1004.0 2166.9 L1006.5 2167.1 L1009.0 2167.3 L1011.5 2167.4 L1014.0 2167.6 L1016.5 2167.7 L1019.0 2167.9 L1021.5 2168.0 L1024.0 2168.2 L1026.5 2168.3 L1029.0 2168.4 L1031.5 2168.5 L1034.0 2168.6 L1036.5 2168.8 L1039.0 2168.9 L1041.5 2169.0 L1044.0 2169.1 L1046.5 2169.2 L1049.0 2169.3 L1051.5 2169.4 L1054.0 2169.5 L1056.5 2169.5 L1059.0 2169.6 L1061.5 2169.7 L1064.0 2169.8 L1066.5 2169.9 L1069.0 2169.9 L1071.5 2170.0 L1074.0 2170.1 L1076.5 2170.1 L1079.0 2170.2 L1081.5 2170.3 L1084.0 2170.3 L1086.5 2170.4 L1089.0 2170.5 L1091.5 2170.5" fill="none" stroke="#ff0000" stroke-width="7.0" stroke-linejoin="round"/>
<path d="M101.5 2173.5 L104.0 2173.5 L106.5 2173.5 L109.0 2173.5 L111.5 2173.5 L114.0 2173.5 L116.5 2173.5 L119.0 2173.5 L121.5 2173.5 L124.0 2173.5 L126.5 2173.5 L129.0 2173.5 L131.5 2173.5 L134.0 2173.5 L136.5 2173.5 L139.0 2173.5 L141.5 2173.5 L144.0 2173.5 L146.5 2173.5 L149.0 2173.5 L151.5 2173.5 L154.0 2173.5 L156.5 2173.5 L159.0 2173.5 L161.5 2173.5 L164.0 2173.5 L166.5 2173.5 L169.0 2173.5 L171.5 2173.5 L174.0 2173.5 L176.5 2173.5 L179.0 2173.5 L181.5 2173.5 L184.0 2173.5 L186.5 2173.5 L189.0 2173.5 L191.5 2173.5 L194.0 2173.5 L196.5 2173.5 L199.0 2173.5 L201.5 2173.5 L204.0 2173.5 L206.5 2173.5 L209.0 2173.5 L211.5 2173.5 L214.0 2173.5 L216.5 2173.5 L219.0 2173.5 L221.5 2173.5 L224.0 2173.5 L226.5 2173.5 L229.0 2173.5 L231.5 2173.5 L234.0 2173.5 L236.5 2173.5 L239.0 2173.5 L241.5 2173.5 L244.0 2173.5 L246.5 2173.5 L249.0 2173.5 L251.5 2173.5 L254.0 2173.5 L256.5 2173.5 L259.0 2173.5 L261.5 2173.5 L264.0 2173.5 L266.5 2173.5 L269.0 2173.5 L271.5 2173.5 L274.0 2173.5 L276.5 2173.5 L279.0 2173.5 L281.5 2173.5 L284.0 2173.5 L286.5 2173.5 L289.0 2173.5 L291.5 2173.5 L294.0 2173.5 L296.5 2173.5 L299.0 2173.5 L301.5 2173.5 L304.0 2173.5 L306.5 2173.5 L309.0 2173.5 L311.5 2173.5 L314.0 2173.5 L316.5 2173.5 L319.0 2173.5 L321.5 2173.5 L324.0 2173.5 L326.5 2173.5 L329.0 2173.5 L331.5 2173.5 L334.0 2173.5 L336.5 2173.5 L339.0 2173.5 L341.5 2173.5 L344.0 2173.5 L346.5 2173.5 L349.0 2173.5 L351.5 2173.5 L354.0 2173.5 L356.5 2173.5 L359.0 2173.5 L361.5 2173.5 L364.0 2173.5 L366.5 2173.5 L369.0 2173.5 L371.5 2173.5 L374.0 2173.5 L376.5 2173.5 L379.0 2173.5 L381.5 2173.5 L384.0 2173.5 L386.5 2173.5 L389.0 2173.5 L391.5 2173.5 L394.0 2173.5 L396.5 2173.5 L399.0 2173.5 L401.5 2173.5 L404.0 2173.5 L406.5 2173.5 L409.0 2173.5 L411.5 2173.5 L414.0 2173.5 L416.5 2173.5 L419.0 2173.5 L421.5 2173.5 L424.0 2173.5 L426.5 2173.5 L429.0 2173.5 L431.5 2173.5 L434.0 2173.5 L436.5 2173.5 L439.0 2173.5 L441.5 2173.5 L444.0 2173.5 L446.5 2173.5 L449.0 2173.5 L451.5 2173.5 L454.0 2173.5 L456.5 2173.5 L459.0 2173.5 L461.5 2173.5 L464.0 2173.5 L466.5 2173.5 L469.0 2173.5 L471.5 2173.5 L474.0 2173.5 L476.5 2173.5 L479.0 2173.5 L481.5 2173.5 L484.0 2173.5 L486.5 2173.5 L489.0 2173.5 L491.5 2173.5 L494.0 2173.5 L496.5 2173.5 L499.0 2173.5 L501.5 2173.5 L504.0 2173.5 L506.5 2173.5 L509.0 2173.5 L511.5 2173.5 L514.0 2173.5 L516.5 2173.5 L519.0 2173.5 L521.5 2173.5 L524.0 2173.5 L526.5 2173.5 L529.0 2173.5 L531.5 2173.5 L534.0 2173.5 L536.5 2173.5 L539.0 2173.5 L541.5 2173.5 L544.0 2173.5 L546.5 2173.5 L549.0 2173.5 L551.5 2173.5 L554.0 2173.5 L556.5 2173.5 L559.0 2173.5 L561.5 2173.5 L564.0 2173.5 L566.5 2173.5 L569.0 2173.5 L571.5 2173.5 L574.0 2173.5 L576.5 2173.5 L579.0 2173.5 L581.5 2173.5 L584.0 2173.5 L586.5 2173.5 L589.0 2173.5 L591.5 2173.5 L594.0 2173.5 L596.5 2173.5 L599.0 2173.5 L601.5 2173.5 L604.0 2173.5 L606.5 2173.5 L609.0 2173.5 L611.5 2173.5 L614.0 2173.5 L616.5 2173.5 L619.0 2173.5 L621.5 2173.5 L624.0 2173.5 L626.5 2173.5 L629.0 2173.5 L631.5 2173.5 L634.0 2173.5 L636.5 2173.5 L639.0 2173.5 L641.5 2173.5 L644.0 2173.5 L646.5 2173.5 L649.0 2173.5 L651.5 2173.5 L654.0 2173.5 L656.5 2173.5 L659.0 2173.5 L661.5 2173.5 L664.0 2173.5 L666.5 2173.5 L669.0 2173.5 L671.5 2173.5 L674.0 2173.5 L676.5 2173.5 L679.0 2173.5 L681.5 2173.5 L684.0 2173.5 L686.5 2173.5 L689.0 2173.5 L691.5 2173.5 L694.0 2173.5 L696.5 2173.5 L699.0 2173.5 L701.5 2173.5 L704.0 2173.5 L706.5 2173.5 L709.0 2173.5 L711.5 2173.5 L714.0 2173.5 L716.5 2173.5 L719.0 2173.5 L721.5 2173.5 L724.0 2173.4 L726.5 2173.4 L729.0 2173.4 L731.5 2173.4 L734.0 2173.4 L736.5 2173.3 L739.0 2173.3 L741.5 2173.2 L744.0 2173.2 L746.5 2173.1 L749.0 2173.0 L751.5 2173.0 L754.0 2172.8 L756.5 2172.7 L759.0 2172.6 L761.5 2172.4 L764.0 2172.2 L766.5 2172.0 L769.0 2171.7 L771.5 2171.4 L774.0 2171.0 L776.5 2170.6 L779.0 2170.2 L781.5 2169.6 L784.0 2169.0 L786.5 2168.4 L789.0 2167.6 L791.5 2166.8 L794.0 2165.8 L796.5 2164.8 L799.0 2163.6 L801.5 2162.4 L804.0 2161.0 L806.5 2159.4 L809.0 2157.8 L811.5 2156.0 L814.0 2154.0 L816.5 2151.9 L819.0 2149.6 L821.5 2147.2 L824.0 2144.6 L826.5 2141.9 L829.0 2139.0 L831.5 2136.0 L834.0 2132.8 L836.5 2129.5 L839.0 2126.1 L841.5 2122.6 L844.0 2119.0 L846.5 2115.3 L849.0 2111.5 L851.5 2107.7 L854.0 2103.9 L856.5 2100.1 L859.0 2096.3 L861.5 2092.5 L864.0 2088.9 L866.5 2085.3 L869.0 2081.9 L871.5 2078.7 L874.0 2075.6 L876.5 2072.8 L879.0 2070.2 L881.5 2067.8 L884.0 2065.7 L886.5 2064.0 L889.0 2062.5 L891.5 2061.4 L894.0 2060.6 L896.5 2060.1 L899.0 2060.0 L901.5 2060.3 L904.0 2060.8 L906.5 2061.8 L909.0 2063.0 L911.5 2064.6 L914.0 2066.5 L916.5 2068.7 L919.0 2071.2 L921.5 2073.9 L924.0 2076.8 L926.5 2080.0 L929.0 2083.3 L931.5 2086.7 L934.0 2090.3 L936.5 2094.0 L939.0 2097.8 L941.5 2101.6 L944.0 2105.4 L946.5 2109.2 L949.0 2113.0 L951.5 2116.8 L954.0 2120.4 L956.5 2124.0 L959.0 2127.5 L961.5 2130.9 L964.0 2134.1 L966.5 2137.2 L969.0 2140.2 L971.5 2143.0 L974.0 2145.7 L976.5 2148.2 L979.0 2150.6 L981.5 2152.8 L984.0 2154.8 L986.5 2156.7 L989.0 2158.5 L991.5 2160.1 L994.0 2161.5 L996.5 2162.9 L999.0 2164.1 L1001.5 2165.2 L1004.0 2166.2 L1006.5 2167.1 L1009.0 2167.9 L1011.5 2168.6 L1014.0 2169.3 L1016.5 2169.8 L1019.0 2170.3 L1021.5 2170.8 L1024.0 2171.2 L1026.5 2171.5 L1029.0 2171.8 L1031.5 2172.1 L1034.0 2172.3 L1036.5 2172.5 L1039.0 2172.6 L1041.5 2172.8 L1044.0 2172.9 L1046.5 2173.0 L1049.0 2173.1 L1051.5 2173.1 L1054.0 2173.2 L1056.5 2173.3 L1059.0 2173.3 L1061.5 2173.3 L1064.0 2173.4 L1066.5 2173.4 L1069.0 2173.4 L1071.5 2173.4 L1074.0 2173.4 L1076.5 2173.5 L1079.0 2173.5 L1081.5 2173.5 L1084.0 2173.5 L1086.5 2173.5 L1089.0 2173.5 L1091.5 2173.5" fill="none" stroke="#00ff00" stroke-width="7.2" stroke-linejoin="round"/>
<g fill="#000"><circle cx="1093.0" cy="2172.5" r="10.5"/><circle cx="1087.3" cy="2172.0" r="10.5"/><circle cx="1081.7" cy="2171.4" r="10.5"/><circle cx="1076.0" cy="2170.9" r="10.5"/><circle cx="1070.3" cy="2170.3" r="10.5"/><circle cx="1064.7" cy="2169.8" r="10.5"/><circle cx="1059.0" cy="2169.2" r="10.5"/><circle cx="1053.3" cy="2168.5" r="10.5"/><circle cx="1047.7" cy="2167.9" r="10.5"/><circle cx="1042.0" cy="2167.1" r="10.5"/><circle cx="1036.3" cy="2166.3" r="10.5"/><circle cx="1030.7" cy="2165.3" r="10.5"/><circle cx="1025.0" cy="2164.2" r="10.5"/><circle cx="1019.3" cy="2162.7" r="10.5"/><circle cx="1013.7" cy="2160.9" r="10.5"/><circle cx="1008.0" cy="2158.6" r="10.5"/><circle cx="1002.3" cy="2155.7" r="10.5"/><circle cx="996.7" cy="2152.1" r="10.5"/><circle cx="991.0" cy="2147.8" r="10.5"/><circle cx="979.7" cy="2136.2" r="10.5"/><circle cx="968.4" cy="2120.7" r="10.5"/><circle cx="957.0" cy="2102.0" r="10.5"/><circle cx="945.7" cy="2080.6" r="10.5"/><circle cx="934.4" cy="2057.4" r="10.5"/><circle cx="923.0" cy="2033.2" r="10.5"/><circle cx="911.7" cy="2008.7" r="10.5"/><circle cx="900.4" cy="1984.6" r="10.5"/><circle cx="889.0" cy="1961.2" r="10.5"/><circle cx="877.7" cy="1937.5" r="10.5"/><circle cx="866.4" cy="1913.4" r="10.5"/><circle cx="855.0" cy="1889.2" r="10.5"/><circle cx="843.7" cy="1867.6" r="10.5"/><circle cx="832.4" cy="1853.6" r="10.5"/><circle cx="821.0" cy="1848.8" r="10.5"/><circle cx="809.7" cy="1847.8" r="10.5"/><circle cx="798.4" cy="1842.9" r="10.5"/><circle cx="787.1" cy="1829.9" r="10.5"/><circle cx="775.7" cy="1809.4" r="10.5"/><circle cx="764.4" cy="1783.9" r="10.5"/><circle cx="753.1" cy="1756.8" r="10.5"/><circle cx="741.7" cy="1732.9" r="10.5"/><circle cx="730.4" cy="1716.5" r="10.5"/><circle cx="719.1" cy="1711.9" r="10.5"/><circle cx="707.7" cy="1721.0" r="10.5"/><circle cx="696.4" cy="1742.1" r="10.5"/><circle cx="685.1" cy="1772.1" r="10.5"/><circle cx="673.7" cy="1807.0" r="10.5"/><circle cx="662.4" cy="1840.7" r="10.5"/><circle cx="651.1" cy="1866.8" r="10.5"/><circle cx="639.7" cy="1881.3" r="10.5"/><circle cx="628.4" cy="1881.0" r="10.5"/><circle cx="617.1" cy="1863.1" r="10.5"/><circle cx="605.7" cy="1828.3" r="10.5"/><circle cx="594.4" cy="1780.4" r="10.5"/><circle cx="583.1" cy="1723.0" r="10.5"/><circle cx="571.8" cy="1660.2" r="10.5"/><circle cx="560.4" cy="1598.8" r="10.5"/><circle cx="549.1" cy="1546.0" r="10.5"/><circle cx="537.8" cy="1506.1" r="10.5"/><circle cx="526.4" cy="1482.4" r="10.5"/><circle cx="515.1" cy="1476.6" r="10.5"/><circle cx="503.8" cy="1487.6" r="10.5"/><circle cx="492.4" cy="1512.2" r="10.5"/><circle cx="481.1" cy="1547.2" r="10.5"/><circle cx="469.8" cy="1588.6" r="10.5"/><circle cx="458.4" cy="1631.9" r="10.5"/><circle cx="447.1" cy="1676.0" r="10.5"/><circle cx="435.8" cy="1720.1" r="10.5"/><circle cx="424.4" cy="1764.6" r="10.5"/><circle cx="413.1" cy="1809.4" r="10.5"/><circle cx="401.8" cy="1853.9" r="10.5"/><circle cx="390.5" cy="1897.3" r="10.5"/><circle cx="379.1" cy="1938.3" r="10.5"/><circle cx="367.8" cy="1976.9" r="10.5"/><circle cx="356.5" cy="2012.8" r="10.5"/><circle cx="345.1" cy="2044.4" r="10.5"/><circle cx="333.8" cy="2071.8" r="10.5"/><circle cx="322.5" cy="2094.9" r="10.5"/><circle cx="311.1" cy="2113.7" r="10.5"/><circle cx="299.8" cy="2128.7" r="10.5"/><circle cx="288.5" cy="2140.1" r="10.5"/><circle cx="282.8" cy="2144.4" r="10.5"/><circle cx="277.1" cy="2148.0" r="10.5"/><circle cx="271.5" cy="2151.1" r="10.5"/><circle cx="265.8" cy="2153.8" r="10.5"/><circle cx="260.1" cy="2156.1" r="10.5"/><circle cx="254.5" cy="2158.0" r="10.5"/><circle cx="248.8" cy="2159.6" r="10.5"/><circle cx="243.1" cy="2160.9" r="10.5"/><circle cx="237.5" cy="2162.1" r="10.5"/><circle cx="231.8" cy="2163.1" r="10.5"/><circle cx="226.1" cy="2164.0" r="10.5"/><circle cx="220.5" cy="2164.8" r="10.5"/><circle cx="214.8" cy="2165.6" r="10.5"/><circle cx="209.1" cy="2166.2" r="10.5"/><circle cx="203.5" cy="2166.8" r="10.5"/><circle cx="197.8" cy="2167.2" r="10.5"/><circle cx="192.2" cy="2167.6" r="10.5"/><circle cx="186.5" cy="2168.0" r="10.5"/><circle cx="180.8" cy="2168.3" r="10.5"/><circle cx="175.2" cy="2168.6" r="10.5"/><circle cx="169.5" cy="2168.8" r="10.5"/><circle cx="163.8" cy="2169.1" r="10.5"/><circle cx="158.2" cy="2169.3" r="10.5"/><circle cx="152.5" cy="2169.5" r="10.5"/><circle cx="146.8" cy="2169.6" r="10.5"/><circle cx="141.2" cy="2169.7" r="10.5"/><circle cx="135.5" cy="2169.8" r="10.5"/><circle cx="129.8" cy="2169.8" r="10.5"/><circle cx="124.2" cy="2169.8" r="10.5"/><circle cx="118.5" cy="2169.8" r="10.5"/><circle cx="112.8" cy="2169.8" r="10.5"/><circle cx="107.2" cy="2169.7" r="10.5"/></g>
<path d="M101.5 2236.7 V1206.7 H1093.0 V2236.7" fill="none" stroke="#000" stroke-width="6.6" stroke-linejoin="miter" stroke-linecap="butt"/>
<path d="M101.5 2200.2 H1093.0" fill="none" stroke="#000" stroke-width="7.0"/>
<path d="M172.3 2200.2 V2219.7 M243.1 2200.2 V2236.7 M314.0 2200.2 V2219.7 M384.8 2200.2 V2236.7 M455.6 2200.2 V2219.7 M526.4 2200.2 V2236.7 M597.2 2200.2 V2219.7 M668.1 2200.2 V2236.7 M738.9 2200.2 V2219.7 M809.7 2200.2 V2236.7 M880.5 2200.2 V2219.7 M951.4 2200.2 V2236.7 M1022.2 2200.2 V2219.7" fill="none" stroke="#000" stroke-width="6.0" stroke-linecap="butt"/>
<text x="100.5" y="2293.5" text-anchor="middle" style="font-family:'Liberation Serif',serif;font-weight:bold;font-size:50.6px;stroke:#000;stroke-width:0.90px;stroke-linejoin:round">3225</text>
<text x="242.1" y="2293.5" text-anchor="middle" style="font-family:'Liberation Serif',serif;font-weight:bold;font-size:50.6px;stroke:#000;stroke-width:0.90px;stroke-linejoin:round">3200</text>
<text x="383.8" y="2293.5" text-anchor="middle" style="font-family:'Liberation Serif',serif;font-weight:bold;font-size:50.6px;stroke:#000;stroke-width:0.90px;stroke-linejoin:round">3175</text>
<text x="525.4" y="2293.5" text-anchor="middle" style="font-family:'Liberation Serif',serif;font-weight:bold;font-size:50.6px;stroke:#000;stroke-width:0.90px;stroke-linejoin:round">3150</text>
<text x="667.1" y="2293.5" text-anchor="middle" style="font-family:'Liberation Serif',serif;font-weight:bold;font-size:50.6px;stroke:#000;stroke-width:0.90px;stroke-linejoin:round">3125</text>
<text x="808.7" y="2293.5" text-anchor="middle" style="font-family:'Liberation Serif',serif;font-weight:bold;font-size:50.6px;stroke:#000;stroke-width:0.90px;stroke-linejoin:round">3100</text>
<text x="950.4" y="2293.5" text-anchor="middle" style="font-family:'Liberation Serif',serif;font-weight:bold;font-size:50.6px;stroke:#000;stroke-width:0.90px;stroke-linejoin:round">3075</text>
<text x="1092.0" y="2293.5" text-anchor="middle" style="font-family:'Liberation Serif',serif;font-weight:bold;font-size:50.6px;stroke:#000;stroke-width:0.90px;stroke-linejoin:round">3050</text>
<text x="597.5" y="2372.0" text-anchor="middle" style="font-family:'Liberation Serif',serif;font-weight:bold;font-size:73.3px;stroke:#000;stroke-width:0.90px;stroke-linejoin:round">Wavenumber (cm<tspan dx="7.5" dy="-22.0" style="font-size:43.5px">-1</tspan><tspan dy="22.0" dx="0.0">)</tspan></text>
<text transform="translate(76.7 1704.1) rotate(-90)" text-anchor="middle" style="font-family:'Liberation Serif',serif;font-weight:bold;font-size:69.0px;stroke:#000;stroke-width:0.90px;stroke-linejoin:round">Absorbance (offset scale)</text>
<text x="126.7" y="1283.4" style="font-family:'Liberation Serif',serif;font-weight:bold;font-size:59.6px;stroke:#000;stroke-width:0.90px;stroke-linejoin:round">(c) [EPrI][TFSI]/PCL</text>
<text x="214.4" y="1347.2" style="font-family:'Liberation Serif',serif;font-weight:bold;font-size:59.6px;stroke:#000;stroke-width:0.90px;stroke-linejoin:round">=20/80</text>
</g>
<g id="panel-d">
<path d="M1323.7 2182.7 L1372.7 2182.7 L1390.0 2172.0 L1410.0 2158.1 L1412.0 2157.8 L1414.0 2157.4 L1416.0 2157.1 L1418.0 2156.7 L1420.0 2156.3 L1422.0 2155.9 L1424.0 2155.4 L1426.0 2155.0 L1428.0 2154.5 L1430.0 2154.0 L1432.0 2153.5 L1434.0 2152.9 L1436.0 2152.4 L1438.0 2151.8 L1440.0 2151.1 L1442.0 2150.4 L1444.0 2149.7 L1446.0 2148.9 L1448.0 2148.1 L1450.0 2147.3 L1452.0 2146.4 L1454.0 2145.5 L1456.0 2144.5 L1458.0 2143.5 L1460.0 2142.4 L1462.0 2141.2 L1464.0 2140.0 L1466.0 2138.7 L1468.0 2137.3 L1470.0 2135.9 L1472.0 2134.3 L1474.0 2132.7 L1476.0 2131.0 L1478.0 2129.2 L1480.0 2127.3 L1482.0 2125.3 L1484.0 2123.2 L1486.0 2121.0 L1488.0 2118.7 L1490.0 2116.3 L1492.0 2113.8 L1494.0 2111.1 L1496.0 2108.3 L1498.0 2105.4 L1500.0 2102.4 L1502.0 2099.2 L1504.0 2095.9 L1506.0 2092.4 L1508.0 2088.8 L1510.0 2085.0 L1512.0 2081.1 L1514.0 2077.0 L1516.0 2072.8 L1518.0 2068.4 L1520.0 2063.9 L1522.0 2059.2 L1524.0 2054.3 L1526.0 2049.2 L1528.0 2044.0 L1530.0 2038.5 L1532.0 2033.0 L1534.0 2027.2 L1536.0 2021.2 L1538.0 2015.1 L1540.0 2008.8 L1542.0 2002.4 L1544.0 1995.8 L1546.0 1989.0 L1548.0 1982.2 L1550.0 1975.2 L1552.0 1968.2 L1554.0 1961.0 L1556.0 1953.8 L1558.0 1946.4 L1560.0 1938.8 L1562.0 1931.1 L1564.0 1923.2 L1566.0 1915.3 L1568.0 1907.3 L1570.0 1899.3 L1572.0 1891.2 L1574.0 1882.9 L1576.0 1874.5 L1578.0 1866.1 L1580.0 1857.6 L1582.0 1849.2 L1584.0 1840.7 L1586.0 1832.4 L1588.0 1824.0 L1590.0 1815.7 L1592.0 1807.4 L1594.0 1799.1 L1596.0 1790.9 L1598.0 1782.7 L1600.0 1774.6 L1602.0 1766.5 L1604.0 1758.5 L1606.0 1750.6 L1608.0 1742.8 L1610.0 1735.0 L1612.0 1727.3 L1614.0 1719.8 L1616.0 1712.3 L1618.0 1705.0 L1620.0 1697.8 L1622.0 1690.6 L1624.0 1683.5 L1626.0 1676.5 L1628.0 1669.5 L1630.0 1662.5 L1632.0 1655.6 L1634.0 1648.7 L1636.0 1641.8 L1638.0 1634.9 L1640.0 1628.1 L1642.0 1621.1 L1644.0 1614.2 L1646.0 1607.2 L1648.0 1600.2 L1650.0 1593.3 L1652.0 1586.3 L1654.0 1579.4 L1656.0 1572.4 L1658.0 1565.5 L1660.0 1558.6 L1662.0 1551.9 L1664.0 1545.2 L1666.0 1538.7 L1668.0 1532.3 L1670.0 1526.0 L1672.0 1520.0 L1674.0 1514.2 L1676.0 1508.6 L1678.0 1503.3 L1680.0 1498.4 L1682.0 1493.7 L1684.0 1489.4 L1686.0 1485.4 L1688.0 1481.8 L1690.0 1478.7 L1692.0 1476.0 L1694.0 1473.8 L1696.0 1472.2 L1698.0 1471.0 L1700.0 1470.5 L1702.0 1470.4 L1704.0 1471.0 L1706.0 1472.3 L1708.0 1474.2 L1710.0 1476.7 L1712.0 1479.8 L1714.0 1483.6 L1716.0 1487.9 L1718.0 1492.9 L1720.0 1498.5 L1722.0 1504.6 L1724.0 1511.4 L1726.0 1518.7 L1728.0 1526.5 L1730.0 1534.7 L1732.0 1543.5 L1734.0 1552.7 L1736.0 1562.2 L1738.0 1572.1 L1740.0 1582.4 L1742.0 1592.8 L1744.0 1603.5 L1746.0 1614.4 L1748.0 1625.5 L1750.0 1636.7 L1752.0 1648.0 L1754.0 1659.3 L1756.0 1670.7 L1758.0 1682.1 L1760.0 1693.5 L1762.0 1704.7 L1764.0 1715.9 L1766.0 1727.0 L1768.0 1738.0 L1770.0 1748.8 L1772.0 1759.4 L1774.0 1769.7 L1776.0 1779.6 L1778.0 1789.1 L1780.0 1798.3 L1782.0 1807.1 L1784.0 1815.4 L1786.0 1823.3 L1788.0 1830.6 L1790.0 1837.4 L1792.0 1843.8 L1794.0 1849.7 L1796.0 1855.1 L1798.0 1860.1 L1800.0 1864.5 L1802.0 1868.5 L1804.0 1872.0 L1806.0 1875.0 L1808.0 1877.4 L1810.0 1879.3 L1812.0 1880.8 L1814.0 1881.7 L1816.0 1882.1 L1818.0 1882.0 L1820.0 1881.4 L1822.0 1880.2 L1824.0 1878.6 L1826.0 1876.5 L1828.0 1874.0 L1830.0 1871.1 L1832.0 1867.8 L1834.0 1864.1 L1836.0 1860.1 L1838.0 1855.7 L1840.0 1851.1 L1842.0 1846.2 L1844.0 1841.0 L1846.0 1835.6 L1848.0 1830.1 L1850.0 1824.3 L1852.0 1818.5 L1854.0 1812.5 L1856.0 1806.4 L1858.0 1800.3 L1860.0 1794.2 L1862.0 1788.1 L1864.0 1782.0 L1866.0 1776.0 L1868.0 1770.1 L1870.0 1764.4 L1872.0 1758.7 L1874.0 1753.3 L1876.0 1748.1 L1878.0 1743.2 L1880.0 1738.5 L1882.0 1734.1 L1884.0 1730.0 L1886.0 1726.4 L1888.0 1723.2 L1890.0 1720.4 L1892.0 1718.1 L1894.0 1716.2 L1896.0 1714.8 L1898.0 1713.8 L1900.0 1713.3 L1902.0 1713.3 L1904.0 1713.8 L1906.0 1714.7 L1908.0 1716.1 L1910.0 1717.9 L1912.0 1720.1 L1914.0 1722.7 L1916.0 1725.7 L1918.0 1729.0 L1920.0 1732.6 L1922.0 1736.5 L1924.0 1740.6 L1926.0 1745.0 L1928.0 1749.6 L1930.0 1754.4 L1932.0 1759.3 L1934.0 1764.2 L1936.0 1769.3 L1938.0 1774.4 L1940.0 1779.6 L1942.0 1784.7 L1944.0 1789.9 L1946.0 1795.0 L1948.0 1799.9 L1950.0 1804.7 L1952.0 1809.3 L1954.0 1813.8 L1956.0 1818.2 L1958.0 1822.3 L1960.0 1826.3 L1962.0 1830.1 L1964.0 1833.6 L1966.0 1836.9 L1968.0 1839.9 L1970.0 1842.7 L1972.0 1845.2 L1974.0 1847.5 L1976.0 1849.5 L1978.0 1851.2 L1980.0 1852.7 L1982.0 1853.9 L1984.0 1854.8 L1986.0 1855.5 L1988.0 1856.0 L1990.0 1856.3 L1992.0 1856.4 L1994.0 1856.4 L1996.0 1856.3 L1998.0 1856.2 L2000.0 1856.0 L2002.0 1855.8 L2004.0 1855.7 L2006.0 1855.7 L2008.0 1855.8 L2010.0 1856.1 L2012.0 1856.6 L2014.0 1857.4 L2016.0 1858.5 L2018.0 1859.8 L2020.0 1861.4 L2022.0 1863.2 L2024.0 1865.4 L2026.0 1867.8 L2028.0 1870.5 L2030.0 1873.4 L2032.0 1876.6 L2034.0 1880.0 L2036.0 1883.5 L2038.0 1887.1 L2040.0 1890.8 L2042.0 1894.7 L2044.0 1898.6 L2046.0 1902.6 L2048.0 1906.7 L2050.0 1910.7 L2052.0 1914.9 L2054.0 1919.0 L2056.0 1923.1 L2058.0 1927.3 L2060.0 1931.5 L2062.0 1935.7 L2064.0 1939.9 L2066.0 1944.1 L2068.0 1948.3 L2070.0 1952.5 L2072.0 1956.7 L2074.0 1960.9 L2076.0 1965.1 L2078.0 1969.3 L2080.0 1973.5 L2082.0 1977.7 L2084.0 1981.9 L2086.0 1986.2 L2088.0 1990.5 L2090.0 1994.8 L2092.0 1999.2 L2094.0 2003.6 L2096.0 2008.0 L2098.0 2012.5 L2100.0 2016.9 L2102.0 2021.4 L2104.0 2025.9 L2106.0 2030.4 L2108.0 2034.9 L2110.0 2039.5 L2112.0 2044.0 L2114.0 2048.6 L2116.0 2053.2 L2118.0 2057.7 L2120.0 2062.3 L2122.0 2066.7 L2124.0 2071.2 L2126.0 2075.6 L2128.0 2079.9 L2130.0 2084.2 L2132.0 2088.4 L2134.0 2092.5 L2136.0 2096.6 L2138.0 2100.5 L2140.0 2104.3 L2142.0 2108.0 L2144.0 2111.7 L2146.0 2115.2 L2148.0 2118.6 L2150.0 2121.8 L2152.0 2125.0 L2154.0 2128.0 L2156.0 2131.0 L2158.0 2133.8 L2160.0 2136.3 L2162.0 2138.8 L2164.0 2141.0 L2166.0 2143.2 L2168.0 2145.2 L2170.0 2147.0 L2172.0 2148.7 L2174.0 2150.3 L2176.0 2151.6 L2178.0 2152.9 L2180.0 2154.0 L2182.0 2155.0 L2184.0 2156.0 L2186.0 2156.8 L2188.0 2157.6 L2190.0 2158.3 L2192.0 2159.0 L2194.0 2159.7 L2196.0 2160.2 L2198.0 2160.8 L2200.0 2161.2 L2202.0 2161.7 L2204.0 2162.0 L2206.0 2162.4 L2208.0 2162.7 L2210.0 2163.1 L2212.0 2163.4 L2214.0 2163.6 L2216.0 2163.9 L2218.0 2164.2 L2220.0 2164.4 L2222.0 2164.7 L2224.0 2164.9 L2226.0 2165.1 L2228.0 2165.4 L2230.0 2165.6 L2240.0 2180.0 L2262.0 2180.0" fill="none" stroke="#000" stroke-width="6.2" stroke-linejoin="round" stroke-linecap="round"/>
<path d="M1282.7 2172.6 L1285.2 2172.6 L1287.7 2172.5 L1290.2 2172.4 L1292.7 2172.4 L1295.2 2172.3 L1297.7 2172.2 L1300.2 2172.2 L1302.7 2172.1 L1305.2 2172.0 L1307.7 2172.0 L1310.2 2171.9 L1312.7 2171.8 L1315.2 2171.8 L1317.7 2171.7 L1320.2 2171.6 L1322.7 2171.5 L1325.2 2171.4 L1327.7 2171.3 L1330.2 2171.3 L1332.7 2171.2 L1335.2 2171.1 L1337.7 2171.0 L1340.2 2170.9 L1342.7 2170.8 L1345.2 2170.7 L1347.7 2170.6 L1350.2 2170.5 L1352.7 2170.4 L1355.2 2170.2 L1357.7 2170.1 L1360.2 2170.0 L1362.7 2169.9 L1365.2 2169.7 L1367.7 2169.6 L1370.2 2169.4 L1372.7 2169.3 L1375.2 2169.1 L1377.7 2169.0 L1380.2 2168.8 L1382.7 2168.6 L1385.2 2168.5 L1387.7 2168.3 L1390.2 2168.1 L1392.7 2167.9 L1395.2 2167.6 L1397.7 2167.4 L1400.2 2167.2 L1402.7 2166.9 L1405.2 2166.6 L1407.7 2166.3 L1410.2 2166.0 L1412.7 2165.7 L1415.2 2165.3 L1417.7 2164.9 L1420.2 2164.5 L1422.7 2164.1 L1425.2 2163.6 L1427.7 2163.1 L1430.2 2162.6 L1432.7 2162.0 L1435.2 2161.3 L1437.7 2160.7 L1440.2 2159.9 L1442.7 2159.1 L1445.2 2158.3 L1447.7 2157.4 L1450.2 2156.4 L1452.7 2155.3 L1455.2 2154.2 L1457.7 2152.9 L1460.2 2151.6 L1462.7 2150.2 L1465.2 2148.7 L1467.7 2147.0 L1470.2 2145.2 L1472.7 2143.4 L1475.2 2141.3 L1477.7 2139.2 L1480.2 2136.8 L1482.7 2134.4 L1485.2 2131.8 L1487.7 2129.0 L1490.2 2126.0 L1492.7 2122.9 L1495.2 2119.6 L1497.7 2116.0 L1500.2 2112.3 L1502.7 2108.5 L1505.2 2104.4 L1507.7 2100.1 L1510.2 2095.6 L1512.7 2090.9 L1515.2 2086.0 L1517.7 2080.9 L1520.2 2075.5 L1522.7 2070.0 L1525.2 2064.4 L1527.7 2058.5 L1530.2 2052.4 L1532.7 2046.2 L1535.2 2039.8 L1537.7 2033.3 L1540.2 2026.6 L1542.7 2019.8 L1545.2 2012.9 L1547.7 2005.9 L1550.2 1998.8 L1552.7 1991.7 L1555.2 1984.6 L1557.7 1977.5 L1560.2 1970.4 L1562.7 1963.3 L1565.2 1956.3 L1567.7 1949.4 L1570.2 1942.7 L1572.7 1936.1 L1575.2 1929.8 L1577.7 1923.7 L1580.2 1917.9 L1582.7 1912.3 L1585.2 1907.2 L1587.7 1902.4 L1590.2 1898.0 L1592.7 1894.1 L1595.2 1890.7 L1597.7 1887.8 L1600.2 1885.4 L1602.7 1883.5 L1605.2 1882.3 L1607.7 1881.6 L1610.2 1881.5 L1612.7 1882.0 L1615.2 1883.1 L1617.7 1884.8 L1620.2 1887.0 L1622.7 1889.8 L1625.2 1893.1 L1627.7 1896.9 L1630.2 1901.1 L1632.7 1905.8 L1635.2 1910.9 L1637.7 1916.3 L1640.2 1922.0 L1642.7 1928.1 L1645.2 1934.3 L1647.7 1940.8 L1650.2 1947.5 L1652.7 1954.4 L1655.2 1961.3 L1657.7 1968.4 L1660.2 1975.5 L1662.7 1982.6 L1665.2 1989.7 L1667.7 1996.9 L1670.2 2003.9 L1672.7 2010.9 L1675.2 2017.9 L1677.7 2024.7 L1680.2 2031.4 L1682.7 2038.0 L1685.2 2044.4 L1687.7 2050.7 L1690.2 2056.8 L1692.7 2062.7 L1695.2 2068.5 L1697.7 2074.0 L1700.2 2079.4 L1702.7 2084.6 L1705.2 2089.5 L1707.7 2094.3 L1710.2 2098.8 L1712.7 2103.2 L1715.2 2107.3 L1717.7 2111.3 L1720.2 2115.0 L1722.7 2118.6 L1725.2 2122.0 L1727.7 2125.2 L1730.2 2128.2 L1732.7 2131.0 L1735.2 2133.7 L1737.7 2136.2 L1740.2 2138.5 L1742.7 2140.7 L1745.2 2142.8 L1747.7 2144.7 L1750.2 2146.5 L1752.7 2148.2 L1755.2 2149.8 L1757.7 2151.2 L1760.2 2152.6 L1762.7 2153.8 L1765.2 2155.0 L1767.7 2156.1 L1770.2 2157.1 L1772.7 2158.0 L1775.2 2158.9 L1777.7 2159.7 L1780.2 2160.5 L1782.7 2161.2 L1785.2 2161.8 L1787.7 2162.4 L1790.2 2163.0 L1792.7 2163.5 L1795.2 2164.0 L1797.7 2164.4 L1800.2 2164.8 L1802.7 2165.2 L1805.2 2165.6 L1807.7 2165.9 L1810.2 2166.2 L1812.7 2166.5 L1815.2 2166.8 L1817.7 2167.1 L1820.2 2167.3 L1822.7 2167.6 L1825.2 2167.8 L1827.7 2168.0 L1830.2 2168.2 L1832.7 2168.4 L1835.2 2168.6 L1837.7 2168.8 L1840.2 2168.9 L1842.7 2169.1 L1845.2 2169.3 L1847.7 2169.4 L1850.2 2169.6 L1852.7 2169.7 L1855.2 2169.8 L1857.7 2170.0 L1860.2 2170.1 L1862.7 2170.2 L1865.2 2170.3 L1867.7 2170.4 L1870.2 2170.5 L1872.7 2170.7 L1875.2 2170.8 L1877.7 2170.9 L1880.2 2171.0 L1882.7 2171.1 L1885.2 2171.1 L1887.7 2171.2 L1890.2 2171.3 L1892.7 2171.4 L1895.2 2171.5 L1897.7 2171.6 L1900.2 2171.7 L1902.7 2171.7 L1905.2 2171.8 L1907.7 2171.9 L1910.2 2172.0 L1912.7 2172.0 L1915.2 2172.1 L1917.7 2172.2 L1920.2 2172.2 L1922.7 2172.3 L1925.2 2172.4 L1927.7 2172.4 L1930.2 2172.5 L1932.7 2172.5 L1935.2 2172.6 L1937.7 2172.7 L1940.2 2172.7 L1942.7 2172.8 L1945.2 2172.8 L1947.7 2172.9 L1950.2 2172.9 L1952.7 2173.0 L1955.2 2173.0 L1957.7 2173.1 L1960.2 2173.1 L1962.7 2173.2 L1965.2 2173.2 L1967.7 2173.2 L1970.2 2173.3 L1972.7 2173.3 L1975.2 2173.4 L1977.7 2173.4 L1980.2 2173.5 L1982.7 2173.5 L1985.2 2173.5 L1987.7 2173.6 L1990.2 2173.6 L1992.7 2173.6 L1995.2 2173.7 L1997.7 2173.7 L2000.2 2173.8 L2002.7 2173.8 L2005.2 2173.8 L2007.7 2173.8 L2010.2 2173.9 L2012.7 2173.9 L2015.2 2173.9 L2017.7 2174.0 L2020.2 2174.0 L2022.7 2174.0 L2025.2 2174.1 L2027.7 2174.1 L2030.2 2174.1 L2032.7 2174.1 L2035.2 2174.2 L2037.7 2174.2 L2040.2 2174.2 L2042.7 2174.3 L2045.2 2174.3 L2047.7 2174.3 L2050.2 2174.3 L2052.7 2174.3 L2055.2 2174.4 L2057.7 2174.4 L2060.2 2174.4 L2062.7 2174.4 L2065.2 2174.5 L2067.7 2174.5 L2070.2 2174.5 L2072.7 2174.5 L2075.2 2174.5 L2077.7 2174.6 L2080.2 2174.6 L2082.7 2174.6 L2085.2 2174.6 L2087.7 2174.6 L2090.2 2174.7 L2092.7 2174.7 L2095.2 2174.7 L2097.7 2174.7 L2100.2 2174.7 L2102.7 2174.8 L2105.2 2174.8 L2107.7 2174.8 L2110.2 2174.8 L2112.7 2174.8 L2115.2 2174.8 L2117.7 2174.9 L2120.2 2174.9 L2122.7 2174.9 L2125.2 2174.9 L2127.7 2174.9 L2130.2 2174.9 L2132.7 2174.9 L2135.2 2175.0 L2137.7 2175.0 L2140.2 2175.0 L2142.7 2175.0 L2145.2 2175.0 L2147.7 2175.0 L2150.2 2175.0 L2152.7 2175.1 L2155.2 2175.1 L2157.7 2175.1 L2160.2 2175.1 L2162.7 2175.1 L2165.2 2175.1 L2167.7 2175.1 L2170.2 2175.1 L2172.7 2175.2 L2175.2 2175.2 L2177.7 2175.2 L2180.2 2175.2 L2182.7 2175.2 L2185.2 2175.2 L2187.7 2175.2 L2190.2 2175.2 L2192.7 2175.2 L2195.2 2175.3 L2197.7 2175.3 L2200.2 2175.3 L2202.7 2175.3 L2205.2 2175.3 L2207.7 2175.3 L2210.2 2175.3 L2212.7 2175.3 L2215.2 2175.3 L2217.7 2175.3 L2220.2 2175.4 L2222.7 2175.4 L2225.2 2175.4 L2227.7 2175.4 L2230.2 2175.4 L2232.7 2175.4 L2235.2 2175.4 L2237.7 2175.4 L2240.2 2175.4 L2242.7 2175.4 L2245.2 2175.4 L2247.7 2175.4 L2250.2 2175.5 L2252.7 2175.5 L2255.2 2175.5 L2257.7 2175.5 L2260.2 2175.5 L2262.7 2175.5 L2265.2 2175.5 L2267.7 2175.5 L2270.2 2175.5 L2272.7 2175.5" fill="none" stroke="#696969" stroke-width="5.8" stroke-linejoin="round"/>
<path d="M1282.7 2173.9 L1285.2 2173.9 L1287.7 2173.8 L1290.2 2173.8 L1292.7 2173.8 L1295.2 2173.7 L1297.7 2173.7 L1300.2 2173.7 L1302.7 2173.6 L1305.2 2173.6 L1307.7 2173.6 L1310.2 2173.5 L1312.7 2173.5 L1315.2 2173.5 L1317.7 2173.4 L1320.2 2173.4 L1322.7 2173.4 L1325.2 2173.3 L1327.7 2173.3 L1330.2 2173.2 L1332.7 2173.2 L1335.2 2173.1 L1337.7 2173.1 L1340.2 2173.1 L1342.7 2173.0 L1345.2 2173.0 L1347.7 2172.9 L1350.2 2172.9 L1352.7 2172.8 L1355.2 2172.8 L1357.7 2172.7 L1360.2 2172.7 L1362.7 2172.6 L1365.2 2172.6 L1367.7 2172.5 L1370.2 2172.5 L1372.7 2172.4 L1375.2 2172.3 L1377.7 2172.3 L1380.2 2172.2 L1382.7 2172.2 L1385.2 2172.1 L1387.7 2172.0 L1390.2 2172.0 L1392.7 2171.9 L1395.2 2171.8 L1397.7 2171.7 L1400.2 2171.7 L1402.7 2171.6 L1405.2 2171.5 L1407.7 2171.4 L1410.2 2171.4 L1412.7 2171.3 L1415.2 2171.2 L1417.7 2171.1 L1420.2 2171.0 L1422.7 2170.9 L1425.2 2170.8 L1427.7 2170.7 L1430.2 2170.6 L1432.7 2170.5 L1435.2 2170.4 L1437.7 2170.3 L1440.2 2170.2 L1442.7 2170.1 L1445.2 2170.0 L1447.7 2169.9 L1450.2 2169.8 L1452.7 2169.6 L1455.2 2169.5 L1457.7 2169.4 L1460.2 2169.2 L1462.7 2169.1 L1465.2 2168.9 L1467.7 2168.8 L1470.2 2168.6 L1472.7 2168.4 L1475.2 2168.2 L1477.7 2168.1 L1480.2 2167.9 L1482.7 2167.7 L1485.2 2167.4 L1487.7 2167.2 L1490.2 2167.0 L1492.7 2166.7 L1495.2 2166.4 L1497.7 2166.1 L1500.2 2165.8 L1502.7 2165.5 L1505.2 2165.1 L1507.7 2164.7 L1510.2 2164.3 L1512.7 2163.8 L1515.2 2163.3 L1517.7 2162.8 L1520.2 2162.2 L1522.7 2161.5 L1525.2 2160.8 L1527.7 2160.1 L1530.2 2159.2 L1532.7 2158.3 L1535.2 2157.3 L1537.7 2156.2 L1540.2 2155.0 L1542.7 2153.7 L1545.2 2152.3 L1547.7 2150.8 L1550.2 2149.1 L1552.7 2147.2 L1555.2 2145.2 L1557.7 2143.0 L1560.2 2140.6 L1562.7 2138.0 L1565.2 2135.2 L1567.7 2132.2 L1570.2 2128.9 L1572.7 2125.3 L1575.2 2121.5 L1577.7 2117.4 L1580.2 2112.9 L1582.7 2108.1 L1585.2 2103.0 L1587.7 2097.5 L1590.2 2091.6 L1592.7 2085.4 L1595.2 2078.7 L1597.7 2071.6 L1600.2 2064.1 L1602.7 2056.2 L1605.2 2047.8 L1607.7 2039.0 L1610.2 2029.7 L1612.7 2019.9 L1615.2 2009.7 L1617.7 1999.0 L1620.2 1987.9 L1622.7 1976.3 L1625.2 1964.3 L1627.7 1951.9 L1630.2 1939.1 L1632.7 1925.8 L1635.2 1912.3 L1637.7 1898.3 L1640.2 1884.1 L1642.7 1869.6 L1645.2 1854.8 L1647.7 1839.9 L1650.2 1824.8 L1652.7 1809.6 L1655.2 1794.3 L1657.7 1779.0 L1660.2 1763.8 L1662.7 1748.7 L1665.2 1733.7 L1667.7 1719.0 L1670.2 1704.6 L1672.7 1690.5 L1675.2 1676.9 L1677.7 1663.8 L1680.2 1651.2 L1682.7 1639.3 L1685.2 1628.1 L1687.7 1617.7 L1690.2 1608.1 L1692.7 1599.5 L1695.2 1591.8 L1697.7 1585.1 L1700.2 1579.5 L1702.7 1575.0 L1705.2 1571.7 L1707.7 1569.5 L1710.2 1568.6 L1712.7 1568.8 L1715.2 1570.2 L1717.7 1572.8 L1720.2 1576.5 L1722.7 1581.4 L1725.2 1587.4 L1727.7 1594.4 L1730.2 1602.5 L1732.7 1611.5 L1735.2 1621.4 L1737.7 1632.1 L1740.2 1643.5 L1742.7 1655.7 L1745.2 1668.4 L1747.7 1681.7 L1750.2 1695.5 L1752.7 1709.7 L1755.2 1724.3 L1757.7 1739.1 L1760.2 1754.1 L1762.7 1769.3 L1765.2 1784.5 L1767.7 1799.8 L1770.2 1815.0 L1772.7 1830.2 L1775.2 1845.3 L1777.7 1860.2 L1780.2 1874.8 L1782.7 1889.2 L1785.2 1903.4 L1787.7 1917.2 L1790.2 1930.6 L1792.7 1943.7 L1795.2 1956.4 L1797.7 1968.7 L1800.2 1980.6 L1802.7 1992.0 L1805.2 2002.9 L1807.7 2013.4 L1810.2 2023.5 L1812.7 2033.1 L1815.2 2042.2 L1817.7 2050.9 L1820.2 2059.1 L1822.7 2066.9 L1825.2 2074.2 L1827.7 2081.2 L1830.2 2087.7 L1832.7 2093.8 L1835.2 2099.5 L1837.7 2104.9 L1840.2 2109.9 L1842.7 2114.5 L1845.2 2118.9 L1847.7 2122.9 L1850.2 2126.6 L1852.7 2130.1 L1855.2 2133.3 L1857.7 2136.3 L1860.2 2139.0 L1862.7 2141.5 L1865.2 2143.8 L1867.7 2145.9 L1870.2 2147.9 L1872.7 2149.7 L1875.2 2151.3 L1877.7 2152.8 L1880.2 2154.2 L1882.7 2155.5 L1885.2 2156.6 L1887.7 2157.7 L1890.2 2158.6 L1892.7 2159.5 L1895.2 2160.3 L1897.7 2161.1 L1900.2 2161.8 L1902.7 2162.4 L1905.2 2163.0 L1907.7 2163.5 L1910.2 2164.0 L1912.7 2164.4 L1915.2 2164.8 L1917.7 2165.2 L1920.2 2165.6 L1922.7 2165.9 L1925.2 2166.2 L1927.7 2166.5 L1930.2 2166.8 L1932.7 2167.0 L1935.2 2167.3 L1937.7 2167.5 L1940.2 2167.7 L1942.7 2167.9 L1945.2 2168.1 L1947.7 2168.3 L1950.2 2168.5 L1952.7 2168.7 L1955.2 2168.8 L1957.7 2169.0 L1960.2 2169.1 L1962.7 2169.3 L1965.2 2169.4 L1967.7 2169.5 L1970.2 2169.7 L1972.7 2169.8 L1975.2 2169.9 L1977.7 2170.0 L1980.2 2170.2 L1982.7 2170.3 L1985.2 2170.4 L1987.7 2170.5 L1990.2 2170.6 L1992.7 2170.7 L1995.2 2170.8 L1997.7 2170.9 L2000.2 2171.0 L2002.7 2171.1 L2005.2 2171.1 L2007.7 2171.2 L2010.2 2171.3 L2012.7 2171.4 L2015.2 2171.5 L2017.7 2171.5 L2020.2 2171.6 L2022.7 2171.7 L2025.2 2171.8 L2027.7 2171.8 L2030.2 2171.9 L2032.7 2172.0 L2035.2 2172.0 L2037.7 2172.1 L2040.2 2172.2 L2042.7 2172.2 L2045.2 2172.3 L2047.7 2172.4 L2050.2 2172.4 L2052.7 2172.5 L2055.2 2172.5 L2057.7 2172.6 L2060.2 2172.6 L2062.7 2172.7 L2065.2 2172.7 L2067.7 2172.8 L2070.2 2172.8 L2072.7 2172.9 L2075.2 2172.9 L2077.7 2173.0 L2080.2 2173.0 L2082.7 2173.1 L2085.2 2173.1 L2087.7 2173.2 L2090.2 2173.2 L2092.7 2173.2 L2095.2 2173.3 L2097.7 2173.3 L2100.2 2173.4 L2102.7 2173.4 L2105.2 2173.4 L2107.7 2173.5 L2110.2 2173.5 L2112.7 2173.6 L2115.2 2173.6 L2117.7 2173.6 L2120.2 2173.7 L2122.7 2173.7 L2125.2 2173.7 L2127.7 2173.8 L2130.2 2173.8 L2132.7 2173.8 L2135.2 2173.9 L2137.7 2173.9 L2140.2 2173.9 L2142.7 2173.9 L2145.2 2174.0 L2147.7 2174.0 L2150.2 2174.0 L2152.7 2174.1 L2155.2 2174.1 L2157.7 2174.1 L2160.2 2174.1 L2162.7 2174.2 L2165.2 2174.2 L2167.7 2174.2 L2170.2 2174.2 L2172.7 2174.3 L2175.2 2174.3 L2177.7 2174.3 L2180.2 2174.3 L2182.7 2174.3 L2185.2 2174.4 L2187.7 2174.4 L2190.2 2174.4 L2192.7 2174.4 L2195.2 2174.5 L2197.7 2174.5 L2200.2 2174.5 L2202.7 2174.5 L2205.2 2174.5 L2207.7 2174.6 L2210.2 2174.6 L2212.7 2174.6 L2215.2 2174.6 L2217.7 2174.6 L2220.2 2174.6 L2222.7 2174.7 L2225.2 2174.7 L2227.7 2174.7 L2230.2 2174.7 L2232.7 2174.7 L2235.2 2174.7 L2237.7 2174.8 L2240.2 2174.8 L2242.7 2174.8 L2245.2 2174.8 L2247.7 2174.8 L2250.2 2174.8 L2252.7 2174.9 L2255.2 2174.9 L2257.7 2174.9 L2260.2 2174.9 L2262.7 2174.9 L2265.2 2174.9 L2267.7 2174.9 L2270.2 2175.0 L2272.7 2175.0" fill="none" stroke="#663300" stroke-width="6.4" stroke-linejoin="round"/>
<path d="M1282.7 2175.7 L1285.2 2175.7 L1287.7 2175.7 L1290.2 2175.7 L1292.7 2175.7 L1295.2 2175.7 L1297.7 2175.7 L1300.2 2175.7 L1302.7 2175.7 L1305.2 2175.6 L1307.7 2175.6 L1310.2 2175.6 L1312.7 2175.6 L1315.2 2175.6 L1317.7 2175.6 L1320.2 2175.6 L1322.7 2175.6 L1325.2 2175.6 L1327.7 2175.6 L1330.2 2175.6 L1332.7 2175.6 L1335.2 2175.6 L1337.7 2175.5 L1340.2 2175.5 L1342.7 2175.5 L1345.2 2175.5 L1347.7 2175.5 L1350.2 2175.5 L1352.7 2175.5 L1355.2 2175.5 L1357.7 2175.5 L1360.2 2175.5 L1362.7 2175.5 L1365.2 2175.5 L1367.7 2175.4 L1370.2 2175.4 L1372.7 2175.4 L1375.2 2175.4 L1377.7 2175.4 L1380.2 2175.4 L1382.7 2175.4 L1385.2 2175.4 L1387.7 2175.4 L1390.2 2175.3 L1392.7 2175.3 L1395.2 2175.3 L1397.7 2175.3 L1400.2 2175.3 L1402.7 2175.3 L1405.2 2175.3 L1407.7 2175.3 L1410.2 2175.3 L1412.7 2175.2 L1415.2 2175.2 L1417.7 2175.2 L1420.2 2175.2 L1422.7 2175.2 L1425.2 2175.2 L1427.7 2175.2 L1430.2 2175.1 L1432.7 2175.1 L1435.2 2175.1 L1437.7 2175.1 L1440.2 2175.1 L1442.7 2175.1 L1445.2 2175.1 L1447.7 2175.0 L1450.2 2175.0 L1452.7 2175.0 L1455.2 2175.0 L1457.7 2175.0 L1460.2 2175.0 L1462.7 2174.9 L1465.2 2174.9 L1467.7 2174.9 L1470.2 2174.9 L1472.7 2174.9 L1475.2 2174.9 L1477.7 2174.8 L1480.2 2174.8 L1482.7 2174.8 L1485.2 2174.8 L1487.7 2174.8 L1490.2 2174.7 L1492.7 2174.7 L1495.2 2174.7 L1497.7 2174.7 L1500.2 2174.6 L1502.7 2174.6 L1505.2 2174.6 L1507.7 2174.6 L1510.2 2174.6 L1512.7 2174.5 L1515.2 2174.5 L1517.7 2174.5 L1520.2 2174.5 L1522.7 2174.4 L1525.2 2174.4 L1527.7 2174.4 L1530.2 2174.3 L1532.7 2174.3 L1535.2 2174.3 L1537.7 2174.3 L1540.2 2174.2 L1542.7 2174.2 L1545.2 2174.2 L1547.7 2174.1 L1550.2 2174.1 L1552.7 2174.1 L1555.2 2174.0 L1557.7 2174.0 L1560.2 2174.0 L1562.7 2173.9 L1565.2 2173.9 L1567.7 2173.9 L1570.2 2173.8 L1572.7 2173.8 L1575.2 2173.7 L1577.7 2173.7 L1580.2 2173.7 L1582.7 2173.6 L1585.2 2173.6 L1587.7 2173.5 L1590.2 2173.5 L1592.7 2173.4 L1595.2 2173.4 L1597.7 2173.3 L1600.2 2173.3 L1602.7 2173.2 L1605.2 2173.2 L1607.7 2173.1 L1610.2 2173.1 L1612.7 2173.0 L1615.2 2173.0 L1617.7 2172.9 L1620.2 2172.8 L1622.7 2172.8 L1625.2 2172.7 L1627.7 2172.6 L1630.2 2172.6 L1632.7 2172.5 L1635.2 2172.4 L1637.7 2172.3 L1640.2 2172.3 L1642.7 2172.2 L1645.2 2172.1 L1647.7 2172.0 L1650.2 2171.9 L1652.7 2171.8 L1655.2 2171.7 L1657.7 2171.6 L1660.2 2171.5 L1662.7 2171.4 L1665.2 2171.3 L1667.7 2171.2 L1670.2 2171.1 L1672.7 2170.9 L1675.2 2170.8 L1677.7 2170.6 L1680.2 2170.5 L1682.7 2170.3 L1685.2 2170.1 L1687.7 2169.9 L1690.2 2169.7 L1692.7 2169.5 L1695.2 2169.2 L1697.7 2168.9 L1700.2 2168.6 L1702.7 2168.3 L1705.2 2168.0 L1707.7 2167.6 L1710.2 2167.2 L1712.7 2166.7 L1715.2 2166.3 L1717.7 2165.7 L1720.2 2165.1 L1722.7 2164.5 L1725.2 2163.8 L1727.7 2163.0 L1730.2 2162.2 L1732.7 2161.2 L1735.2 2160.2 L1737.7 2159.1 L1740.2 2157.9 L1742.7 2156.6 L1745.2 2155.1 L1747.7 2153.6 L1750.2 2151.9 L1752.7 2150.0 L1755.2 2148.0 L1757.7 2145.8 L1760.2 2143.4 L1762.7 2140.9 L1765.2 2138.1 L1767.7 2135.1 L1770.2 2131.9 L1772.7 2128.5 L1775.2 2124.8 L1777.7 2120.9 L1780.2 2116.6 L1782.7 2112.2 L1785.2 2107.4 L1787.7 2102.3 L1790.2 2096.9 L1792.7 2091.2 L1795.2 2085.2 L1797.7 2078.9 L1800.2 2072.2 L1802.7 2065.2 L1805.2 2057.9 L1807.7 2050.3 L1810.2 2042.3 L1812.7 2034.1 L1815.2 2025.5 L1817.7 2016.6 L1820.2 2007.5 L1822.7 1998.1 L1825.2 1988.4 L1827.7 1978.5 L1830.2 1968.4 L1832.7 1958.1 L1835.2 1947.7 L1837.7 1937.1 L1840.2 1926.4 L1842.7 1915.6 L1845.2 1904.9 L1847.7 1894.1 L1850.2 1883.4 L1852.7 1872.8 L1855.2 1862.3 L1857.7 1851.9 L1860.2 1841.8 L1862.7 1832.0 L1865.2 1822.5 L1867.7 1813.4 L1870.2 1804.6 L1872.7 1796.4 L1875.2 1788.6 L1877.7 1781.4 L1880.2 1774.8 L1882.7 1768.9 L1885.2 1763.6 L1887.7 1759.1 L1890.2 1755.3 L1892.7 1752.2 L1895.2 1750.0 L1897.7 1748.6 L1900.2 1748.0 L1902.7 1748.3 L1905.2 1749.3 L1907.7 1751.2 L1910.2 1754.0 L1912.7 1757.4 L1915.2 1761.7 L1917.7 1766.7 L1920.2 1772.4 L1922.7 1778.7 L1925.2 1785.7 L1927.7 1793.2 L1930.2 1801.3 L1932.7 1809.8 L1935.2 1818.8 L1937.7 1828.2 L1940.2 1837.9 L1942.7 1847.9 L1945.2 1858.1 L1947.7 1868.5 L1950.2 1879.1 L1952.7 1889.8 L1955.2 1900.6 L1957.7 1911.3 L1960.2 1922.1 L1962.7 1932.8 L1965.2 1943.4 L1967.7 1953.9 L1970.2 1964.3 L1972.7 1974.5 L1975.2 1984.5 L1977.7 1994.2 L1980.2 2003.8 L1982.7 2013.0 L1985.2 2022.0 L1987.7 2030.7 L1990.2 2039.1 L1992.7 2047.1 L1995.2 2054.9 L1997.7 2062.3 L2000.2 2069.5 L2002.7 2076.2 L2005.2 2082.7 L2007.7 2088.8 L2010.2 2094.7 L2012.7 2100.2 L2015.2 2105.4 L2017.7 2110.3 L2020.2 2114.9 L2022.7 2119.2 L2025.2 2123.3 L2027.7 2127.1 L2030.2 2130.6 L2032.7 2133.9 L2035.2 2137.0 L2037.7 2139.8 L2040.2 2142.4 L2042.7 2144.9 L2045.2 2147.1 L2047.7 2149.2 L2050.2 2151.1 L2052.7 2152.9 L2055.2 2154.5 L2057.7 2156.0 L2060.2 2157.4 L2062.7 2158.7 L2065.2 2159.8 L2067.7 2160.8 L2070.2 2161.8 L2072.7 2162.7 L2075.2 2163.5 L2077.7 2164.2 L2080.2 2164.9 L2082.7 2165.5 L2085.2 2166.0 L2087.7 2166.6 L2090.2 2167.0 L2092.7 2167.4 L2095.2 2167.8 L2097.7 2168.2 L2100.2 2168.5 L2102.7 2168.8 L2105.2 2169.1 L2107.7 2169.4 L2110.2 2169.6 L2112.7 2169.8 L2115.2 2170.0 L2117.7 2170.2 L2120.2 2170.4 L2122.7 2170.6 L2125.2 2170.7 L2127.7 2170.9 L2130.2 2171.0 L2132.7 2171.1 L2135.2 2171.3 L2137.7 2171.4 L2140.2 2171.5 L2142.7 2171.6 L2145.2 2171.7 L2147.7 2171.8 L2150.2 2171.9 L2152.7 2172.0 L2155.2 2172.1 L2157.7 2172.2 L2160.2 2172.2 L2162.7 2172.3 L2165.2 2172.4 L2167.7 2172.5 L2170.2 2172.5 L2172.7 2172.6 L2175.2 2172.7 L2177.7 2172.7 L2180.2 2172.8 L2182.7 2172.9 L2185.2 2172.9 L2187.7 2173.0 L2190.2 2173.0 L2192.7 2173.1 L2195.2 2173.2 L2197.7 2173.2 L2200.2 2173.3 L2202.7 2173.3 L2205.2 2173.4 L2207.7 2173.4 L2210.2 2173.5 L2212.7 2173.5 L2215.2 2173.5 L2217.7 2173.6 L2220.2 2173.6 L2222.7 2173.7 L2225.2 2173.7 L2227.7 2173.8 L2230.2 2173.8 L2232.7 2173.8 L2235.2 2173.9 L2237.7 2173.9 L2240.2 2174.0 L2242.7 2174.0 L2245.2 2174.0 L2247.7 2174.1 L2250.2 2174.1 L2252.7 2174.1 L2255.2 2174.2 L2257.7 2174.2 L2260.2 2174.2 L2262.7 2174.2 L2265.2 2174.3 L2267.7 2174.3 L2270.2 2174.3 L2272.7 2174.4" fill="none" stroke="#0000ff" stroke-width="6.5" stroke-linejoin="round"/>
<path d="M1282.7 2176.1 L1285.2 2176.1 L1287.7 2176.1 L1290.2 2176.1 L1292.7 2176.1 L1295.2 2176.1 L1297.7 2176.1 L1300.2 2176.1 L1302.7 2176.1 L1305.2 2176.1 L1307.7 2176.1 L1310.2 2176.1 L1312.7 2176.1 L1315.2 2176.1 L1317.7 2176.1 L1320.2 2176.1 L1322.7 2176.1 L1325.2 2176.1 L1327.7 2176.1 L1330.2 2176.1 L1332.7 2176.1 L1335.2 2176.1 L1337.7 2176.1 L1340.2 2176.1 L1342.7 2176.1 L1345.2 2176.1 L1347.7 2176.1 L1350.2 2176.1 L1352.7 2176.1 L1355.2 2176.0 L1357.7 2176.0 L1360.2 2176.0 L1362.7 2176.0 L1365.2 2176.0 L1367.7 2176.0 L1370.2 2176.0 L1372.7 2176.0 L1375.2 2176.0 L1377.7 2176.0 L1380.2 2176.0 L1382.7 2176.0 L1385.2 2176.0 L1387.7 2176.0 L1390.2 2176.0 L1392.7 2176.0 L1395.2 2176.0 L1397.7 2176.0 L1400.2 2176.0 L1402.7 2176.0 L1405.2 2176.0 L1407.7 2176.0 L1410.2 2176.0 L1412.7 2176.0 L1415.2 2176.0 L1417.7 2175.9 L1420.2 2175.9 L1422.7 2175.9 L1425.2 2175.9 L1427.7 2175.9 L1430.2 2175.9 L1432.7 2175.9 L1435.2 2175.9 L1437.7 2175.9 L1440.2 2175.9 L1442.7 2175.9 L1445.2 2175.9 L1447.7 2175.9 L1450.2 2175.9 L1452.7 2175.9 L1455.2 2175.9 L1457.7 2175.9 L1460.2 2175.9 L1462.7 2175.9 L1465.2 2175.9 L1467.7 2175.8 L1470.2 2175.8 L1472.7 2175.8 L1475.2 2175.8 L1477.7 2175.8 L1480.2 2175.8 L1482.7 2175.8 L1485.2 2175.8 L1487.7 2175.8 L1490.2 2175.8 L1492.7 2175.8 L1495.2 2175.8 L1497.7 2175.8 L1500.2 2175.8 L1502.7 2175.8 L1505.2 2175.7 L1507.7 2175.7 L1510.2 2175.7 L1512.7 2175.7 L1515.2 2175.7 L1517.7 2175.7 L1520.2 2175.7 L1522.7 2175.7 L1525.2 2175.7 L1527.7 2175.7 L1530.2 2175.7 L1532.7 2175.7 L1535.2 2175.7 L1537.7 2175.6 L1540.2 2175.6 L1542.7 2175.6 L1545.2 2175.6 L1547.7 2175.6 L1550.2 2175.6 L1552.7 2175.6 L1555.2 2175.6 L1557.7 2175.6 L1560.2 2175.6 L1562.7 2175.5 L1565.2 2175.5 L1567.7 2175.5 L1570.2 2175.5 L1572.7 2175.5 L1575.2 2175.5 L1577.7 2175.5 L1580.2 2175.5 L1582.7 2175.5 L1585.2 2175.4 L1587.7 2175.4 L1590.2 2175.4 L1592.7 2175.4 L1595.2 2175.4 L1597.7 2175.4 L1600.2 2175.4 L1602.7 2175.4 L1605.2 2175.3 L1607.7 2175.3 L1610.2 2175.3 L1612.7 2175.3 L1615.2 2175.3 L1617.7 2175.3 L1620.2 2175.3 L1622.7 2175.2 L1625.2 2175.2 L1627.7 2175.2 L1630.2 2175.2 L1632.7 2175.2 L1635.2 2175.2 L1637.7 2175.1 L1640.2 2175.1 L1642.7 2175.1 L1645.2 2175.1 L1647.7 2175.1 L1650.2 2175.1 L1652.7 2175.0 L1655.2 2175.0 L1657.7 2175.0 L1660.2 2175.0 L1662.7 2175.0 L1665.2 2174.9 L1667.7 2174.9 L1670.2 2174.9 L1672.7 2174.9 L1675.2 2174.8 L1677.7 2174.8 L1680.2 2174.8 L1682.7 2174.8 L1685.2 2174.7 L1687.7 2174.7 L1690.2 2174.7 L1692.7 2174.7 L1695.2 2174.6 L1697.7 2174.6 L1700.2 2174.6 L1702.7 2174.5 L1705.2 2174.5 L1707.7 2174.5 L1710.2 2174.5 L1712.7 2174.4 L1715.2 2174.4 L1717.7 2174.4 L1720.2 2174.3 L1722.7 2174.3 L1725.2 2174.2 L1727.7 2174.2 L1730.2 2174.2 L1732.7 2174.1 L1735.2 2174.1 L1737.7 2174.0 L1740.2 2174.0 L1742.7 2174.0 L1745.2 2173.9 L1747.7 2173.9 L1750.2 2173.8 L1752.7 2173.8 L1755.2 2173.7 L1757.7 2173.7 L1760.2 2173.6 L1762.7 2173.6 L1765.2 2173.5 L1767.7 2173.4 L1770.2 2173.4 L1772.7 2173.3 L1775.2 2173.3 L1777.7 2173.2 L1780.2 2173.1 L1782.7 2173.1 L1785.2 2173.0 L1787.7 2172.9 L1790.2 2172.8 L1792.7 2172.8 L1795.2 2172.7 L1797.7 2172.6 L1800.2 2172.5 L1802.7 2172.4 L1805.2 2172.3 L1807.7 2172.2 L1810.2 2172.2 L1812.7 2172.1 L1815.2 2171.9 L1817.7 2171.8 L1820.2 2171.7 L1822.7 2171.6 L1825.2 2171.5 L1827.7 2171.4 L1830.2 2171.2 L1832.7 2171.1 L1835.2 2171.0 L1837.7 2170.8 L1840.2 2170.7 L1842.7 2170.5 L1845.2 2170.3 L1847.7 2170.2 L1850.2 2170.0 L1852.7 2169.8 L1855.2 2169.6 L1857.7 2169.4 L1860.2 2169.1 L1862.7 2168.9 L1865.2 2168.7 L1867.7 2168.4 L1870.2 2168.1 L1872.7 2167.8 L1875.2 2167.4 L1877.7 2167.1 L1880.2 2166.7 L1882.7 2166.2 L1885.2 2165.8 L1887.7 2165.2 L1890.2 2164.7 L1892.7 2164.1 L1895.2 2163.4 L1897.7 2162.6 L1900.2 2161.8 L1902.7 2160.9 L1905.2 2159.9 L1907.7 2158.8 L1910.2 2157.6 L1912.7 2156.3 L1915.2 2154.8 L1917.7 2153.2 L1920.2 2151.4 L1922.7 2149.5 L1925.2 2147.3 L1927.7 2145.0 L1930.2 2142.5 L1932.7 2139.8 L1935.2 2136.8 L1937.7 2133.6 L1940.2 2130.1 L1942.7 2126.4 L1945.2 2122.4 L1947.7 2118.1 L1950.2 2113.6 L1952.7 2108.8 L1955.2 2103.7 L1957.7 2098.3 L1960.2 2092.7 L1962.7 2086.8 L1965.2 2080.7 L1967.7 2074.4 L1970.2 2067.8 L1972.7 2061.1 L1975.2 2054.3 L1977.7 2047.3 L1980.2 2040.3 L1982.7 2033.2 L1985.2 2026.2 L1987.7 2019.2 L1990.2 2012.4 L1992.7 2005.7 L1995.2 1999.3 L1997.7 1993.3 L2000.2 1987.6 L2002.7 1982.5 L2005.2 1977.9 L2007.7 1973.9 L2010.2 1970.7 L2012.7 1968.2 L2015.2 1966.5 L2017.7 1965.6 L2020.2 1965.6 L2022.7 1966.4 L2025.2 1968.1 L2027.7 1970.6 L2030.2 1973.8 L2032.7 1977.7 L2035.2 1982.3 L2037.7 1987.4 L2040.2 1993.0 L2042.7 1999.1 L2045.2 2005.4 L2047.7 2012.1 L2050.2 2018.9 L2052.7 2025.9 L2055.2 2032.9 L2057.7 2040.0 L2060.2 2047.0 L2062.7 2054.0 L2065.2 2060.9 L2067.7 2067.6 L2070.2 2074.1 L2072.7 2080.5 L2075.2 2086.6 L2077.7 2092.5 L2080.2 2098.1 L2082.7 2103.5 L2085.2 2108.6 L2087.7 2113.4 L2090.2 2117.9 L2092.7 2122.2 L2095.2 2126.2 L2097.7 2130.0 L2100.2 2133.4 L2102.7 2136.7 L2105.2 2139.6 L2107.7 2142.4 L2110.2 2144.9 L2112.7 2147.3 L2115.2 2149.4 L2117.7 2151.3 L2120.2 2153.1 L2122.7 2154.7 L2125.2 2156.2 L2127.7 2157.6 L2130.2 2158.8 L2132.7 2159.9 L2135.2 2160.9 L2137.7 2161.8 L2140.2 2162.6 L2142.7 2163.4 L2145.2 2164.0 L2147.7 2164.7 L2150.2 2165.2 L2152.7 2165.7 L2155.2 2166.2 L2157.7 2166.6 L2160.2 2167.0 L2162.7 2167.4 L2165.2 2167.8 L2167.7 2168.1 L2170.2 2168.4 L2172.7 2168.6 L2175.2 2168.9 L2177.7 2169.1 L2180.2 2169.4 L2182.7 2169.6 L2185.2 2169.8 L2187.7 2170.0 L2190.2 2170.2 L2192.7 2170.3 L2195.2 2170.5 L2197.7 2170.7 L2200.2 2170.8 L2202.7 2171.0 L2205.2 2171.1 L2207.7 2171.2 L2210.2 2171.4 L2212.7 2171.5 L2215.2 2171.6 L2217.7 2171.7 L2220.2 2171.8 L2222.7 2171.9 L2225.2 2172.0 L2227.7 2172.1 L2230.2 2172.2 L2232.7 2172.3 L2235.2 2172.4 L2237.7 2172.5 L2240.2 2172.6 L2242.7 2172.7 L2245.2 2172.8 L2247.7 2172.8 L2250.2 2172.9 L2252.7 2173.0 L2255.2 2173.1 L2257.7 2173.1 L2260.2 2173.2 L2262.7 2173.3 L2265.2 2173.3 L2267.7 2173.4 L2270.2 2173.4 L2272.7 2173.5" fill="none" stroke="#ff0000" stroke-width="7.0" stroke-linejoin="round"/>
<path d="M1282.7 2176.5 L1285.2 2176.5 L1287.7 2176.5 L1290.2 2176.5 L1292.7 2176.5 L1295.2 2176.5 L1297.7 2176.5 L1300.2 2176.5 L1302.7 2176.5 L1305.2 2176.5 L1307.7 2176.5 L1310.2 2176.5 L1312.7 2176.5 L1315.2 2176.5 L1317.7 2176.5 L1320.2 2176.5 L1322.7 2176.5 L1325.2 2176.5 L1327.7 2176.5 L1330.2 2176.5 L1332.7 2176.5 L1335.2 2176.5 L1337.7 2176.5 L1340.2 2176.5 L1342.7 2176.5 L1345.2 2176.5 L1347.7 2176.5 L1350.2 2176.5 L1352.7 2176.5 L1355.2 2176.5 L1357.7 2176.5 L1360.2 2176.5 L1362.7 2176.5 L1365.2 2176.5 L1367.7 2176.5 L1370.2 2176.5 L1372.7 2176.5 L1375.2 2176.5 L1377.7 2176.5 L1380.2 2176.5 L1382.7 2176.5 L1385.2 2176.5 L1387.7 2176.5 L1390.2 2176.5 L1392.7 2176.5 L1395.2 2176.5 L1397.7 2176.5 L1400.2 2176.5 L1402.7 2176.5 L1405.2 2176.5 L1407.7 2176.5 L1410.2 2176.5 L1412.7 2176.5 L1415.2 2176.5 L1417.7 2176.5 L1420.2 2176.5 L1422.7 2176.5 L1425.2 2176.5 L1427.7 2176.5 L1430.2 2176.5 L1432.7 2176.5 L1435.2 2176.5 L1437.7 2176.5 L1440.2 2176.5 L1442.7 2176.5 L1445.2 2176.5 L1447.7 2176.5 L1450.2 2176.5 L1452.7 2176.5 L1455.2 2176.5 L1457.7 2176.5 L1460.2 2176.5 L1462.7 2176.5 L1465.2 2176.5 L1467.7 2176.5 L1470.2 2176.5 L1472.7 2176.5 L1475.2 2176.5 L1477.7 2176.5 L1480.2 2176.5 L1482.7 2176.5 L1485.2 2176.5 L1487.7 2176.5 L1490.2 2176.5 L1492.7 2176.5 L1495.2 2176.5 L1497.7 2176.5 L1500.2 2176.5 L1502.7 2176.5 L1505.2 2176.5 L1507.7 2176.5 L1510.2 2176.5 L1512.7 2176.5 L1515.2 2176.5 L1517.7 2176.5 L1520.2 2176.5 L1522.7 2176.5 L1525.2 2176.5 L1527.7 2176.5 L1530.2 2176.5 L1532.7 2176.5 L1535.2 2176.5 L1537.7 2176.5 L1540.2 2176.5 L1542.7 2176.5 L1545.2 2176.5 L1547.7 2176.5 L1550.2 2176.5 L1552.7 2176.5 L1555.2 2176.5 L1557.7 2176.5 L1560.2 2176.5 L1562.7 2176.5 L1565.2 2176.5 L1567.7 2176.5 L1570.2 2176.5 L1572.7 2176.5 L1575.2 2176.5 L1577.7 2176.5 L1580.2 2176.5 L1582.7 2176.5 L1585.2 2176.5 L1587.7 2176.5 L1590.2 2176.5 L1592.7 2176.5 L1595.2 2176.5 L1597.7 2176.5 L1600.2 2176.5 L1602.7 2176.5 L1605.2 2176.5 L1607.7 2176.5 L1610.2 2176.5 L1612.7 2176.5 L1615.2 2176.5 L1617.7 2176.5 L1620.2 2176.5 L1622.7 2176.5 L1625.2 2176.5 L1627.7 2176.5 L1630.2 2176.5 L1632.7 2176.5 L1635.2 2176.5 L1637.7 2176.5 L1640.2 2176.5 L1642.7 2176.5 L1645.2 2176.5 L1647.7 2176.5 L1650.2 2176.5 L1652.7 2176.5 L1655.2 2176.5 L1657.7 2176.5 L1660.2 2176.5 L1662.7 2176.5 L1665.2 2176.5 L1667.7 2176.5 L1670.2 2176.5 L1672.7 2176.5 L1675.2 2176.5 L1677.7 2176.5 L1680.2 2176.5 L1682.7 2176.5 L1685.2 2176.5 L1687.7 2176.5 L1690.2 2176.5 L1692.7 2176.5 L1695.2 2176.5 L1697.7 2176.5 L1700.2 2176.5 L1702.7 2176.5 L1705.2 2176.5 L1707.7 2176.5 L1710.2 2176.5 L1712.7 2176.5 L1715.2 2176.5 L1717.7 2176.5 L1720.2 2176.5 L1722.7 2176.5 L1725.2 2176.5 L1727.7 2176.5 L1730.2 2176.5 L1732.7 2176.5 L1735.2 2176.5 L1737.7 2176.5 L1740.2 2176.5 L1742.7 2176.5 L1745.2 2176.5 L1747.7 2176.5 L1750.2 2176.5 L1752.7 2176.5 L1755.2 2176.5 L1757.7 2176.5 L1760.2 2176.5 L1762.7 2176.5 L1765.2 2176.5 L1767.7 2176.5 L1770.2 2176.5 L1772.7 2176.5 L1775.2 2176.5 L1777.7 2176.5 L1780.2 2176.5 L1782.7 2176.5 L1785.2 2176.5 L1787.7 2176.5 L1790.2 2176.5 L1792.7 2176.5 L1795.2 2176.5 L1797.7 2176.5 L1800.2 2176.5 L1802.7 2176.5 L1805.2 2176.5 L1807.7 2176.5 L1810.2 2176.5 L1812.7 2176.5 L1815.2 2176.5 L1817.7 2176.5 L1820.2 2176.5 L1822.7 2176.5 L1825.2 2176.5 L1827.7 2176.5 L1830.2 2176.5 L1832.7 2176.5 L1835.2 2176.5 L1837.7 2176.5 L1840.2 2176.5 L1842.7 2176.5 L1845.2 2176.5 L1847.7 2176.5 L1850.2 2176.5 L1852.7 2176.5 L1855.2 2176.5 L1857.7 2176.5 L1860.2 2176.5 L1862.7 2176.5 L1865.2 2176.5 L1867.7 2176.5 L1870.2 2176.5 L1872.7 2176.5 L1875.2 2176.5 L1877.7 2176.5 L1880.2 2176.5 L1882.7 2176.5 L1885.2 2176.5 L1887.7 2176.5 L1890.2 2176.5 L1892.7 2176.5 L1895.2 2176.5 L1897.7 2176.5 L1900.2 2176.5 L1902.7 2176.5 L1905.2 2176.5 L1907.7 2176.5 L1910.2 2176.5 L1912.7 2176.5 L1915.2 2176.5 L1917.7 2176.5 L1920.2 2176.5 L1922.7 2176.4 L1925.2 2176.4 L1927.7 2176.4 L1930.2 2176.4 L1932.7 2176.4 L1935.2 2176.3 L1937.7 2176.3 L1940.2 2176.3 L1942.7 2176.2 L1945.2 2176.1 L1947.7 2176.1 L1950.2 2176.0 L1952.7 2175.9 L1955.2 2175.7 L1957.7 2175.6 L1960.2 2175.4 L1962.7 2175.2 L1965.2 2174.9 L1967.7 2174.6 L1970.2 2174.2 L1972.7 2173.8 L1975.2 2173.4 L1977.7 2172.9 L1980.2 2172.2 L1982.7 2171.6 L1985.2 2170.8 L1987.7 2169.9 L1990.2 2168.9 L1992.7 2167.8 L1995.2 2166.6 L1997.7 2165.2 L2000.2 2163.7 L2002.7 2162.1 L2005.2 2160.3 L2007.7 2158.3 L2010.2 2156.1 L2012.7 2153.8 L2015.2 2151.4 L2017.7 2148.7 L2020.2 2145.9 L2022.7 2142.9 L2025.2 2139.8 L2027.7 2136.5 L2030.2 2133.0 L2032.7 2129.5 L2035.2 2125.8 L2037.7 2122.0 L2040.2 2118.2 L2042.7 2114.3 L2045.2 2110.4 L2047.7 2106.5 L2050.2 2102.6 L2052.7 2098.8 L2055.2 2095.1 L2057.7 2091.5 L2060.2 2088.1 L2062.7 2084.9 L2065.2 2081.8 L2067.7 2079.1 L2070.2 2076.6 L2072.7 2074.4 L2075.2 2072.5 L2077.7 2071.0 L2080.2 2069.8 L2082.7 2069.0 L2085.2 2068.6 L2087.7 2068.5 L2090.2 2068.9 L2092.7 2069.6 L2095.2 2070.7 L2097.7 2072.2 L2100.2 2074.0 L2102.7 2076.1 L2105.2 2078.5 L2107.7 2081.3 L2110.2 2084.2 L2112.7 2087.4 L2115.2 2090.8 L2117.7 2094.4 L2120.2 2098.1 L2122.7 2101.9 L2125.2 2105.7 L2127.7 2109.6 L2130.2 2113.5 L2132.7 2117.4 L2135.2 2121.3 L2137.7 2125.1 L2140.2 2128.8 L2142.7 2132.3 L2145.2 2135.8 L2147.7 2139.1 L2150.2 2142.3 L2152.7 2145.3 L2155.2 2148.2 L2157.7 2150.9 L2160.2 2153.4 L2162.7 2155.7 L2165.2 2157.9 L2167.7 2159.9 L2170.2 2161.7 L2172.7 2163.4 L2175.2 2164.9 L2177.7 2166.3 L2180.2 2167.6 L2182.7 2168.7 L2185.2 2169.7 L2187.7 2170.6 L2190.2 2171.4 L2192.7 2172.1 L2195.2 2172.7 L2197.7 2173.3 L2200.2 2173.8 L2202.7 2174.2 L2205.2 2174.5 L2207.7 2174.8 L2210.2 2175.1 L2212.7 2175.3 L2215.2 2175.5 L2217.7 2175.7 L2220.2 2175.8 L2222.7 2175.9 L2225.2 2176.0 L2227.7 2176.1 L2230.2 2176.2 L2232.7 2176.3 L2235.2 2176.3 L2237.7 2176.3 L2240.2 2176.4 L2242.7 2176.4 L2245.2 2176.4 L2247.7 2176.4 L2250.2 2176.4 L2252.7 2176.5 L2255.2 2176.5 L2257.7 2176.5 L2260.2 2176.5 L2262.7 2176.5 L2265.2 2176.5 L2267.7 2176.5 L2270.2 2176.5 L2272.7 2176.5" fill="none" stroke="#00ff00" stroke-width="7.2" stroke-linejoin="round"/>
<g fill="#000"><circle cx="2274.0" cy="2169.2" r="10.5"/><circle cx="2268.3" cy="2168.8" r="10.5"/><circle cx="2262.7" cy="2168.3" r="10.5"/><circle cx="2257.0" cy="2167.9" r="10.5"/><circle cx="2251.3" cy="2167.4" r="10.5"/><circle cx="2245.7" cy="2167.0" r="10.5"/><circle cx="2240.0" cy="2166.5" r="10.5"/><circle cx="2234.3" cy="2166.0" r="10.5"/><circle cx="2228.7" cy="2165.4" r="10.5"/><circle cx="2223.0" cy="2164.8" r="10.5"/><circle cx="2217.4" cy="2164.1" r="10.5"/><circle cx="2211.7" cy="2163.3" r="10.5"/><circle cx="2206.0" cy="2162.4" r="10.5"/><circle cx="2200.4" cy="2161.3" r="10.5"/><circle cx="2194.7" cy="2159.9" r="10.5"/><circle cx="2189.0" cy="2158.0" r="10.5"/><circle cx="2183.4" cy="2155.7" r="10.5"/><circle cx="2177.7" cy="2152.7" r="10.5"/><circle cx="2172.0" cy="2148.8" r="10.5"/><circle cx="2160.7" cy="2137.2" r="10.5"/><circle cx="2149.4" cy="2120.8" r="10.5"/><circle cx="2138.1" cy="2100.6" r="10.5"/><circle cx="2126.7" cy="2077.2" r="10.5"/><circle cx="2115.4" cy="2051.8" r="10.5"/><circle cx="2104.1" cy="2026.0" r="10.5"/><circle cx="2092.7" cy="2000.8" r="10.5"/><circle cx="2081.4" cy="1976.4" r="10.5"/><circle cx="2070.1" cy="1952.7" r="10.5"/><circle cx="2058.7" cy="1928.9" r="10.5"/><circle cx="2047.4" cy="1905.5" r="10.5"/><circle cx="2036.1" cy="1883.6" r="10.5"/><circle cx="2024.8" cy="1866.2" r="10.5"/><circle cx="2013.4" cy="1857.1" r="10.5"/><circle cx="2002.1" cy="1855.8" r="10.5"/><circle cx="1990.8" cy="1856.4" r="10.5"/><circle cx="1979.4" cy="1852.3" r="10.5"/><circle cx="1968.1" cy="1840.1" r="10.5"/><circle cx="1956.8" cy="1819.8" r="10.5"/><circle cx="1945.5" cy="1793.6" r="10.5"/><circle cx="1934.1" cy="1764.6" r="10.5"/><circle cx="1922.8" cy="1738.1" r="10.5"/><circle cx="1911.5" cy="1719.5" r="10.5"/><circle cx="1900.1" cy="1713.3" r="10.5"/><circle cx="1888.8" cy="1722.0" r="10.5"/><circle cx="1877.5" cy="1744.5" r="10.5"/><circle cx="1866.2" cy="1775.6" r="10.5"/><circle cx="1854.8" cy="1810.0" r="10.5"/><circle cx="1843.5" cy="1842.3" r="10.5"/><circle cx="1832.2" cy="1867.5" r="10.5"/><circle cx="1820.8" cy="1881.0" r="10.5"/><circle cx="1809.5" cy="1878.9" r="10.5"/><circle cx="1798.2" cy="1860.5" r="10.5"/><circle cx="1786.8" cy="1826.4" r="10.5"/><circle cx="1775.5" cy="1777.2" r="10.5"/><circle cx="1764.2" cy="1717.0" r="10.5"/><circle cx="1752.9" cy="1652.8" r="10.5"/><circle cx="1741.5" cy="1590.4" r="10.5"/><circle cx="1730.2" cy="1535.6" r="10.5"/><circle cx="1718.9" cy="1495.3" r="10.5"/><circle cx="1707.5" cy="1473.7" r="10.5"/><circle cx="1696.2" cy="1472.0" r="10.5"/><circle cx="1684.9" cy="1487.6" r="10.5"/><circle cx="1673.6" cy="1515.4" r="10.5"/><circle cx="1662.2" cy="1551.1" r="10.5"/><circle cx="1650.9" cy="1590.2" r="10.5"/><circle cx="1639.6" cy="1629.5" r="10.5"/><circle cx="1628.2" cy="1668.7" r="10.5"/><circle cx="1616.9" cy="1709.0" r="10.5"/><circle cx="1605.6" cy="1752.3" r="10.5"/><circle cx="1594.3" cy="1798.1" r="10.5"/><circle cx="1582.9" cy="1845.3" r="10.5"/><circle cx="1571.6" cy="1892.8" r="10.5"/><circle cx="1560.3" cy="1937.8" r="10.5"/><circle cx="1548.9" cy="1978.9" r="10.5"/><circle cx="1537.6" cy="2016.3" r="10.5"/><circle cx="1526.3" cy="2048.5" r="10.5"/><circle cx="1514.9" cy="2075.0" r="10.5"/><circle cx="1503.6" cy="2096.5" r="10.5"/><circle cx="1492.3" cy="2113.4" r="10.5"/><circle cx="1481.0" cy="2126.4" r="10.5"/><circle cx="1469.6" cy="2136.1" r="10.5"/><circle cx="1464.0" cy="2140.0" r="10.5"/><circle cx="1458.3" cy="2143.3" r="10.5"/><circle cx="1452.6" cy="2146.1" r="10.5"/><circle cx="1447.0" cy="2148.5" r="10.5"/><circle cx="1441.3" cy="2150.7" r="10.5"/><circle cx="1435.6" cy="2152.5" r="10.5"/><circle cx="1430.0" cy="2154.0" r="10.5"/><circle cx="1424.3" cy="2155.4" r="10.5"/><circle cx="1418.6" cy="2156.5" r="10.5"/><circle cx="1413.0" cy="2157.6" r="10.5"/><circle cx="1407.3" cy="2158.6" r="10.5"/><circle cx="1401.7" cy="2159.5" r="10.5"/><circle cx="1396.0" cy="2160.3" r="10.5"/><circle cx="1390.3" cy="2161.0" r="10.5"/><circle cx="1384.7" cy="2161.7" r="10.5"/><circle cx="1379.0" cy="2162.3" r="10.5"/><circle cx="1373.3" cy="2162.9" r="10.5"/><circle cx="1367.7" cy="2163.4" r="10.5"/><circle cx="1362.0" cy="2163.9" r="10.5"/><circle cx="1356.3" cy="2164.4" r="10.5"/><circle cx="1350.7" cy="2164.9" r="10.5"/><circle cx="1345.0" cy="2165.3" r="10.5"/><circle cx="1339.3" cy="2165.8" r="10.5"/><circle cx="1333.7" cy="2166.2" r="10.5"/><circle cx="1328.0" cy="2166.6" r="10.5"/><circle cx="1322.4" cy="2167.0" r="10.5"/><circle cx="1316.7" cy="2167.3" r="10.5"/><circle cx="1311.0" cy="2167.7" r="10.5"/><circle cx="1305.4" cy="2168.0" r="10.5"/><circle cx="1299.7" cy="2168.4" r="10.5"/><circle cx="1294.0" cy="2168.7" r="10.5"/><circle cx="1288.4" cy="2169.0" r="10.5"/></g>
<path d="M1282.7 2236.7 V1206.7 H2274.0 V2236.7" fill="none" stroke="#000" stroke-width="6.6" stroke-linejoin="miter" stroke-linecap="butt"/>
<path d="M1282.7 2200.2 H2274.0" fill="none" stroke="#000" stroke-width="7.0"/>
<path d="M1353.5 2200.2 V2219.7 M1424.3 2200.2 V2236.7 M1495.1 2200.2 V2219.7 M1565.9 2200.2 V2236.7 M1636.7 2200.2 V2219.7 M1707.5 2200.2 V2236.7 M1778.3 2200.2 V2219.7 M1849.2 2200.2 V2236.7 M1920.0 2200.2 V2219.7 M1990.8 2200.2 V2236.7 M2061.6 2200.2 V2219.7 M2132.4 2200.2 V2236.7 M2203.2 2200.2 V2219.7" fill="none" stroke="#000" stroke-width="6.0" stroke-linecap="butt"/>
<text x="1281.7" y="2293.5" text-anchor="middle" style="font-family:'Liberation Serif',serif;font-weight:bold;font-size:50.6px;stroke:#000;stroke-width:0.90px;stroke-linejoin:round">3225</text>
<text x="1423.3" y="2293.5" text-anchor="middle" style="font-family:'Liberation Serif',serif;font-weight:bold;font-size:50.6px;stroke:#000;stroke-width:0.90px;stroke-linejoin:round">3200</text>
<text x="1564.9" y="2293.5" text-anchor="middle" style="font-family:'Liberation Serif',serif;font-weight:bold;font-size:50.6px;stroke:#000;stroke-width:0.90px;stroke-linejoin:round">3175</text>
<text x="1706.5" y="2293.5" text-anchor="middle" style="font-family:'Liberation Serif',serif;font-weight:bold;font-size:50.6px;stroke:#000;stroke-width:0.90px;stroke-linejoin:round">3150</text>
<text x="1848.2" y="2293.5" text-anchor="middle" style="font-family:'Liberation Serif',serif;font-weight:bold;font-size:50.6px;stroke:#000;stroke-width:0.90px;stroke-linejoin:round">3125</text>
<text x="1989.8" y="2293.5" text-anchor="middle" style="font-family:'Liberation Serif',serif;font-weight:bold;font-size:50.6px;stroke:#000;stroke-width:0.90px;stroke-linejoin:round">3100</text>
<text x="2131.4" y="2293.5" text-anchor="middle" style="font-family:'Liberation Serif',serif;font-weight:bold;font-size:50.6px;stroke:#000;stroke-width:0.90px;stroke-linejoin:round">3075</text>
<text x="2273.0" y="2293.5" text-anchor="middle" style="font-family:'Liberation Serif',serif;font-weight:bold;font-size:50.6px;stroke:#000;stroke-width:0.90px;stroke-linejoin:round">3050</text>
<text x="1778.6" y="2372.0" text-anchor="middle" style="font-family:'Liberation Serif',serif;font-weight:bold;font-size:73.3px;stroke:#000;stroke-width:0.90px;stroke-linejoin:round">Wavenumber (cm<tspan dx="7.5" dy="-22.0" style="font-size:43.5px">-1</tspan><tspan dy="22.0" dx="0.0">)</tspan></text>
<text transform="translate(1257.9 1704.1) rotate(-90)" text-anchor="middle" style="font-family:'Liberation Serif',serif;font-weight:bold;font-size:69.0px;stroke:#000;stroke-width:0.90px;stroke-linejoin:round">Absorbance (offset scale)</text>
<text x="1304.0" y="1285.6" style="font-family:'Liberation Serif',serif;font-weight:bold;font-size:59.6px;stroke:#000;stroke-width:0.90px;stroke-linejoin:round">(d) [EPrI][TFSI]/PCL</text>
<text x="1391.6" y="1350.4" style="font-family:'Liberation Serif',serif;font-weight:bold;font-size:59.6px;stroke:#000;stroke-width:0.90px;stroke-linejoin:round">=30/70</text>
</g>
</svg>
</body></html>
